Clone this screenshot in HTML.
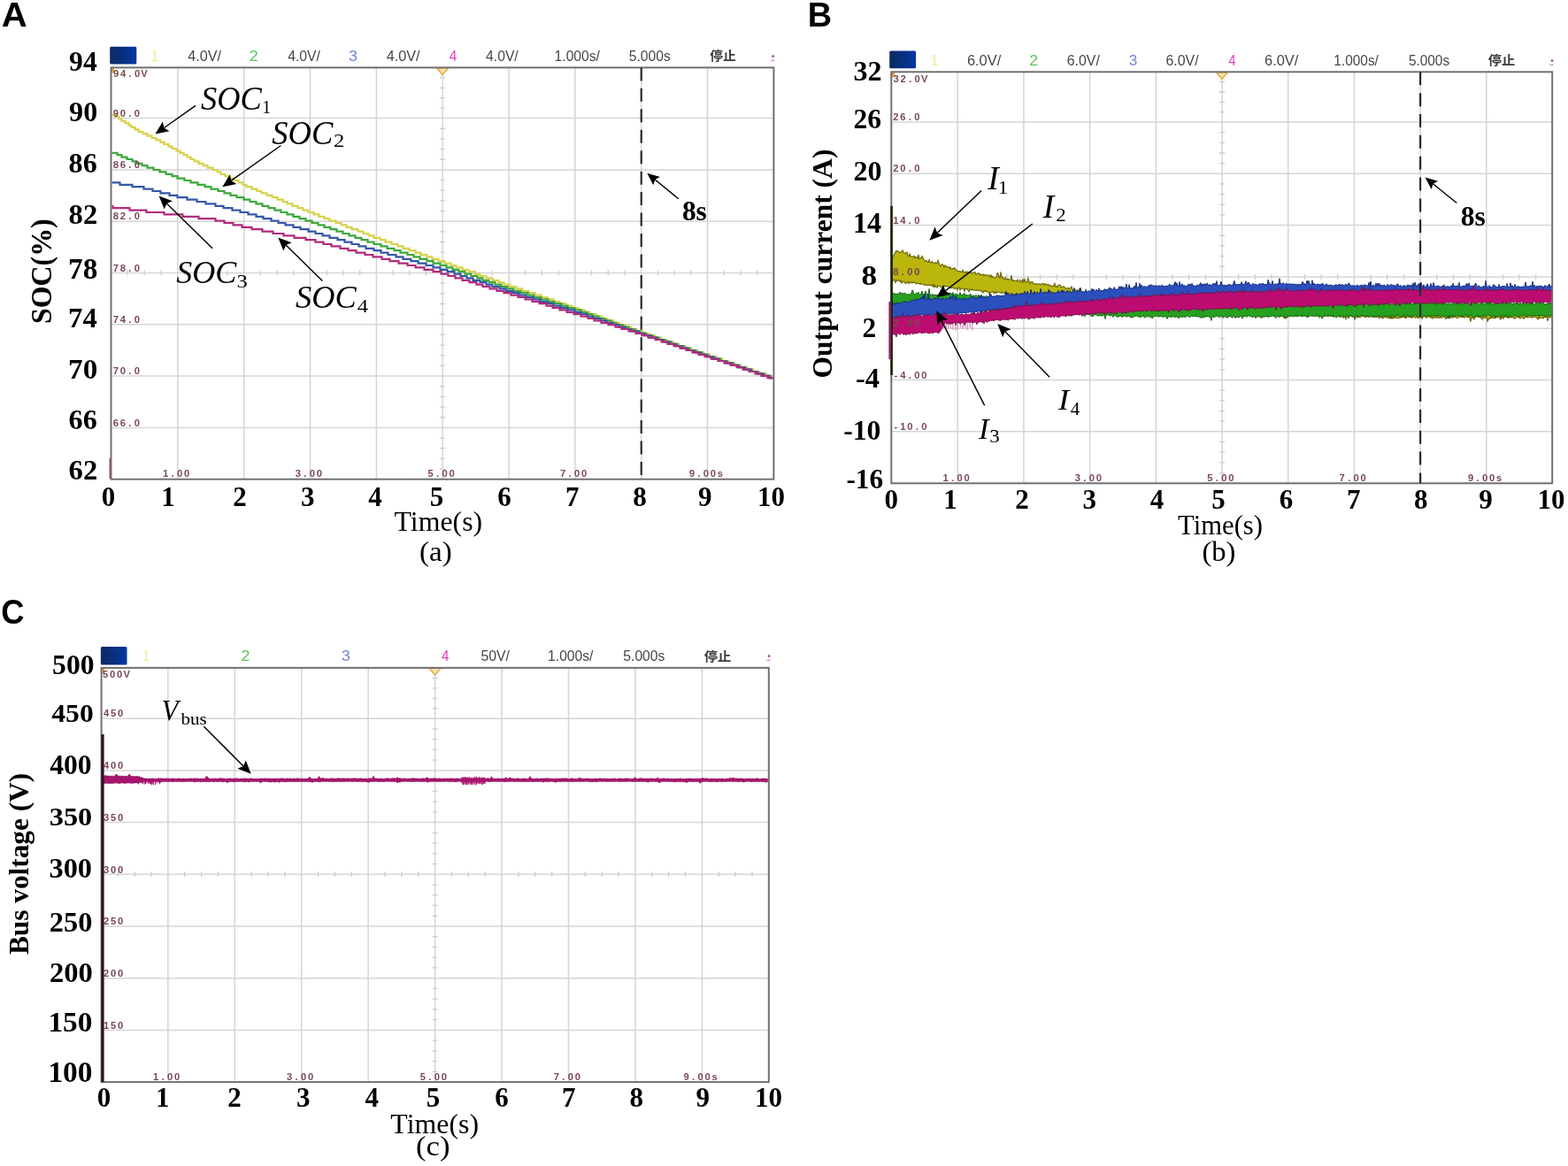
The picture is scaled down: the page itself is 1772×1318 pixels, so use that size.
<!DOCTYPE html>
<html><head><meta charset="utf-8"><title>SOC, output current and bus voltage waveforms</title>
<style>html,body{margin:0;padding:0;background:#fff;}body{width:1772px;height:1318px;overflow:hidden;}svg{display:block;}</style>
</head><body>
<svg width="1772" height="1318" viewBox="0 0 1772 1318">
<defs><linearGradient id="bx" x1="0" y1="0" x2="1" y2="0"><stop offset="0" stop-color="#0b2a66"/><stop offset="0.5" stop-color="#09307f"/><stop offset="1" stop-color="#0537a6"/></linearGradient></defs>
<rect width="1772" height="1318" fill="#fff"/>
<path d="M200.84 76.4V541.7M275.68 76.4V541.7M350.52 76.4V541.7M425.36 76.4V541.7M500.2 76.4V541.7M575.04 76.4V541.7M649.88 76.4V541.7M724.72 76.4V541.7M799.56 76.4V541.7M125.5 133.6H874.4M125.5 191.9H874.4M125.5 250.2H874.4M125.5 308.5H874.4M125.5 366.8H874.4M125.5 425.1H874.4M125.5 483.4H874.4" stroke="#d5d5d5" stroke-width="1.5" fill="none"/>
<path d="M144.34 305.5V311.5M163.17 305.5V311.5M182 305.5V311.5M219.55 305.5V311.5M238.26 305.5V311.5M256.97 305.5V311.5M294.39 305.5V311.5M313.1 305.5V311.5M331.81 305.5V311.5M369.23 305.5V311.5M387.94 305.5V311.5M406.65 305.5V311.5M444.07 305.5V311.5M462.78 305.5V311.5M481.49 305.5V311.5M518.91 305.5V311.5M537.62 305.5V311.5M556.33 305.5V311.5M593.75 305.5V311.5M612.46 305.5V311.5M631.17 305.5V311.5M668.59 305.5V311.5M687.3 305.5V311.5M706.01 305.5V311.5M743.43 305.5V311.5M762.14 305.5V311.5M780.85 305.5V311.5M818.27 305.5V311.5M836.98 305.5V311.5M855.69 305.5V311.5M497.2 87.84H503.2M497.2 99.28H503.2M497.2 110.72H503.2M497.2 122.16H503.2M497.2 145.26H503.2M497.2 156.92H503.2M497.2 168.58H503.2M497.2 180.24H503.2M497.2 203.56H503.2M497.2 215.22H503.2M497.2 226.88H503.2M497.2 238.54H503.2M497.2 261.86H503.2M497.2 273.52H503.2M497.2 285.18H503.2M497.2 296.84H503.2M497.2 320.16H503.2M497.2 331.82H503.2M497.2 343.48H503.2M497.2 355.14H503.2M497.2 378.46H503.2M497.2 390.12H503.2M497.2 401.78H503.2M497.2 413.44H503.2M497.2 436.76H503.2M497.2 448.42H503.2M497.2 460.08H503.2M497.2 471.74H503.2M497.2 495.06H503.2M497.2 506.72H503.2M497.2 518.38H503.2M497.2 530.04H503.2" stroke="#cdcdcd" stroke-width="1.3" fill="none"/>
<rect x="124.2" y="52.7" width="30.1" height="19.8" rx="1.5" fill="url(#bx)"/>
<rect x="872.3" y="62.3" width="2.6" height="2.6" fill="#b050a8"/><rect x="870.9" y="67.5" width="4.2" height="1.7" fill="#dca0d6"/>
<path d="M493.7 76.9L506.7 76.9L500.2 84.4Z" fill="#fbe3a8" stroke="#e2a640" stroke-width="1.4"/>
<path d="M124.5 518V541" stroke="#b03080" stroke-width="2"/>
<path d="M1082.2 81.3V546.3M1156.9 81.3V546.3M1231.6 81.3V546.3M1306.3 81.3V546.3M1381 81.3V546.3M1455.7 81.3V546.3M1530.4 81.3V546.3M1605.1 81.3V546.3M1679.8 81.3V546.3M1007.3 138H1754.2M1007.3 196.3H1754.2M1007.3 254.6H1754.2M1007.3 312.9H1754.2M1007.3 371.2H1754.2M1007.3 429.5H1754.2M1007.3 487.8H1754.2" stroke="#d5d5d5" stroke-width="1.5" fill="none"/>
<path d="M1026.03 309.9V315.9M1044.75 309.9V315.9M1063.47 309.9V315.9M1100.88 309.9V315.9M1119.55 309.9V315.9M1138.23 309.9V315.9M1175.58 309.9V315.9M1194.25 309.9V315.9M1212.92 309.9V315.9M1250.27 309.9V315.9M1268.95 309.9V315.9M1287.62 309.9V315.9M1324.97 309.9V315.9M1343.65 309.9V315.9M1362.33 309.9V315.9M1399.67 309.9V315.9M1418.35 309.9V315.9M1437.03 309.9V315.9M1474.38 309.9V315.9M1493.05 309.9V315.9M1511.73 309.9V315.9M1549.08 309.9V315.9M1567.75 309.9V315.9M1586.42 309.9V315.9M1623.78 309.9V315.9M1642.45 309.9V315.9M1661.12 309.9V315.9M1698.4 309.9V315.9M1717 309.9V315.9M1735.6 309.9V315.9M1378 92.64H1384M1378 103.98H1384M1378 115.32H1384M1378 126.66H1384M1378 149.66H1384M1378 161.32H1384M1378 172.98H1384M1378 184.64H1384M1378 207.96H1384M1378 219.62H1384M1378 231.28H1384M1378 242.94H1384M1378 266.26H1384M1378 277.92H1384M1378 289.58H1384M1378 301.24H1384M1378 324.56H1384M1378 336.22H1384M1378 347.88H1384M1378 359.54H1384M1378 382.86H1384M1378 394.52H1384M1378 406.18H1384M1378 417.84H1384M1378 441.16H1384M1378 452.82H1384M1378 464.48H1384M1378 476.14H1384M1378 499.5H1384M1378 511.2H1384M1378 522.9H1384M1378 534.6H1384" stroke="#cdcdcd" stroke-width="1.3" fill="none"/>
<rect x="1005.2" y="57.6" width="29.9" height="19.7" rx="1.5" fill="url(#bx)"/>
<rect x="1752.8" y="67.3" width="2.6" height="2.6" fill="#b050a8"/><rect x="1751.4" y="72.5" width="4.2" height="1.7" fill="#dca0d6"/>
<path d="M1374.5 81.8L1387.5 81.8L1381 89.3Z" fill="#fbe3a8" stroke="#e2a640" stroke-width="1.4"/>
<path d="M189.84 754.9V1223.1M265.28 754.9V1223.1M340.72 754.9V1223.1M416.16 754.9V1223.1M491.6 754.9V1223.1M567.04 754.9V1223.1M642.48 754.9V1223.1M717.92 754.9V1223.1M793.36 754.9V1223.1M114.6 812.2H868.8M114.6 870.9H868.8M114.6 929.6H868.8M114.6 988.3H868.8M114.6 1047H868.8M114.6 1105.7H868.8M114.6 1164.4H868.8" stroke="#d5d5d5" stroke-width="1.5" fill="none"/>
<path d="M133.41 985.3V991.3M152.22 985.3V991.3M171.03 985.3V991.3M208.7 985.3V991.3M227.56 985.3V991.3M246.42 985.3V991.3M284.14 985.3V991.3M303 985.3V991.3M321.86 985.3V991.3M359.58 985.3V991.3M378.44 985.3V991.3M397.3 985.3V991.3M435.02 985.3V991.3M453.88 985.3V991.3M472.74 985.3V991.3M510.46 985.3V991.3M529.32 985.3V991.3M548.18 985.3V991.3M585.9 985.3V991.3M604.76 985.3V991.3M623.62 985.3V991.3M661.34 985.3V991.3M680.2 985.3V991.3M699.06 985.3V991.3M736.78 985.3V991.3M755.64 985.3V991.3M774.5 985.3V991.3M812.22 985.3V991.3M831.08 985.3V991.3M849.94 985.3V991.3M488.6 766.36H494.6M488.6 777.82H494.6M488.6 789.28H494.6M488.6 800.74H494.6M488.6 823.94H494.6M488.6 835.68H494.6M488.6 847.42H494.6M488.6 859.16H494.6M488.6 882.64H494.6M488.6 894.38H494.6M488.6 906.12H494.6M488.6 917.86H494.6M488.6 941.34H494.6M488.6 953.08H494.6M488.6 964.82H494.6M488.6 976.56H494.6M488.6 1000.04H494.6M488.6 1011.78H494.6M488.6 1023.52H494.6M488.6 1035.26H494.6M488.6 1058.74H494.6M488.6 1070.48H494.6M488.6 1082.22H494.6M488.6 1093.96H494.6M488.6 1117.44H494.6M488.6 1129.18H494.6M488.6 1140.92H494.6M488.6 1152.66H494.6M488.6 1176.14H494.6M488.6 1187.88H494.6M488.6 1199.62H494.6M488.6 1211.36H494.6" stroke="#cdcdcd" stroke-width="1.3" fill="none"/>
<rect x="113.9" y="731" width="29.6" height="20.5" rx="1.5" fill="url(#bx)"/>
<rect x="867.8" y="740.3" width="2.6" height="2.6" fill="#b050a8"/><rect x="866.4" y="745.5" width="4.2" height="1.7" fill="#dca0d6"/>
<path d="M485.1 755.4L498.1 755.4L491.6 762.9Z" fill="#fbe3a8" stroke="#e2a640" stroke-width="1.4"/>
<path d="M126.5 129.6H130.5V132H134.5V134.4H137.5V136.8H141.5V139.2H145.5V141.6H148.5V144H152.5V146.4H156.5V148.8H161.5V151.2H166.5V153.6H171.5V156H176.5V158.4H181.5V160.8H185.5V163.2H190.5V165.6H194.5V168H199.5V170.4H203.5V172.8H207.5V175.2H211.5V177.6H215.5V180H219.5V182.4H224.5V184.8H229.5V187.2H234.5V189.6H240.5V192H245.5V194.4H249.5V196.8H254.5V199.2H259.5V201.6H264.5V204H269.5V206.4H274.5V208.8H278.5V211.2H284.5V213.6H290.5V216H295.5V218.4H301.5V220.8H307.5V223.2H313.5V225.6H319.5V228H324.5V230.4H330.5V232.8H336.5V235.2H342.5V237.6H348.5V240H354.5V242.4H360.5V244.8H366.5V247.2H372.5V249.6H379.5V252H385.5V254.4H391.5V256.8H397.5V259.2H404.5V261.6H410.5V264H416.5V266.4H422.5V268.8H429.5V271.2H435.5V273.6H442.5V276H449.5V278.4H455.5V280.8H462.5V283.2H469.5V285.6H475.5V288H482.5V290.4H488.5V292.8H495.5V295.2H502.5V297.6H509.5V300H515.5V302.4H522.5V304.8H529.5V307.2H536.5V309.6H542.5V312H549.5V314.4H556.5V316.8H563.5V319.2H569.5V321.6H576.5V324H583.5V326.4H590.5V328.8H597.5V331.2H604.5V333.6H611.5V336H618.5V338.4H625.5V340.8H632.5V343.2H639.5V345.6H646.5V348H653.5V350.4H660.5V352.8H666.5V355.2H673.5V357.6H680.5V360H686.5V362.4H693.5V364.8H699.5V367.2H706.5V369.6H713.5V372H719.5V374.4H726.5V376.8H733.5V379.2H740.5V381.6H747.5V384H754.5V386.4H760.5V388.8H767.5V391.2H774.5V393.6H781.5V396H788.5V398.4H795.5V400.8H802.5V403.2H809.5V405.6H816.5V408H823.5V410.4H830.5V412.8H837.5V415.2H844.5V417.6H851.5V420H858.5V422.4H865.5V424.8H872.5V427.2H873.6" stroke="#d6d24a" stroke-width="2.2" fill="none"/>
<path d="M126.5 172.8H132.5V175.2H137.5V177.6H143.5V180H149.5V182.4H154.5V184.8H160.5V187.2H166.5V189.6H173.5V192H180.5V194.4H187.5V196.8H194.5V199.2H200.5V201.6H208.5V204H215.5V206.4H223.5V208.8H231.5V211.2H238.5V213.6H246.5V216H253.5V218.4H260.5V220.8H267.5V223.2H275.5V225.6H282.5V228H289.5V230.4H296.5V232.8H303.5V235.2H310.5V237.6H317.5V240H324.5V242.4H331.5V244.8H338.5V247.2H345.5V249.6H352.5V252H359.5V254.4H366.5V256.8H373.5V259.2H380.5V261.6H387.5V264H394.5V266.4H401.5V268.8H408.5V271.2H415.5V273.6H422.5V276H430.5V278.4H437.5V280.8H445.5V283.2H452.5V285.6H460.5V288H467.5V290.4H474.5V292.8H482.5V295.2H489.5V297.6H497.5V300H504.5V302.4H511.5V304.8H518.5V307.2H525.5V309.6H532.5V312H539.5V314.4H545.5V316.8H552.5V319.2H559.5V321.6H566.5V324H573.5V326.4H580.5V328.8H588.5V331.2H596.5V333.6H603.5V336H611.5V338.4H619.5V340.8H626.5V343.2H634.5V345.6H641.5V348H649.5V350.4H656.5V352.8H663.5V355.2H669.5V357.6H676.5V360H683.5V362.4H690.5V364.8H696.5V367.2H703.5V369.6H710.5V372H717.5V374.4H723.5V376.8H730.5V379.2H737.5V381.6H744.5V384H751.5V386.4H758.5V388.8H765.5V391.2H772.5V393.6H779.5V396H786.5V398.4H793.5V400.8H800.5V403.2H807.5V405.6H814.5V408H821.5V410.4H828.5V412.8H835.5V415.2H842.5V417.6H849.5V420H856.5V422.4H863.5V424.8H870.5V427.2H873.6" stroke="#3aa83a" stroke-width="2.2" fill="none"/>
<path d="M126.5 206.4H135.5V208.8H149.5V211.2H162.5V213.6H172.5V216H181.5V218.4H191.5V220.8H200.5V223.2H211.5V225.6H222.5V228H232.5V230.4H243.5V232.8H252.5V235.2H262.5V237.6H271.5V240H280.5V242.4H289.5V244.8H297.5V247.2H306.5V249.6H314.5V252H322.5V254.4H331.5V256.8H339.5V259.2H348.5V261.6H356.5V264H364.5V266.4H372.5V268.8H381.5V271.2H389.5V273.6H397.5V276H405.5V278.4H413.5V280.8H422.5V283.2H430.5V285.6H438.5V288H447.5V290.4H455.5V292.8H464.5V295.2H472.5V297.6H481.5V300H489.5V302.4H497.5V304.8H505.5V307.2H513.5V309.6H520.5V312H527.5V314.4H534.5V316.8H542.5V319.2H549.5V321.6H556.5V324H564.5V326.4H571.5V328.8H579.5V331.2H586.5V333.6H594.5V336H602.5V338.4H610.5V340.8H618.5V343.2H625.5V345.6H633.5V348H641.5V350.4H649.5V352.8H656.5V355.2H663.5V357.6H670.5V360H678.5V362.4H685.5V364.8H692.5V367.2H699.5V369.6H706.5V372H713.5V374.4H721.5V376.8H728.5V379.2H735.5V381.6H742.5V384H749.5V386.4H756.5V388.8H763.5V391.2H770.5V393.6H777.5V396H784.5V398.4H791.5V400.8H798.5V403.2H805.5V405.6H812.5V408H820.5V410.4H827.5V412.8H834.5V415.2H841.5V417.6H848.5V420H855.5V422.4H862.5V424.8H869.5V427.2H873.6" stroke="#3556a8" stroke-width="2.2" fill="none"/>
<path d="M126.5 232.8H127.5V235.2H146.5V237.6H165.5V240H185.5V242.4H206.5V244.8H224.5V247.2H243.5V249.6H253.5V252H263.5V254.4H273.5V256.8H284.5V259.2H296.5V261.6H308.5V264H320.5V266.4H332.5V268.8H345.5V271.2H356.5V273.6H365.5V276H374.5V278.4H384.5V280.8H393.5V283.2H402.5V285.6H412.5V288H421.5V290.4H431.5V292.8H440.5V295.2H450.5V297.6H460.5V300H469.5V302.4H479.5V304.8H489.5V307.2H498.5V309.6H506.5V312H514.5V314.4H522.5V316.8H530.5V319.2H538.5V321.6H545.5V324H553.5V326.4H561.5V328.8H569.5V331.2H577.5V333.6H585.5V336H593.5V338.4H601.5V340.8H609.5V343.2H617.5V345.6H624.5V348H632.5V350.4H640.5V352.8H648.5V355.2H656.5V357.6H664.5V360H671.5V362.4H679.5V364.8H687.5V367.2H695.5V369.6H702.5V372H710.5V374.4H718.5V376.8H725.5V379.2H732.5V381.6H740.5V384H747.5V386.4H754.5V388.8H761.5V391.2H768.5V393.6H775.5V396H782.5V398.4H789.5V400.8H796.5V403.2H803.5V405.6H811.5V408H818.5V410.4H825.5V412.8H832.5V415.2H839.5V417.6H846.5V420H853.5V422.4H860.5V424.8H867.5V427.2H873.6" stroke="#b02a7c" stroke-width="2.2" fill="none"/>
<path d="M1008.0 291.6L1009.0 290.2L1010.0 288.6L1011.0 287.0L1012.0 285.0L1013.0 283.2L1014.0 284.4L1015.0 284.1L1016.0 284.8L1017.0 285.5L1018.0 284.9L1019.0 283.9L1020.0 282.9L1021.0 284.7L1022.0 286.3L1023.0 286.6L1024.0 285.6L1025.0 284.9L1026.0 288.9L1027.0 289.6L1028.0 286.8L1029.0 290.0L1030.0 289.8L1031.0 290.8L1032.0 289.7L1033.0 289.3L1034.0 291.8L1035.0 290.3L1036.0 290.5L1037.0 292.2L1038.0 287.7L1039.0 292.9L1040.0 291.8L1041.0 291.9L1042.0 289.4L1043.0 291.1L1044.0 293.6L1045.0 294.1L1046.0 295.3L1047.0 294.4L1048.0 296.1L1049.0 296.5L1050.0 293.5L1051.0 296.6L1052.0 297.0L1053.0 295.6L1054.0 296.4L1055.0 297.5L1056.0 297.5L1057.0 296.7L1058.0 297.4L1059.0 297.7L1060.0 294.4L1061.0 296.7L1062.0 300.1L1063.0 300.8L1064.0 298.9L1065.0 298.6L1066.0 299.9L1067.0 302.1L1068.0 299.9L1069.0 300.7L1070.0 301.9L1071.0 301.3L1072.0 301.6L1073.0 303.4L1074.0 302.0L1075.0 304.5L1076.0 304.4L1077.0 303.1L1078.0 304.1L1079.0 302.7L1080.0 304.6L1081.0 305.5L1082.0 306.2L1083.0 306.7L1084.0 306.6L1085.0 306.6L1086.0 307.4L1087.0 307.2L1088.0 305.3L1089.0 307.5L1090.0 308.0L1091.0 307.0L1092.0 308.5L1093.0 307.0L1094.0 308.0L1095.0 307.2L1096.0 308.3L1097.0 307.1L1098.0 308.8L1099.0 308.4L1100.0 308.9L1101.0 307.8L1102.0 307.7L1103.0 310.3L1104.0 309.7L1105.0 308.9L1106.0 308.6L1107.0 310.1L1108.0 309.9L1109.0 311.3L1110.0 310.4L1111.0 309.8L1112.0 311.8L1113.0 310.5L1114.0 310.6L1115.0 311.6L1116.0 311.7L1117.0 310.6L1118.0 311.5L1119.0 313.3L1120.0 311.1L1121.0 313.5L1122.0 312.3L1123.0 313.8L1124.0 314.1L1125.0 313.7L1126.0 313.6L1127.0 308.4L1128.0 308.8L1129.0 313.2L1130.0 314.1L1131.0 307.3L1132.0 313.6L1133.0 312.8L1134.0 315.5L1135.0 315.9L1136.0 313.4L1137.0 315.9L1138.0 315.1L1139.0 315.9L1140.0 315.6L1141.0 316.3L1142.0 316.2L1143.0 311.1L1144.0 317.4L1145.0 316.3L1146.0 317.4L1147.0 317.2L1148.0 317.5L1149.0 317.6L1150.0 316.0L1151.0 318.4L1152.0 318.7L1153.0 316.4L1154.0 317.7L1155.0 318.9L1156.0 315.6L1157.0 319.1L1158.0 315.6L1159.0 318.3L1160.0 319.2L1161.0 317.7L1162.0 314.3L1163.0 318.3L1164.0 320.5L1165.0 318.9L1166.0 318.9L1167.0 318.7L1168.0 320.9L1169.0 321.1L1170.0 320.2L1171.0 321.4L1172.0 321.2L1173.0 320.6L1174.0 321.4L1175.0 320.9L1176.0 321.9L1177.0 321.3L1178.0 320.1L1179.0 320.6L1180.0 322.2L1181.0 320.5L1182.0 321.1L1183.0 322.3L1184.0 321.4L1185.0 321.7L1186.0 323.0L1187.0 322.5L1188.0 323.7L1189.0 323.4L1190.0 323.8L1191.0 322.3L1192.0 320.4L1193.0 324.5L1194.0 323.5L1195.0 324.5L1196.0 322.1L1197.0 322.3L1198.0 321.9L1199.0 324.7L1200.0 324.4L1201.0 324.5L1202.0 323.7L1203.0 324.3L1204.0 326.3L1205.0 325.7L1206.0 326.3L1207.0 325.4L1208.0 326.7L1209.0 325.7L1210.0 325.2L1211.0 324.0L1212.0 327.5L1213.0 328.0L1214.0 326.8L1215.0 328.0L1216.0 327.9L1217.0 328.4L1218.0 327.9L1219.0 328.6L1220.0 326.2L1221.0 325.4L1222.0 329.8L1223.0 330.7L1224.0 330.6L1225.0 330.6L1226.0 331.2L1227.0 326.5L1228.0 332.1L1229.0 331.2L1230.0 333.1L1231.0 333.2L1232.0 331.3L1233.0 334.1L1234.0 328.9L1235.0 334.2L1236.0 333.4L1237.0 333.7L1238.0 336.0L1239.0 333.7L1240.0 332.0L1241.0 334.3L1242.0 336.4L1243.0 337.1L1244.0 333.5L1245.0 335.0L1246.0 336.0L1247.0 336.8L1248.0 337.9L1249.0 336.2L1250.0 334.3L1251.0 336.4L1252.0 338.0L1253.0 336.5L1254.0 337.5L1255.0 333.7L1256.0 336.2L1257.0 338.5L1258.0 337.7L1259.0 339.2L1260.0 338.5L1261.0 338.9L1262.0 337.4L1263.0 338.2L1264.0 336.0L1265.0 339.0L1266.0 340.3L1267.0 335.7L1268.0 339.9L1269.0 338.6L1270.0 336.1L1271.0 341.1L1272.0 338.7L1273.0 338.8L1274.0 340.5L1275.0 340.1L1276.0 341.6L1277.0 341.7L1278.0 341.9L1279.0 341.2L1280.0 340.7L1281.0 339.5L1282.0 340.2L1283.0 337.7L1284.0 342.1L1285.0 339.3L1286.0 339.3L1287.0 342.0L1288.0 339.1L1289.0 340.5L1290.0 342.6L1291.0 341.6L1292.0 343.6L1293.0 343.7L1294.0 341.1L1295.0 341.8L1296.0 343.4L1297.0 343.2L1298.0 344.6L1299.0 344.6L1300.0 344.4L1301.0 344.5L1302.0 344.7L1303.0 344.6L1304.0 338.1L1305.0 345.0L1306.0 344.4L1307.0 345.3L1308.0 345.0L1309.0 345.4L1310.0 344.8L1311.0 345.5L1312.0 345.1L1313.0 344.8L1314.0 344.1L1315.0 345.0L1316.0 345.1L1317.0 345.4L1318.0 344.3L1319.0 343.7L1320.0 344.7L1321.0 344.2L1322.0 345.8L1323.0 345.2L1324.0 344.9L1325.0 343.8L1326.0 346.3L1327.0 344.3L1328.0 344.8L1329.0 346.0L1330.0 345.7L1331.0 344.8L1332.0 344.7L1333.0 345.6L1334.0 346.6L1335.0 345.5L1336.0 344.6L1337.0 346.4L1338.0 346.3L1339.0 345.0L1340.0 345.0L1341.0 345.6L1342.0 345.7L1343.0 346.2L1344.0 346.1L1345.0 344.4L1346.0 346.4L1347.0 346.2L1348.0 344.2L1349.0 345.1L1350.0 344.8L1351.0 346.3L1352.0 345.0L1353.0 345.3L1354.0 344.8L1355.0 346.3L1356.0 345.5L1357.0 343.5L1358.0 345.1L1359.0 343.9L1360.0 345.4L1361.0 346.4L1362.0 344.8L1363.0 344.8L1364.0 346.7L1365.0 345.3L1366.0 344.3L1367.0 345.2L1368.0 346.2L1369.0 342.7L1370.0 346.3L1371.0 341.5L1372.0 346.5L1373.0 345.1L1374.0 345.1L1375.0 346.3L1376.0 346.1L1377.0 346.8L1378.0 346.1L1379.0 345.9L1380.0 346.3L1381.0 344.5L1382.0 343.8L1383.0 343.8L1384.0 346.4L1385.0 343.4L1386.0 346.3L1387.0 344.5L1388.0 346.8L1389.0 342.3L1390.0 343.4L1391.0 343.7L1392.0 345.8L1393.0 344.0L1394.0 344.8L1395.0 345.5L1396.0 344.9L1397.0 340.9L1398.0 346.3L1399.0 345.9L1400.0 345.8L1401.0 344.7L1402.0 345.1L1403.0 344.1L1404.0 345.8L1405.0 345.6L1406.0 344.3L1407.0 345.9L1408.0 345.9L1409.0 342.5L1410.0 346.8L1411.0 345.2L1412.0 346.6L1413.0 345.5L1414.0 341.7L1415.0 345.1L1416.0 345.7L1417.0 345.8L1418.0 346.7L1419.0 345.3L1420.0 343.9L1421.0 343.3L1422.0 346.4L1423.0 344.9L1424.0 345.6L1425.0 344.6L1426.0 344.2L1427.0 346.4L1428.0 346.9L1429.0 343.1L1430.0 345.7L1431.0 341.9L1432.0 343.4L1433.0 342.5L1434.0 344.2L1435.0 345.4L1436.0 342.7L1437.0 345.0L1438.0 346.3L1439.0 346.1L1440.0 339.2L1441.0 346.6L1442.0 346.5L1443.0 346.4L1444.0 344.6L1445.0 344.1L1446.0 344.0L1447.0 343.8L1448.0 346.3L1449.0 343.7L1450.0 346.8L1451.0 346.2L1452.0 340.8L1453.0 345.3L1454.0 343.8L1455.0 346.2L1456.0 346.9L1457.0 346.2L1458.0 346.1L1459.0 347.0L1460.0 345.1L1461.0 342.8L1462.0 346.0L1463.0 343.7L1464.0 340.2L1465.0 346.2L1466.0 346.8L1467.0 344.3L1468.0 347.0L1469.0 345.7L1470.0 344.0L1471.0 346.9L1472.0 345.8L1473.0 345.2L1474.0 347.0L1475.0 346.4L1476.0 346.1L1477.0 344.9L1478.0 346.7L1479.0 346.4L1480.0 346.1L1481.0 345.7L1482.0 345.4L1483.0 346.8L1484.0 346.4L1485.0 344.0L1486.0 345.4L1487.0 346.6L1488.0 345.6L1489.0 345.4L1490.0 346.2L1491.0 346.0L1492.0 346.7L1493.0 345.5L1494.0 346.1L1495.0 346.2L1496.0 344.7L1497.0 346.8L1498.0 346.5L1499.0 346.9L1500.0 342.9L1501.0 346.3L1502.0 345.3L1503.0 345.4L1504.0 346.3L1505.0 346.5L1506.0 346.4L1507.0 345.3L1508.0 343.6L1509.0 343.4L1510.0 345.1L1511.0 345.8L1512.0 344.7L1513.0 345.9L1514.0 344.0L1515.0 343.2L1516.0 346.6L1517.0 341.6L1518.0 344.9L1519.0 346.3L1520.0 346.6L1521.0 343.9L1522.0 346.7L1523.0 345.8L1524.0 345.0L1525.0 341.6L1526.0 346.3L1527.0 346.2L1528.0 344.7L1529.0 345.9L1530.0 346.9L1531.0 346.0L1532.0 343.5L1533.0 347.0L1534.0 345.6L1535.0 343.8L1536.0 346.9L1537.0 345.8L1538.0 347.0L1539.0 345.7L1540.0 345.5L1541.0 346.3L1542.0 343.4L1543.0 344.3L1544.0 345.8L1545.0 346.2L1546.0 345.9L1547.0 343.2L1548.0 345.3L1549.0 346.1L1550.0 345.0L1551.0 345.2L1552.0 346.5L1553.0 343.2L1554.0 344.1L1555.0 345.2L1556.0 344.7L1557.0 342.7L1558.0 346.0L1559.0 347.0L1560.0 346.7L1561.0 346.1L1562.0 344.9L1563.0 345.7L1564.0 347.0L1565.0 344.0L1566.0 344.0L1567.0 344.9L1568.0 347.0L1569.0 347.0L1570.0 345.5L1571.0 346.8L1572.0 344.7L1573.0 346.3L1574.0 346.6L1575.0 345.8L1576.0 346.2L1577.0 346.5L1578.0 345.4L1579.0 346.1L1580.0 345.6L1581.0 346.0L1582.0 345.4L1583.0 347.0L1584.0 345.0L1585.0 346.4L1586.0 347.1L1587.0 346.4L1588.0 341.8L1589.0 344.5L1590.0 343.3L1591.0 346.9L1592.0 346.3L1593.0 347.1L1594.0 346.5L1595.0 343.8L1596.0 346.1L1597.0 345.3L1598.0 346.6L1599.0 343.0L1600.0 342.1L1601.0 346.8L1602.0 345.6L1603.0 345.7L1604.0 346.7L1605.0 347.0L1606.0 343.8L1607.0 345.1L1608.0 346.2L1609.0 345.0L1610.0 347.0L1611.0 346.6L1612.0 345.8L1613.0 346.6L1614.0 346.5L1615.0 345.7L1616.0 346.2L1617.0 343.1L1618.0 346.0L1619.0 343.6L1620.0 346.5L1621.0 340.9L1622.0 347.1L1623.0 346.6L1624.0 345.0L1625.0 346.7L1626.0 347.1L1627.0 345.5L1628.0 342.5L1629.0 344.6L1630.0 346.8L1631.0 343.1L1632.0 346.1L1633.0 345.4L1634.0 344.3L1635.0 344.1L1636.0 346.4L1637.0 345.7L1638.0 346.9L1639.0 344.9L1640.0 345.4L1641.0 345.3L1642.0 346.9L1643.0 347.2L1644.0 345.7L1645.0 345.4L1646.0 347.1L1647.0 346.9L1648.0 346.9L1649.0 345.2L1650.0 347.0L1651.0 345.6L1652.0 347.3L1653.0 345.8L1654.0 347.2L1655.0 347.2L1656.0 344.7L1657.0 346.0L1658.0 347.1L1659.0 346.5L1660.0 347.2L1661.0 345.0L1662.0 347.1L1663.0 345.6L1664.0 345.9L1665.0 346.3L1666.0 344.8L1667.0 346.6L1668.0 347.3L1669.0 347.0L1670.0 347.2L1671.0 347.5L1672.0 345.5L1673.0 346.4L1674.0 346.9L1675.0 347.0L1676.0 343.8L1677.0 346.1L1678.0 347.1L1679.0 345.9L1680.0 346.2L1681.0 347.3L1682.0 347.4L1683.0 346.0L1684.0 347.0L1685.0 342.2L1686.0 344.3L1687.0 347.6L1688.0 346.9L1689.0 346.5L1690.0 345.6L1691.0 347.1L1692.0 346.9L1693.0 345.7L1694.0 346.6L1695.0 346.4L1696.0 346.9L1697.0 345.3L1698.0 346.5L1699.0 343.3L1700.0 347.6L1701.0 342.1L1702.0 347.1L1703.0 346.8L1704.0 345.8L1705.0 346.5L1706.0 345.8L1707.0 345.2L1708.0 342.9L1709.0 345.8L1710.0 346.0L1711.0 344.0L1712.0 347.0L1713.0 346.7L1714.0 343.5L1715.0 347.4L1716.0 346.6L1717.0 345.2L1718.0 343.5L1719.0 347.8L1720.0 345.7L1721.0 346.4L1722.0 347.5L1723.0 346.0L1724.0 346.1L1725.0 347.4L1726.0 345.6L1727.0 347.5L1728.0 347.5L1729.0 346.7L1730.0 347.2L1731.0 347.3L1732.0 347.8L1733.0 346.7L1734.0 347.7L1735.0 347.0L1736.0 347.4L1737.0 345.8L1738.0 347.3L1739.0 346.2L1740.0 346.2L1741.0 344.7L1742.0 347.6L1743.0 345.5L1744.0 344.5L1745.0 346.2L1746.0 344.6L1747.0 345.0L1748.0 347.6L1749.0 346.5L1750.0 347.4L1751.0 345.7L1752.0 345.7L1753.0 345.0L1754.0 342.1L1754.0 359.3L1753.0 358.0L1752.0 358.6L1751.0 358.6L1750.0 358.3L1749.0 362.9L1748.0 358.2L1747.0 358.1L1746.0 358.4L1745.0 358.3L1744.0 360.1L1743.0 358.8L1742.0 359.1L1741.0 359.3L1740.0 359.7L1739.0 359.4L1738.0 361.1L1737.0 359.7L1736.0 358.8L1735.0 358.2L1734.0 358.1L1733.0 358.1L1732.0 358.6L1731.0 359.2L1730.0 358.1L1729.0 358.6L1728.0 358.5L1727.0 358.2L1726.0 358.4L1725.0 358.7L1724.0 358.6L1723.0 358.1L1722.0 360.5L1721.0 359.0L1720.0 358.2L1719.0 359.1L1718.0 360.0L1717.0 357.9L1716.0 359.1L1715.0 358.1L1714.0 358.7L1713.0 358.3L1712.0 360.4L1711.0 359.5L1710.0 359.2L1709.0 358.3L1708.0 358.3L1707.0 358.3L1706.0 359.2L1705.0 358.4L1704.0 359.3L1703.0 358.2L1702.0 358.3L1701.0 358.1L1700.0 358.2L1699.0 360.1L1698.0 358.4L1697.0 359.4L1696.0 361.1L1695.0 360.0L1694.0 358.6L1693.0 358.3L1692.0 358.3L1691.0 358.7L1690.0 359.7L1689.0 357.9L1688.0 359.8L1687.0 358.8L1686.0 359.2L1685.0 359.2L1684.0 360.4L1683.0 359.6L1682.0 361.2L1681.0 363.2L1680.0 358.2L1679.0 358.3L1678.0 359.8L1677.0 359.5L1676.0 358.2L1675.0 361.1L1674.0 359.8L1673.0 358.4L1672.0 358.2L1671.0 358.3L1670.0 358.3L1669.0 357.8L1668.0 357.8L1667.0 359.0L1666.0 360.9L1665.0 359.5L1664.0 359.0L1663.0 358.5L1662.0 363.7L1661.0 359.2L1660.0 358.6L1659.0 358.7L1658.0 358.1L1657.0 357.8L1656.0 358.5L1655.0 359.2L1654.0 358.1L1653.0 358.1L1652.0 358.8L1651.0 357.8L1650.0 358.0L1649.0 357.8L1648.0 358.7L1647.0 359.8L1646.0 359.4L1645.0 358.0L1644.0 358.3L1643.0 358.7L1642.0 357.7L1641.0 359.4L1640.0 358.0L1639.0 358.7L1638.0 358.0L1637.0 359.6L1636.0 359.3L1635.0 358.4L1634.0 360.4L1633.0 359.6L1632.0 358.0L1631.0 357.8L1630.0 358.9L1629.0 359.5L1628.0 358.1L1627.0 359.1L1626.0 359.5L1625.0 358.2L1624.0 359.3L1623.0 359.5L1622.0 357.8L1621.0 359.3L1620.0 358.7L1619.0 360.1L1618.0 358.8L1617.0 359.3L1616.0 357.9L1615.0 358.5L1614.0 357.8L1613.0 358.0L1612.0 358.2L1611.0 357.8L1610.0 357.8L1609.0 357.8L1608.0 358.3L1607.0 360.4L1606.0 358.1L1605.0 358.1L1604.0 358.9L1603.0 359.6L1602.0 357.7L1601.0 358.8L1600.0 359.4L1599.0 358.7L1598.0 357.8L1597.0 357.6L1596.0 359.3L1595.0 358.4L1594.0 358.6L1593.0 358.7L1592.0 357.9L1591.0 358.3L1590.0 358.2L1589.0 359.6L1588.0 359.0L1587.0 357.8L1586.0 358.1L1585.0 358.1L1584.0 358.8L1583.0 358.0L1582.0 359.8L1581.0 359.1L1580.0 359.5L1579.0 359.9L1578.0 357.7L1577.0 359.3L1576.0 358.0L1575.0 359.9L1574.0 358.4L1573.0 360.3L1572.0 358.2L1571.0 359.8L1570.0 357.9L1569.0 359.8L1568.0 358.0L1567.0 358.9L1566.0 359.0L1565.0 357.5L1564.0 358.8L1563.0 359.6L1562.0 358.6L1561.0 357.8L1560.0 358.0L1559.0 359.8L1558.0 358.4L1557.0 358.1L1556.0 358.5L1555.0 358.7L1554.0 357.3L1553.0 358.9L1552.0 357.6L1551.0 358.4L1550.0 357.3L1549.0 357.7L1548.0 358.0L1547.0 358.4L1546.0 357.2L1545.0 357.9L1544.0 357.9L1543.0 358.5L1542.0 357.8L1541.0 357.9L1540.0 357.5L1539.0 357.0L1538.0 357.5L1537.0 359.0L1536.0 357.9L1535.0 358.5L1534.0 359.0L1533.0 357.0L1532.0 358.1L1531.0 360.7L1530.0 357.0L1529.0 358.2L1528.0 357.9L1527.0 356.8L1526.0 356.9L1525.0 357.1L1524.0 356.3L1523.0 357.6L1522.0 358.3L1521.0 360.7L1520.0 356.9L1519.0 357.0L1518.0 359.4L1517.0 357.3L1516.0 356.7L1515.0 358.8L1514.0 358.1L1513.0 356.8L1512.0 356.5L1511.0 356.6L1510.0 355.8L1509.0 355.8L1508.0 356.9L1507.0 357.6L1506.0 356.0L1505.0 356.6L1504.0 357.9L1503.0 356.6L1502.0 356.0L1501.0 357.9L1500.0 355.5L1499.0 355.6L1498.0 357.3L1497.0 357.5L1496.0 357.0L1495.0 356.4L1494.0 356.0L1493.0 355.9L1492.0 355.8L1491.0 358.9L1490.0 356.1L1489.0 356.8L1488.0 355.7L1487.0 356.8L1486.0 356.4L1485.0 356.3L1484.0 355.9L1483.0 356.8L1482.0 356.5L1481.0 355.7L1480.0 356.1L1479.0 356.3L1478.0 355.6L1477.0 356.1L1476.0 355.5L1475.0 355.5L1474.0 356.7L1473.0 355.9L1472.0 357.9L1471.0 356.5L1470.0 357.1L1469.0 356.2L1468.0 356.1L1467.0 356.7L1466.0 356.0L1465.0 355.6L1464.0 355.7L1463.0 356.1L1462.0 356.3L1461.0 355.8L1460.0 355.4L1459.0 355.8L1458.0 356.2L1457.0 355.4L1456.0 355.4L1455.0 356.4L1454.0 355.7L1453.0 360.5L1452.0 356.4L1451.0 359.4L1450.0 356.1L1449.0 355.8L1448.0 355.9L1447.0 356.4L1446.0 355.4L1445.0 355.5L1444.0 356.0L1443.0 355.6L1442.0 356.4L1441.0 356.6L1440.0 357.5L1439.0 356.5L1438.0 356.1L1437.0 357.2L1436.0 356.0L1435.0 357.2L1434.0 356.3L1433.0 357.2L1432.0 355.9L1431.0 356.7L1430.0 356.2L1429.0 356.4L1428.0 358.1L1427.0 357.5L1426.0 359.5L1425.0 355.3L1424.0 356.1L1423.0 355.9L1422.0 355.6L1421.0 358.1L1420.0 355.7L1419.0 358.8L1418.0 356.5L1417.0 356.3L1416.0 356.4L1415.0 356.8L1414.0 356.4L1413.0 355.7L1412.0 355.9L1411.0 355.4L1410.0 356.8L1409.0 356.5L1408.0 355.4L1407.0 355.6L1406.0 355.9L1405.0 357.6L1404.0 355.6L1403.0 355.8L1402.0 355.9L1401.0 357.4L1400.0 355.9L1399.0 356.6L1398.0 356.1L1397.0 355.6L1396.0 356.6L1395.0 356.5L1394.0 355.8L1393.0 356.2L1392.0 355.7L1391.0 355.3L1390.0 355.8L1389.0 356.7L1388.0 355.5L1387.0 355.4L1386.0 355.3L1385.0 355.3L1384.0 355.4L1383.0 356.7L1382.0 357.7L1381.0 355.7L1380.0 356.3L1379.0 355.5L1378.0 356.1L1377.0 355.4L1376.0 356.3L1375.0 356.6L1374.0 356.0L1373.0 355.9L1372.0 355.9L1371.0 356.7L1370.0 356.0L1369.0 355.2L1368.0 356.2L1367.0 355.8L1366.0 355.4L1365.0 357.1L1364.0 355.3L1363.0 358.0L1362.0 355.4L1361.0 355.2L1360.0 357.0L1359.0 355.2L1358.0 355.1L1357.0 356.1L1356.0 356.1L1355.0 356.4L1354.0 356.4L1353.0 356.1L1352.0 357.2L1351.0 355.7L1350.0 355.6L1349.0 356.8L1348.0 355.8L1347.0 356.0L1346.0 356.3L1345.0 355.0L1344.0 355.7L1343.0 356.0L1342.0 355.2L1341.0 356.4L1340.0 355.3L1339.0 356.5L1338.0 357.1L1337.0 356.9L1336.0 355.8L1335.0 356.7L1334.0 355.5L1333.0 355.1L1332.0 356.5L1331.0 355.5L1330.0 357.5L1329.0 354.8L1328.0 356.4L1327.0 355.6L1326.0 355.9L1325.0 355.6L1324.0 354.9L1323.0 356.8L1322.0 356.5L1321.0 355.2L1320.0 355.2L1319.0 354.5L1318.0 354.7L1317.0 354.9L1316.0 356.3L1315.0 354.5L1314.0 357.4L1313.0 355.6L1312.0 354.9L1311.0 355.1L1310.0 354.5L1309.0 355.0L1308.0 354.8L1307.0 356.2L1306.0 354.7L1305.0 356.7L1304.0 356.4L1303.0 355.7L1302.0 354.4L1301.0 355.8L1300.0 354.8L1299.0 354.6L1298.0 353.8L1297.0 354.3L1296.0 353.7L1295.0 354.2L1294.0 354.8L1293.0 354.3L1292.0 353.2L1291.0 354.1L1290.0 354.3L1289.0 353.2L1288.0 354.1L1287.0 357.5L1286.0 354.2L1285.0 352.5L1284.0 352.2L1283.0 353.6L1282.0 352.6L1281.0 352.2L1280.0 353.0L1279.0 352.3L1278.0 354.3L1277.0 351.5L1276.0 352.9L1275.0 351.5L1274.0 353.1L1273.0 351.4L1272.0 351.2L1271.0 350.7L1270.0 351.4L1269.0 350.5L1268.0 350.5L1267.0 352.6L1266.0 352.8L1265.0 351.3L1264.0 350.3L1263.0 350.7L1262.0 351.7L1261.0 349.9L1260.0 350.0L1259.0 350.9L1258.0 349.7L1257.0 349.0L1256.0 351.5L1255.0 350.5L1254.0 349.2L1253.0 349.8L1252.0 348.8L1251.0 350.2L1250.0 350.0L1249.0 350.4L1248.0 350.0L1247.0 348.9L1246.0 349.8L1245.0 350.3L1244.0 347.6L1243.0 349.5L1242.0 347.4L1241.0 348.5L1240.0 350.1L1239.0 346.9L1238.0 348.6L1237.0 346.6L1236.0 346.9L1235.0 346.6L1234.0 346.2L1233.0 345.6L1232.0 345.3L1231.0 345.6L1230.0 345.6L1229.0 345.4L1228.0 344.3L1227.0 344.2L1226.0 344.1L1225.0 343.6L1224.0 343.6L1223.0 343.3L1222.0 344.0L1221.0 343.5L1220.0 345.5L1219.0 343.7L1218.0 342.5L1217.0 342.2L1216.0 341.8L1215.0 342.1L1214.0 341.2L1213.0 342.5L1212.0 341.8L1211.0 343.3L1210.0 342.0L1209.0 343.0L1208.0 340.0L1207.0 340.4L1206.0 341.5L1205.0 340.2L1204.0 339.6L1203.0 340.1L1202.0 340.0L1201.0 340.0L1200.0 338.3L1199.0 338.2L1198.0 338.1L1197.0 338.1L1196.0 339.1L1195.0 339.0L1194.0 339.3L1193.0 338.5L1192.0 337.5L1191.0 338.6L1190.0 340.5L1189.0 339.7L1188.0 338.6L1187.0 341.6L1186.0 338.9L1185.0 336.7L1184.0 337.9L1183.0 336.2L1182.0 336.5L1181.0 336.1L1180.0 336.3L1179.0 336.9L1178.0 335.7L1177.0 336.3L1176.0 336.4L1175.0 337.9L1174.0 335.8L1173.0 334.9L1172.0 335.5L1171.0 334.9L1170.0 335.0L1169.0 334.6L1168.0 335.2L1167.0 334.6L1166.0 335.7L1165.0 334.6L1164.0 335.5L1163.0 334.5L1162.0 334.0L1161.0 334.2L1160.0 333.8L1159.0 335.3L1158.0 333.4L1157.0 333.0L1156.0 333.9L1155.0 333.7L1154.0 333.7L1153.0 333.3L1152.0 333.7L1151.0 333.3L1150.0 332.8L1149.0 334.7L1148.0 332.7L1147.0 333.4L1146.0 335.1L1145.0 332.7L1144.0 336.6L1143.0 332.1L1142.0 332.9L1141.0 332.3L1140.0 331.5L1139.0 331.2L1138.0 331.5L1137.0 332.0L1136.0 332.6L1135.0 330.7L1134.0 331.1L1133.0 330.4L1132.0 331.5L1131.0 330.6L1130.0 330.4L1129.0 330.2L1128.0 330.3L1127.0 330.1L1126.0 331.3L1125.0 329.6L1124.0 331.4L1123.0 331.5L1122.0 329.3L1121.0 329.9L1120.0 330.7L1119.0 330.3L1118.0 332.9L1117.0 330.1L1116.0 329.4L1115.0 329.9L1114.0 328.6L1113.0 329.6L1112.0 328.4L1111.0 331.1L1110.0 329.5L1109.0 329.4L1108.0 328.4L1107.0 328.5L1106.0 328.5L1105.0 327.6L1104.0 328.4L1103.0 328.0L1102.0 328.2L1101.0 327.8L1100.0 328.2L1099.0 326.9L1098.0 327.7L1097.0 327.9L1096.0 326.7L1095.0 329.9L1094.0 328.1L1093.0 326.5L1092.0 326.6L1091.0 326.2L1090.0 329.3L1089.0 325.9L1088.0 326.3L1087.0 326.3L1086.0 326.0L1085.0 328.0L1084.0 325.1L1083.0 325.1L1082.0 327.8L1081.0 325.9L1080.0 325.5L1079.0 326.6L1078.0 326.0L1077.0 325.1L1076.0 325.5L1075.0 325.6L1074.0 324.6L1073.0 325.1L1072.0 324.3L1071.0 323.7L1070.0 323.8L1069.0 323.5L1068.0 323.6L1067.0 323.2L1066.0 324.6L1065.0 324.2L1064.0 324.7L1063.0 324.3L1062.0 323.3L1061.0 322.9L1060.0 322.5L1059.0 325.2L1058.0 324.2L1057.0 322.6L1056.0 324.9L1055.0 321.8L1054.0 323.9L1053.0 321.7L1052.0 323.0L1051.0 321.9L1050.0 322.1L1049.0 322.0L1048.0 322.5L1047.0 322.6L1046.0 321.4L1045.0 322.4L1044.0 321.9L1043.0 321.5L1042.0 320.9L1041.0 320.2L1040.0 321.6L1039.0 320.6L1038.0 320.4L1037.0 320.5L1036.0 320.4L1035.0 320.8L1034.0 319.5L1033.0 319.5L1032.0 318.8L1031.0 320.0L1030.0 318.7L1029.0 319.6L1028.0 319.0L1027.0 320.8L1026.0 318.2L1025.0 319.0L1024.0 320.7L1023.0 320.4L1022.0 318.2L1021.0 318.3L1020.0 318.2L1019.0 320.2L1018.0 317.4L1017.0 318.6L1016.0 316.9L1015.0 316.4L1014.0 317.6L1013.0 316.6L1012.0 319.6L1011.0 316.6L1010.0 316.2L1009.0 317.8L1008.0 318.5Z" fill="#bab60e" stroke="#6a6608" stroke-width="1.1"/>
<path d="M1008.0 332.9L1009.0 331.4L1010.0 331.3L1011.0 332.9L1012.0 331.5L1013.0 332.8L1014.0 331.9L1015.0 332.0L1016.0 332.6L1017.0 330.0L1018.0 331.8L1019.0 331.5L1020.0 330.9L1021.0 332.7L1022.0 331.3L1023.0 331.2L1024.0 332.7L1025.0 333.0L1026.0 333.0L1027.0 332.5L1028.0 332.9L1029.0 333.0L1030.0 331.0L1031.0 327.7L1032.0 329.2L1033.0 333.1L1034.0 332.8L1035.0 331.4L1036.0 331.3L1037.0 331.6L1038.0 330.0L1039.0 333.4L1040.0 333.3L1041.0 331.2L1042.0 329.0L1043.0 332.4L1044.0 333.1L1045.0 332.0L1046.0 328.9L1047.0 332.4L1048.0 332.3L1049.0 333.4L1050.0 326.4L1051.0 333.2L1052.0 333.6L1053.0 332.5L1054.0 332.8L1055.0 333.5L1056.0 333.3L1057.0 333.2L1058.0 333.5L1059.0 333.2L1060.0 333.4L1061.0 333.4L1062.0 331.3L1063.0 333.2L1064.0 333.1L1065.0 331.9L1066.0 331.7L1067.0 332.2L1068.0 332.6L1069.0 332.7L1070.0 332.2L1071.0 331.4L1072.0 333.8L1073.0 330.8L1074.0 332.0L1075.0 331.4L1076.0 332.4L1077.0 330.4L1078.0 333.4L1079.0 333.4L1080.0 331.9L1081.0 332.0L1082.0 333.8L1083.0 333.5L1084.0 332.5L1085.0 330.5L1086.0 333.1L1087.0 333.3L1088.0 333.9L1089.0 331.7L1090.0 331.7L1091.0 333.4L1092.0 333.5L1093.0 333.3L1094.0 334.3L1095.0 333.4L1096.0 333.1L1097.0 332.2L1098.0 334.7L1099.0 334.5L1100.0 333.8L1101.0 334.6L1102.0 334.9L1103.0 333.2L1104.0 334.5L1105.0 335.6L1106.0 333.0L1107.0 334.6L1108.0 335.3L1109.0 333.3L1110.0 334.8L1111.0 335.9L1112.0 334.5L1113.0 336.1L1114.0 335.9L1115.0 334.0L1116.0 335.6L1117.0 336.6L1118.0 335.8L1119.0 335.4L1120.0 334.8L1121.0 336.6L1122.0 335.4L1123.0 334.5L1124.0 336.0L1125.0 336.3L1126.0 337.0L1127.0 334.5L1128.0 336.7L1129.0 337.0L1130.0 336.0L1131.0 334.6L1132.0 337.5L1133.0 334.5L1134.0 338.0L1135.0 338.0L1136.0 337.9L1137.0 337.4L1138.0 337.1L1139.0 336.9L1140.0 338.3L1141.0 337.8L1142.0 337.6L1143.0 337.4L1144.0 338.0L1145.0 338.5L1146.0 338.9L1147.0 338.9L1148.0 338.1L1149.0 337.4L1150.0 336.6L1151.0 339.4L1152.0 337.6L1153.0 337.6L1154.0 339.1L1155.0 336.8L1156.0 337.1L1157.0 335.6L1158.0 336.4L1159.0 338.2L1160.0 339.2L1161.0 337.6L1162.0 337.4L1163.0 338.3L1164.0 340.1L1165.0 338.9L1166.0 338.7L1167.0 340.0L1168.0 338.9L1169.0 339.4L1170.0 338.0L1171.0 340.6L1172.0 338.8L1173.0 339.6L1174.0 340.5L1175.0 340.0L1176.0 338.0L1177.0 340.8L1178.0 340.4L1179.0 338.7L1180.0 338.9L1181.0 337.6L1182.0 340.7L1183.0 336.6L1184.0 341.1L1185.0 341.1L1186.0 341.5L1187.0 341.1L1188.0 340.3L1189.0 340.2L1190.0 340.9L1191.0 339.7L1192.0 341.2L1193.0 341.6L1194.0 341.7L1195.0 340.2L1196.0 339.7L1197.0 341.9L1198.0 341.1L1199.0 340.3L1200.0 341.7L1201.0 338.8L1202.0 341.4L1203.0 340.6L1204.0 342.2L1205.0 341.7L1206.0 341.8L1207.0 339.5L1208.0 342.5L1209.0 341.7L1210.0 340.7L1211.0 341.6L1212.0 342.6L1213.0 342.5L1214.0 343.0L1215.0 342.9L1216.0 341.6L1217.0 342.3L1218.0 342.2L1219.0 342.9L1220.0 342.3L1221.0 343.0L1222.0 343.3L1223.0 341.3L1224.0 343.3L1225.0 343.3L1226.0 342.7L1227.0 341.2L1228.0 341.1L1229.0 343.4L1230.0 342.7L1231.0 343.4L1232.0 341.4L1233.0 341.5L1234.0 342.8L1235.0 343.9L1236.0 343.0L1237.0 339.3L1238.0 344.4L1239.0 343.0L1240.0 344.5L1241.0 343.2L1242.0 344.0L1243.0 344.6L1244.0 344.9L1245.0 344.2L1246.0 339.2L1247.0 343.6L1248.0 343.4L1249.0 343.8L1250.0 344.3L1251.0 345.4L1252.0 345.7L1253.0 344.0L1254.0 345.8L1255.0 344.8L1256.0 345.0L1257.0 344.7L1258.0 343.9L1259.0 345.9L1260.0 345.2L1261.0 345.4L1262.0 345.8L1263.0 346.5L1264.0 343.8L1265.0 345.3L1266.0 346.8L1267.0 346.7L1268.0 344.9L1269.0 346.1L1270.0 344.8L1271.0 346.3L1272.0 346.5L1273.0 346.2L1274.0 346.6L1275.0 347.1L1276.0 346.5L1277.0 344.0L1278.0 345.4L1279.0 346.7L1280.0 347.2L1281.0 347.2L1282.0 344.9L1283.0 347.3L1284.0 347.1L1285.0 343.7L1286.0 347.5L1287.0 346.9L1288.0 348.0L1289.0 348.1L1290.0 347.5L1291.0 347.7L1292.0 348.3L1293.0 347.0L1294.0 347.7L1295.0 347.6L1296.0 348.0L1297.0 348.6L1298.0 346.5L1299.0 347.4L1300.0 348.4L1301.0 348.3L1302.0 348.1L1303.0 345.2L1304.0 347.3L1305.0 347.8L1306.0 347.3L1307.0 346.3L1308.0 347.9L1309.0 348.3L1310.0 347.9L1311.0 348.4L1312.0 348.9L1313.0 347.8L1314.0 346.8L1315.0 343.3L1316.0 348.5L1317.0 346.3L1318.0 348.7L1319.0 347.5L1320.0 346.5L1321.0 347.9L1322.0 348.7L1323.0 346.8L1324.0 348.7L1325.0 348.0L1326.0 348.2L1327.0 344.1L1328.0 345.9L1329.0 348.2L1330.0 346.8L1331.0 347.0L1332.0 348.5L1333.0 348.3L1334.0 347.9L1335.0 347.4L1336.0 347.1L1337.0 346.4L1338.0 345.9L1339.0 347.3L1340.0 348.3L1341.0 348.4L1342.0 348.0L1343.0 347.1L1344.0 347.8L1345.0 346.6L1346.0 347.9L1347.0 346.9L1348.0 348.0L1349.0 346.3L1350.0 346.6L1351.0 347.8L1352.0 348.1L1353.0 348.1L1354.0 347.1L1355.0 348.0L1356.0 347.7L1357.0 346.1L1358.0 348.1L1359.0 348.1L1360.0 348.2L1361.0 345.4L1362.0 347.5L1363.0 346.6L1364.0 346.8L1365.0 346.9L1366.0 348.1L1367.0 345.8L1368.0 347.7L1369.0 347.8L1370.0 344.0L1371.0 347.2L1372.0 346.9L1373.0 347.3L1374.0 346.7L1375.0 347.2L1376.0 346.5L1377.0 347.5L1378.0 346.1L1379.0 347.1L1380.0 347.4L1381.0 345.3L1382.0 345.8L1383.0 347.4L1384.0 347.2L1385.0 347.4L1386.0 346.2L1387.0 345.6L1388.0 346.2L1389.0 346.8L1390.0 346.6L1391.0 347.5L1392.0 345.7L1393.0 346.5L1394.0 343.2L1395.0 347.6L1396.0 347.1L1397.0 347.1L1398.0 346.8L1399.0 345.2L1400.0 346.6L1401.0 347.1L1402.0 345.9L1403.0 346.0L1404.0 347.1L1405.0 347.1L1406.0 347.4L1407.0 346.0L1408.0 344.7L1409.0 344.7L1410.0 346.6L1411.0 347.3L1412.0 347.2L1413.0 346.4L1414.0 343.9L1415.0 346.7L1416.0 346.6L1417.0 346.8L1418.0 346.6L1419.0 342.5L1420.0 345.7L1421.0 345.9L1422.0 347.0L1423.0 346.0L1424.0 344.6L1425.0 346.6L1426.0 344.1L1427.0 344.7L1428.0 346.1L1429.0 345.2L1430.0 343.0L1431.0 345.6L1432.0 346.7L1433.0 343.0L1434.0 346.4L1435.0 346.5L1436.0 346.2L1437.0 345.3L1438.0 345.9L1439.0 344.4L1440.0 341.7L1441.0 345.7L1442.0 345.1L1443.0 345.9L1444.0 345.6L1445.0 345.4L1446.0 345.1L1447.0 345.8L1448.0 345.2L1449.0 345.7L1450.0 344.5L1451.0 345.3L1452.0 345.2L1453.0 346.3L1454.0 342.2L1455.0 345.1L1456.0 344.5L1457.0 343.8L1458.0 343.2L1459.0 346.0L1460.0 345.1L1461.0 340.8L1462.0 344.5L1463.0 344.9L1464.0 344.3L1465.0 346.0L1466.0 346.2L1467.0 344.1L1468.0 344.6L1469.0 345.7L1470.0 346.1L1471.0 344.8L1472.0 346.0L1473.0 344.5L1474.0 344.4L1475.0 345.2L1476.0 345.1L1477.0 344.7L1478.0 345.8L1479.0 345.5L1480.0 345.7L1481.0 345.1L1482.0 345.6L1483.0 342.1L1484.0 345.4L1485.0 344.2L1486.0 344.3L1487.0 344.5L1488.0 345.1L1489.0 343.5L1490.0 345.1L1491.0 339.2L1492.0 342.2L1493.0 344.5L1494.0 345.1L1495.0 345.3L1496.0 342.5L1497.0 345.3L1498.0 344.5L1499.0 344.4L1500.0 344.0L1501.0 344.4L1502.0 344.8L1503.0 344.2L1504.0 344.5L1505.0 345.3L1506.0 344.2L1507.0 344.9L1508.0 345.2L1509.0 344.0L1510.0 345.3L1511.0 344.1L1512.0 342.0L1513.0 343.0L1514.0 343.5L1515.0 344.7L1516.0 343.2L1517.0 344.3L1518.0 344.7L1519.0 344.0L1520.0 344.5L1521.0 344.1L1522.0 345.3L1523.0 343.9L1524.0 344.4L1525.0 344.4L1526.0 344.4L1527.0 345.1L1528.0 343.9L1529.0 344.6L1530.0 342.1L1531.0 345.1L1532.0 344.7L1533.0 344.7L1534.0 343.4L1535.0 342.0L1536.0 338.9L1537.0 342.8L1538.0 343.9L1539.0 344.2L1540.0 343.1L1541.0 344.2L1542.0 344.8L1543.0 343.4L1544.0 343.7L1545.0 343.6L1546.0 343.8L1547.0 344.6L1548.0 342.3L1549.0 344.0L1550.0 344.6L1551.0 344.7L1552.0 344.0L1553.0 343.7L1554.0 344.0L1555.0 344.4L1556.0 343.9L1557.0 341.2L1558.0 339.0L1559.0 344.5L1560.0 339.9L1561.0 343.6L1562.0 343.8L1563.0 344.1L1564.0 344.0L1565.0 342.2L1566.0 344.2L1567.0 340.3L1568.0 342.4L1569.0 342.1L1570.0 343.4L1571.0 344.5L1572.0 343.8L1573.0 344.1L1574.0 343.5L1575.0 344.2L1576.0 342.6L1577.0 344.2L1578.0 344.1L1579.0 343.0L1580.0 344.3L1581.0 343.5L1582.0 342.6L1583.0 343.8L1584.0 342.7L1585.0 342.8L1586.0 343.3L1587.0 343.4L1588.0 342.7L1589.0 344.1L1590.0 343.2L1591.0 344.0L1592.0 340.1L1593.0 343.1L1594.0 341.5L1595.0 344.1L1596.0 343.6L1597.0 343.9L1598.0 342.3L1599.0 343.9L1600.0 342.7L1601.0 342.4L1602.0 343.7L1603.0 341.5L1604.0 342.6L1605.0 339.7L1606.0 343.8L1607.0 343.1L1608.0 343.5L1609.0 340.9L1610.0 343.0L1611.0 343.4L1612.0 343.8L1613.0 341.8L1614.0 342.7L1615.0 342.8L1616.0 343.1L1617.0 342.4L1618.0 341.9L1619.0 343.6L1620.0 343.0L1621.0 343.2L1622.0 342.5L1623.0 338.0L1624.0 341.6L1625.0 343.8L1626.0 343.5L1627.0 342.3L1628.0 340.5L1629.0 342.7L1630.0 343.6L1631.0 343.8L1632.0 342.9L1633.0 340.1L1634.0 343.9L1635.0 343.7L1636.0 343.4L1637.0 343.0L1638.0 342.6L1639.0 343.5L1640.0 343.9L1641.0 343.9L1642.0 342.0L1643.0 342.6L1644.0 343.2L1645.0 342.5L1646.0 341.6L1647.0 343.4L1648.0 341.5L1649.0 343.6L1650.0 343.2L1651.0 343.6L1652.0 343.7L1653.0 343.6L1654.0 343.6L1655.0 343.8L1656.0 340.4L1657.0 343.4L1658.0 342.9L1659.0 341.1L1660.0 343.8L1661.0 343.4L1662.0 342.9L1663.0 343.5L1664.0 341.4L1665.0 342.5L1666.0 342.9L1667.0 342.3L1668.0 341.7L1669.0 342.1L1670.0 343.4L1671.0 342.3L1672.0 343.5L1673.0 343.7L1674.0 341.0L1675.0 343.7L1676.0 342.6L1677.0 343.2L1678.0 343.6L1679.0 342.9L1680.0 340.7L1681.0 343.6L1682.0 339.3L1683.0 343.4L1684.0 337.7L1685.0 343.5L1686.0 344.0L1687.0 343.9L1688.0 342.4L1689.0 343.7L1690.0 343.5L1691.0 342.9L1692.0 342.8L1693.0 342.0L1694.0 343.3L1695.0 343.0L1696.0 343.4L1697.0 343.0L1698.0 341.7L1699.0 340.7L1700.0 342.6L1701.0 343.6L1702.0 343.4L1703.0 342.4L1704.0 341.6L1705.0 343.7L1706.0 342.2L1707.0 342.4L1708.0 342.9L1709.0 344.0L1710.0 343.2L1711.0 342.2L1712.0 343.1L1713.0 342.1L1714.0 343.7L1715.0 343.7L1716.0 343.0L1717.0 343.9L1718.0 341.9L1719.0 343.7L1720.0 343.5L1721.0 342.6L1722.0 342.3L1723.0 344.0L1724.0 343.2L1725.0 342.0L1726.0 342.6L1727.0 343.4L1728.0 342.5L1729.0 342.6L1730.0 342.2L1731.0 343.7L1732.0 342.1L1733.0 342.6L1734.0 343.9L1735.0 343.0L1736.0 342.1L1737.0 342.5L1738.0 342.6L1739.0 342.4L1740.0 343.1L1741.0 340.3L1742.0 343.2L1743.0 343.2L1744.0 342.0L1745.0 343.5L1746.0 343.8L1747.0 343.9L1748.0 343.2L1749.0 343.7L1750.0 343.7L1751.0 343.2L1752.0 341.9L1753.0 343.0L1754.0 342.5L1754.0 356.1L1753.0 356.7L1752.0 356.3L1751.0 357.1L1750.0 357.2L1749.0 356.8L1748.0 356.7L1747.0 358.7L1746.0 356.5L1745.0 357.2L1744.0 356.4L1743.0 356.6L1742.0 356.3L1741.0 357.2L1740.0 356.4L1739.0 358.7L1738.0 356.1L1737.0 356.7L1736.0 356.6L1735.0 357.0L1734.0 356.6L1733.0 356.3L1732.0 357.7L1731.0 356.0L1730.0 356.9L1729.0 356.7L1728.0 356.5L1727.0 356.9L1726.0 357.3L1725.0 357.7L1724.0 357.2L1723.0 356.6L1722.0 356.5L1721.0 356.2L1720.0 356.9L1719.0 357.0L1718.0 356.4L1717.0 358.3L1716.0 358.0L1715.0 356.5L1714.0 356.4L1713.0 356.7L1712.0 356.6L1711.0 357.6L1710.0 356.6L1709.0 357.6L1708.0 358.3L1707.0 358.5L1706.0 357.8L1705.0 356.5L1704.0 359.6L1703.0 357.9L1702.0 356.3L1701.0 356.6L1700.0 358.0L1699.0 356.1L1698.0 357.7L1697.0 356.8L1696.0 359.1L1695.0 356.7L1694.0 356.6L1693.0 356.4L1692.0 358.6L1691.0 357.2L1690.0 359.4L1689.0 356.0L1688.0 356.7L1687.0 357.8L1686.0 357.7L1685.0 358.9L1684.0 356.2L1683.0 356.4L1682.0 356.1L1681.0 356.3L1680.0 356.9L1679.0 357.7L1678.0 356.2L1677.0 357.6L1676.0 356.1L1675.0 357.7L1674.0 357.7L1673.0 358.0L1672.0 357.8L1671.0 358.7L1670.0 356.4L1669.0 357.6L1668.0 356.5L1667.0 358.6L1666.0 357.8L1665.0 358.6L1664.0 357.7L1663.0 357.6L1662.0 356.3L1661.0 357.5L1660.0 356.2L1659.0 358.8L1658.0 356.0L1657.0 356.1L1656.0 356.0L1655.0 356.1L1654.0 358.3L1653.0 358.5L1652.0 356.5L1651.0 356.7L1650.0 358.4L1649.0 357.4L1648.0 356.9L1647.0 356.8L1646.0 356.5L1645.0 356.7L1644.0 358.0L1643.0 356.3L1642.0 356.9L1641.0 356.6L1640.0 357.8L1639.0 356.2L1638.0 360.3L1637.0 356.3L1636.0 359.6L1635.0 357.2L1634.0 356.6L1633.0 357.8L1632.0 356.4L1631.0 357.0L1630.0 356.3L1629.0 356.5L1628.0 358.5L1627.0 357.8L1626.0 356.3L1625.0 356.0L1624.0 358.0L1623.0 357.1L1622.0 356.3L1621.0 356.6L1620.0 357.3L1619.0 357.3L1618.0 356.6L1617.0 358.0L1616.0 356.4L1615.0 356.2L1614.0 356.9L1613.0 356.3L1612.0 359.6L1611.0 358.2L1610.0 356.7L1609.0 357.6L1608.0 358.0L1607.0 357.2L1606.0 356.0L1605.0 356.9L1604.0 356.5L1603.0 357.5L1602.0 358.4L1601.0 356.5L1600.0 356.5L1599.0 356.3L1598.0 357.3L1597.0 357.7L1596.0 357.4L1595.0 356.6L1594.0 358.2L1593.0 357.4L1592.0 357.1L1591.0 357.0L1590.0 356.2L1589.0 356.4L1588.0 359.5L1587.0 356.4L1586.0 357.0L1585.0 356.9L1584.0 358.9L1583.0 358.0L1582.0 357.7L1581.0 357.5L1580.0 356.1L1579.0 356.2L1578.0 356.6L1577.0 356.9L1576.0 358.5L1575.0 358.0L1574.0 356.9L1573.0 356.1L1572.0 359.3L1571.0 358.1L1570.0 356.4L1569.0 356.6L1568.0 357.8L1567.0 357.0L1566.0 357.1L1565.0 357.6L1564.0 357.0L1563.0 356.3L1562.0 359.8L1561.0 357.9L1560.0 357.5L1559.0 357.2L1558.0 357.2L1557.0 357.2L1556.0 357.6L1555.0 357.8L1554.0 358.0L1553.0 357.3L1552.0 357.5L1551.0 358.0L1550.0 356.9L1549.0 357.9L1548.0 357.7L1547.0 358.5L1546.0 357.8L1545.0 356.5L1544.0 358.4L1543.0 357.4L1542.0 356.7L1541.0 357.1L1540.0 358.1L1539.0 356.3L1538.0 356.3L1537.0 356.2L1536.0 357.7L1535.0 357.7L1534.0 357.8L1533.0 356.3L1532.0 357.2L1531.0 360.5L1530.0 358.8L1529.0 357.5L1528.0 357.2L1527.0 356.6L1526.0 356.8L1525.0 356.9L1524.0 360.0L1523.0 356.3L1522.0 356.5L1521.0 357.1L1520.0 358.4L1519.0 358.5L1518.0 357.2L1517.0 356.8L1516.0 357.8L1515.0 357.0L1514.0 357.7L1513.0 356.8L1512.0 357.0L1511.0 358.9L1510.0 358.6L1509.0 358.0L1508.0 357.7L1507.0 358.6L1506.0 356.4L1505.0 357.9L1504.0 356.5L1503.0 356.4L1502.0 356.8L1501.0 356.5L1500.0 356.9L1499.0 357.6L1498.0 356.4L1497.0 356.4L1496.0 357.8L1495.0 358.9L1494.0 360.2L1493.0 358.0L1492.0 357.1L1491.0 358.0L1490.0 356.4L1489.0 357.3L1488.0 357.7L1487.0 357.3L1486.0 357.1L1485.0 357.5L1484.0 357.3L1483.0 356.9L1482.0 357.6L1481.0 356.4L1480.0 356.9L1479.0 358.6L1478.0 356.7L1477.0 359.0L1476.0 356.8L1475.0 357.5L1474.0 356.9L1473.0 356.9L1472.0 357.3L1471.0 357.2L1470.0 357.4L1469.0 356.5L1468.0 357.2L1467.0 357.7L1466.0 357.2L1465.0 358.1L1464.0 356.5L1463.0 357.9L1462.0 357.8L1461.0 357.6L1460.0 357.5L1459.0 357.0L1458.0 357.8L1457.0 358.0L1456.0 356.6L1455.0 359.2L1454.0 358.0L1453.0 360.0L1452.0 357.9L1451.0 357.7L1450.0 357.1L1449.0 357.3L1448.0 358.2L1447.0 356.6L1446.0 358.8L1445.0 357.8L1444.0 357.7L1443.0 358.1L1442.0 359.5L1441.0 358.5L1440.0 357.7L1439.0 357.0L1438.0 357.1L1437.0 357.2L1436.0 358.0L1435.0 357.3L1434.0 358.7L1433.0 358.8L1432.0 356.9L1431.0 358.0L1430.0 357.9L1429.0 358.1L1428.0 357.7L1427.0 357.7L1426.0 358.2L1425.0 358.5L1424.0 358.6L1423.0 357.7L1422.0 357.3L1421.0 357.4L1420.0 358.5L1419.0 359.6L1418.0 357.2L1417.0 357.8L1416.0 359.0L1415.0 357.9L1414.0 357.6L1413.0 358.2L1412.0 356.8L1411.0 356.9L1410.0 357.1L1409.0 358.7L1408.0 357.6L1407.0 357.1L1406.0 357.3L1405.0 357.6L1404.0 360.3L1403.0 357.0L1402.0 358.1L1401.0 357.3L1400.0 359.1L1399.0 358.3L1398.0 358.9L1397.0 357.1L1396.0 359.7L1395.0 357.3L1394.0 357.0L1393.0 359.0L1392.0 359.1L1391.0 357.9L1390.0 357.1L1389.0 358.2L1388.0 357.1L1387.0 359.8L1386.0 357.5L1385.0 358.6L1384.0 357.2L1383.0 358.6L1382.0 359.1L1381.0 357.1L1380.0 357.5L1379.0 358.1L1378.0 357.9L1377.0 358.6L1376.0 357.3L1375.0 357.0L1374.0 357.8L1373.0 358.1L1372.0 358.9L1371.0 358.1L1370.0 357.2L1369.0 362.4L1368.0 359.1L1367.0 358.7L1366.0 358.0L1365.0 357.0L1364.0 357.7L1363.0 357.8L1362.0 357.3L1361.0 358.9L1360.0 357.3L1359.0 359.6L1358.0 357.8L1357.0 359.6L1356.0 358.5L1355.0 358.1L1354.0 357.5L1353.0 357.9L1352.0 358.2L1351.0 357.2L1350.0 357.4L1349.0 357.5L1348.0 357.8L1347.0 357.2L1346.0 357.3L1345.0 358.2L1344.0 358.7L1343.0 357.3L1342.0 357.2L1341.0 357.3L1340.0 358.2L1339.0 358.9L1338.0 357.8L1337.0 357.8L1336.0 359.1L1335.0 357.3L1334.0 358.1L1333.0 359.2L1332.0 359.9L1331.0 358.0L1330.0 358.0L1329.0 357.9L1328.0 358.9L1327.0 358.3L1326.0 357.7L1325.0 357.9L1324.0 358.5L1323.0 358.5L1322.0 357.7L1321.0 357.7L1320.0 358.8L1319.0 360.5L1318.0 358.4L1317.0 357.5L1316.0 357.7L1315.0 358.6L1314.0 357.9L1313.0 358.1L1312.0 357.4L1311.0 357.4L1310.0 358.0L1309.0 358.3L1308.0 357.1L1307.0 357.4L1306.0 357.1L1305.0 358.0L1304.0 357.5L1303.0 358.9L1302.0 360.2L1301.0 357.8L1300.0 358.1L1299.0 358.5L1298.0 357.4L1297.0 358.4L1296.0 357.3L1295.0 358.4L1294.0 359.2L1293.0 358.0L1292.0 357.9L1291.0 357.2L1290.0 357.0L1289.0 359.3L1288.0 357.5L1287.0 358.0L1286.0 357.9L1285.0 357.0L1284.0 357.0L1283.0 357.5L1282.0 357.5L1281.0 358.6L1280.0 359.1L1279.0 358.4L1278.0 359.3L1277.0 358.2L1276.0 357.4L1275.0 357.0L1274.0 357.7L1273.0 358.6L1272.0 357.2L1271.0 356.9L1270.0 357.2L1269.0 358.4L1268.0 358.3L1267.0 356.9L1266.0 357.4L1265.0 357.4L1264.0 358.3L1263.0 358.2L1262.0 358.0L1261.0 357.2L1260.0 356.3L1259.0 356.4L1258.0 358.6L1257.0 356.4L1256.0 356.3L1255.0 357.2L1254.0 356.6L1253.0 356.3L1252.0 355.9L1251.0 356.0L1250.0 356.0L1249.0 360.6L1248.0 355.8L1247.0 355.8L1246.0 356.7L1245.0 357.6L1244.0 355.8L1243.0 357.2L1242.0 356.4L1241.0 357.2L1240.0 356.9L1239.0 355.5L1238.0 355.4L1237.0 356.3L1236.0 355.8L1235.0 358.1L1234.0 357.4L1233.0 357.0L1232.0 356.0L1231.0 355.1L1230.0 355.4L1229.0 355.7L1228.0 355.4L1227.0 355.6L1226.0 358.0L1225.0 355.6L1224.0 355.9L1223.0 355.8L1222.0 355.3L1221.0 355.1L1220.0 355.9L1219.0 354.9L1218.0 355.9L1217.0 354.5L1216.0 356.2L1215.0 354.6L1214.0 354.9L1213.0 355.5L1212.0 356.4L1211.0 355.1L1210.0 354.3L1209.0 355.5L1208.0 357.4L1207.0 355.0L1206.0 355.8L1205.0 357.8L1204.0 355.7L1203.0 354.9L1202.0 355.1L1201.0 354.5L1200.0 354.7L1199.0 355.2L1198.0 354.2L1197.0 353.7L1196.0 353.6L1195.0 356.0L1194.0 354.0L1193.0 354.4L1192.0 354.0L1191.0 353.7L1190.0 356.1L1189.0 354.5L1188.0 354.2L1187.0 353.4L1186.0 353.9L1185.0 353.6L1184.0 353.5L1183.0 354.4L1182.0 354.3L1181.0 356.8L1180.0 354.2L1179.0 353.7L1178.0 358.2L1177.0 353.5L1176.0 354.9L1175.0 355.6L1174.0 354.6L1173.0 353.0L1172.0 354.2L1171.0 353.8L1170.0 353.5L1169.0 354.1L1168.0 353.6L1167.0 354.1L1166.0 352.8L1165.0 353.4L1164.0 353.2L1163.0 354.1L1162.0 354.0L1161.0 352.3L1160.0 352.2L1159.0 353.7L1158.0 353.3L1157.0 353.0L1156.0 352.5L1155.0 352.0L1154.0 352.2L1153.0 353.1L1152.0 351.6L1151.0 352.7L1150.0 351.6L1149.0 353.0L1148.0 354.6L1147.0 352.0L1146.0 352.6L1145.0 352.2L1144.0 352.8L1143.0 351.5L1142.0 353.9L1141.0 351.2L1140.0 352.3L1139.0 352.8L1138.0 354.9L1137.0 350.7L1136.0 352.1L1135.0 350.5L1134.0 350.5L1133.0 351.0L1132.0 351.1L1131.0 350.7L1130.0 350.5L1129.0 351.6L1128.0 351.3L1127.0 349.5L1126.0 350.0L1125.0 349.8L1124.0 350.8L1123.0 350.0L1122.0 349.4L1121.0 350.1L1120.0 349.7L1119.0 350.3L1118.0 349.5L1117.0 350.6L1116.0 350.7L1115.0 349.1L1114.0 350.2L1113.0 349.6L1112.0 348.6L1111.0 349.3L1110.0 348.9L1109.0 350.2L1108.0 348.2L1107.0 350.7L1106.0 350.0L1105.0 349.4L1104.0 348.8L1103.0 348.6L1102.0 349.3L1101.0 349.2L1100.0 347.6L1099.0 348.0L1098.0 347.3L1097.0 347.8L1096.0 349.1L1095.0 347.3L1094.0 346.8L1093.0 349.2L1092.0 348.1L1091.0 347.5L1090.0 347.6L1089.0 347.2L1088.0 347.2L1087.0 346.2L1086.0 348.4L1085.0 346.0L1084.0 347.1L1083.0 349.2L1082.0 346.3L1081.0 346.6L1080.0 346.6L1079.0 346.6L1078.0 347.1L1077.0 348.1L1076.0 347.8L1075.0 346.6L1074.0 347.2L1073.0 345.9L1072.0 346.6L1071.0 346.1L1070.0 346.1L1069.0 347.7L1068.0 347.7L1067.0 348.3L1066.0 346.0L1065.0 346.7L1064.0 347.3L1063.0 348.3L1062.0 345.5L1061.0 346.3L1060.0 346.1L1059.0 345.7L1058.0 345.5L1057.0 346.5L1056.0 345.4L1055.0 345.8L1054.0 345.8L1053.0 345.4L1052.0 347.3L1051.0 346.9L1050.0 345.3L1049.0 345.8L1048.0 345.2L1047.0 346.1L1046.0 346.6L1045.0 347.3L1044.0 345.8L1043.0 345.6L1042.0 345.4L1041.0 345.8L1040.0 345.5L1039.0 347.2L1038.0 345.7L1037.0 345.4L1036.0 346.7L1035.0 346.1L1034.0 345.4L1033.0 346.4L1032.0 347.3L1031.0 346.1L1030.0 346.9L1029.0 345.6L1028.0 346.0L1027.0 345.7L1026.0 346.3L1025.0 348.5L1024.0 346.3L1023.0 346.8L1022.0 347.9L1021.0 346.6L1020.0 346.5L1019.0 346.4L1018.0 348.9L1017.0 346.6L1016.0 347.7L1015.0 346.2L1014.0 346.2L1013.0 346.7L1012.0 346.2L1011.0 346.3L1010.0 347.7L1009.0 347.5L1008.0 347.1Z" fill="#25a01f" stroke="#1a5a12" stroke-width="0.9"/>
<path d="M1008.0 344.8L1009.0 344.2L1010.0 342.5L1011.0 344.3L1012.0 342.5L1013.0 343.7L1014.0 341.7L1015.0 342.7L1016.0 342.6L1017.0 342.9L1018.0 342.8L1019.0 341.7L1020.0 342.7L1021.0 341.7L1022.0 340.1L1023.0 341.6L1024.0 341.8L1025.0 341.4L1026.0 341.5L1027.0 341.3L1028.0 340.8L1029.0 340.5L1030.0 339.3L1031.0 339.5L1032.0 340.0L1033.0 338.3L1034.0 339.5L1035.0 339.3L1036.0 337.5L1037.0 338.6L1038.0 337.9L1039.0 338.7L1040.0 338.3L1041.0 336.3L1042.0 338.4L1043.0 333.7L1044.0 338.6L1045.0 332.0L1046.0 338.5L1047.0 338.7L1048.0 337.8L1049.0 332.1L1050.0 338.8L1051.0 337.0L1052.0 339.0L1053.0 338.9L1054.0 338.1L1055.0 338.9L1056.0 336.4L1057.0 337.1L1058.0 338.0L1059.0 338.0L1060.0 337.2L1061.0 337.4L1062.0 337.8L1063.0 338.7L1064.0 337.5L1065.0 338.3L1066.0 337.1L1067.0 337.9L1068.0 338.8L1069.0 337.6L1070.0 337.3L1071.0 336.8L1072.0 337.8L1073.0 338.2L1074.0 334.5L1075.0 337.3L1076.0 336.4L1077.0 333.0L1078.0 338.9L1079.0 337.7L1080.0 334.1L1081.0 338.7L1082.0 336.9L1083.0 336.7L1084.0 337.8L1085.0 338.9L1086.0 337.9L1087.0 338.0L1088.0 337.6L1089.0 337.1L1090.0 337.9L1091.0 337.9L1092.0 338.4L1093.0 337.8L1094.0 337.8L1095.0 337.5L1096.0 336.8L1097.0 335.4L1098.0 336.0L1099.0 336.0L1100.0 336.2L1101.0 336.7L1102.0 337.1L1103.0 336.8L1104.0 337.1L1105.0 336.9L1106.0 337.0L1107.0 334.8L1108.0 336.9L1109.0 333.5L1110.0 335.5L1111.0 336.7L1112.0 334.9L1113.0 336.6L1114.0 336.1L1115.0 336.5L1116.0 335.6L1117.0 335.9L1118.0 334.3L1119.0 332.1L1120.0 332.6L1121.0 335.8L1122.0 335.3L1123.0 335.3L1124.0 334.5L1125.0 335.5L1126.0 333.7L1127.0 333.7L1128.0 334.6L1129.0 333.7L1130.0 334.4L1131.0 334.7L1132.0 334.4L1133.0 334.3L1134.0 333.7L1135.0 334.7L1136.0 333.0L1137.0 329.1L1138.0 333.1L1139.0 331.3L1140.0 332.9L1141.0 334.2L1142.0 333.3L1143.0 331.4L1144.0 333.0L1145.0 333.5L1146.0 333.5L1147.0 332.2L1148.0 333.6L1149.0 331.1L1150.0 333.0L1151.0 332.8L1152.0 333.0L1153.0 331.2L1154.0 332.6L1155.0 331.2L1156.0 332.7L1157.0 331.3L1158.0 329.0L1159.0 332.2L1160.0 332.7L1161.0 329.2L1162.0 331.8L1163.0 332.2L1164.0 332.4L1165.0 327.0L1166.0 331.7L1167.0 330.9L1168.0 332.2L1169.0 329.2L1170.0 332.5L1171.0 331.3L1172.0 329.9L1173.0 331.0L1174.0 331.2L1175.0 331.9L1176.0 326.3L1177.0 330.0L1178.0 331.1L1179.0 331.9L1180.0 329.7L1181.0 330.4L1182.0 330.8L1183.0 330.3L1184.0 331.2L1185.0 327.1L1186.0 331.7L1187.0 328.7L1188.0 331.0L1189.0 331.2L1190.0 330.0L1191.0 331.4L1192.0 331.1L1193.0 331.1L1194.0 330.1L1195.0 330.7L1196.0 328.1L1197.0 331.1L1198.0 329.6L1199.0 329.6L1200.0 327.5L1201.0 331.2L1202.0 328.3L1203.0 330.6L1204.0 329.9L1205.0 329.5L1206.0 328.3L1207.0 330.8L1208.0 329.6L1209.0 328.4L1210.0 330.7L1211.0 330.1L1212.0 330.5L1213.0 327.5L1214.0 325.4L1215.0 330.0L1216.0 329.3L1217.0 330.2L1218.0 328.6L1219.0 328.3L1220.0 328.6L1221.0 325.9L1222.0 328.9L1223.0 330.2L1224.0 329.5L1225.0 330.1L1226.0 329.7L1227.0 328.2L1228.0 329.6L1229.0 329.9L1230.0 328.5L1231.0 329.6L1232.0 328.6L1233.0 328.8L1234.0 326.2L1235.0 329.1L1236.0 326.7L1237.0 329.6L1238.0 328.9L1239.0 327.0L1240.0 328.4L1241.0 328.6L1242.0 325.8L1243.0 328.3L1244.0 328.8L1245.0 328.5L1246.0 328.4L1247.0 328.2L1248.0 327.0L1249.0 326.7L1250.0 328.2L1251.0 327.1L1252.0 327.9L1253.0 325.7L1254.0 324.8L1255.0 326.2L1256.0 326.9L1257.0 326.5L1258.0 327.7L1259.0 324.5L1260.0 326.5L1261.0 327.3L1262.0 327.0L1263.0 327.2L1264.0 326.1L1265.0 323.6L1266.0 326.1L1267.0 323.6L1268.0 326.8L1269.0 324.0L1270.0 326.0L1271.0 325.3L1272.0 324.7L1273.0 320.9L1274.0 325.9L1275.0 326.1L1276.0 321.6L1277.0 325.2L1278.0 326.1L1279.0 325.6L1280.0 326.1L1281.0 324.8L1282.0 323.0L1283.0 325.6L1284.0 319.3L1285.0 325.7L1286.0 324.2L1287.0 324.5L1288.0 320.0L1289.0 325.3L1290.0 321.9L1291.0 324.1L1292.0 324.7L1293.0 323.3L1294.0 324.5L1295.0 323.7L1296.0 324.7L1297.0 323.3L1298.0 323.1L1299.0 322.3L1300.0 322.9L1301.0 321.5L1302.0 322.9L1303.0 323.2L1304.0 322.4L1305.0 324.0L1306.0 322.6L1307.0 323.4L1308.0 322.8L1309.0 323.8L1310.0 322.4L1311.0 323.2L1312.0 323.9L1313.0 321.9L1314.0 323.7L1315.0 323.5L1316.0 323.8L1317.0 323.8L1318.0 323.3L1319.0 323.2L1320.0 323.3L1321.0 322.0L1322.0 321.0L1323.0 323.5L1324.0 322.5L1325.0 322.3L1326.0 323.5L1327.0 320.4L1328.0 318.4L1329.0 322.7L1330.0 319.7L1331.0 323.3L1332.0 323.2L1333.0 318.5L1334.0 323.3L1335.0 321.9L1336.0 320.7L1337.0 323.4L1338.0 322.3L1339.0 323.2L1340.0 323.3L1341.0 323.3L1342.0 323.3L1343.0 320.9L1344.0 322.4L1345.0 321.0L1346.0 322.1L1347.0 320.3L1348.0 321.9L1349.0 322.9L1350.0 323.4L1351.0 323.3L1352.0 323.1L1353.0 321.7L1354.0 322.7L1355.0 323.0L1356.0 320.5L1357.0 319.6L1358.0 323.2L1359.0 320.9L1360.0 322.5L1361.0 320.7L1362.0 321.0L1363.0 322.8L1364.0 319.8L1365.0 321.7L1366.0 323.0L1367.0 321.2L1368.0 322.5L1369.0 322.6L1370.0 321.8L1371.0 320.3L1372.0 322.1L1373.0 319.9L1374.0 322.4L1375.0 317.5L1376.0 322.8L1377.0 323.0L1378.0 321.9L1379.0 322.2L1380.0 318.1L1381.0 322.0L1382.0 322.0L1383.0 322.7L1384.0 322.6L1385.0 322.4L1386.0 322.3L1387.0 322.9L1388.0 322.0L1389.0 321.3L1390.0 321.8L1391.0 322.5L1392.0 322.0L1393.0 322.7L1394.0 319.6L1395.0 317.3L1396.0 321.4L1397.0 321.8L1398.0 321.6L1399.0 321.8L1400.0 321.7L1401.0 321.1L1402.0 322.3L1403.0 318.6L1404.0 321.5L1405.0 321.4L1406.0 321.6L1407.0 320.3L1408.0 317.7L1409.0 321.5L1410.0 319.5L1411.0 319.3L1412.0 320.2L1413.0 322.1L1414.0 322.3L1415.0 321.7L1416.0 320.3L1417.0 321.7L1418.0 321.3L1419.0 321.2L1420.0 321.9L1421.0 322.2L1422.0 322.1L1423.0 320.9L1424.0 321.0L1425.0 321.0L1426.0 320.8L1427.0 320.7L1428.0 320.4L1429.0 321.8L1430.0 321.5L1431.0 321.4L1432.0 322.0L1433.0 316.2L1434.0 319.1L1435.0 320.8L1436.0 321.4L1437.0 321.3L1438.0 317.3L1439.0 322.1L1440.0 321.8L1441.0 320.9L1442.0 321.0L1443.0 321.8L1444.0 320.2L1445.0 321.5L1446.0 314.7L1447.0 319.9L1448.0 321.4L1449.0 320.8L1450.0 319.6L1451.0 320.7L1452.0 321.6L1453.0 321.1L1454.0 319.9L1455.0 321.9L1456.0 321.5L1457.0 320.3L1458.0 321.4L1459.0 320.8L1460.0 322.1L1461.0 320.5L1462.0 322.1L1463.0 321.0L1464.0 321.6L1465.0 321.5L1466.0 321.9L1467.0 321.7L1468.0 321.0L1469.0 322.2L1470.0 321.5L1471.0 321.3L1472.0 318.2L1473.0 320.6L1474.0 320.2L1475.0 322.3L1476.0 320.9L1477.0 317.0L1478.0 320.6L1479.0 317.3L1480.0 320.8L1481.0 321.6L1482.0 322.3L1483.0 316.7L1484.0 322.0L1485.0 320.0L1486.0 322.2L1487.0 321.2L1488.0 322.4L1489.0 320.9L1490.0 321.4L1491.0 321.6L1492.0 322.0L1493.0 320.9L1494.0 321.0L1495.0 320.4L1496.0 321.9L1497.0 322.5L1498.0 322.5L1499.0 320.7L1500.0 321.9L1501.0 322.4L1502.0 322.5L1503.0 322.8L1504.0 321.6L1505.0 322.7L1506.0 323.0L1507.0 323.0L1508.0 322.9L1509.0 321.8L1510.0 322.0L1511.0 322.4L1512.0 322.1L1513.0 321.8L1514.0 320.9L1515.0 322.8L1516.0 322.2L1517.0 321.0L1518.0 323.2L1519.0 322.6L1520.0 322.5L1521.0 320.9L1522.0 323.1L1523.0 321.5L1524.0 320.1L1525.0 320.3L1526.0 323.4L1527.0 322.7L1528.0 323.2L1529.0 322.7L1530.0 323.1L1531.0 322.9L1532.0 323.5L1533.0 322.4L1534.0 322.2L1535.0 323.2L1536.0 323.5L1537.0 322.6L1538.0 322.7L1539.0 322.1L1540.0 323.0L1541.0 322.6L1542.0 321.6L1543.0 322.1L1544.0 323.4L1545.0 322.3L1546.0 323.8L1547.0 319.2L1548.0 323.3L1549.0 317.8L1550.0 323.4L1551.0 323.5L1552.0 321.9L1553.0 323.7L1554.0 323.1L1555.0 320.0L1556.0 323.7L1557.0 320.0L1558.0 322.8L1559.0 320.2L1560.0 323.9L1561.0 322.1L1562.0 322.6L1563.0 323.0L1564.0 322.0L1565.0 322.6L1566.0 323.3L1567.0 324.2L1568.0 321.2L1569.0 322.9L1570.0 322.9L1571.0 322.5L1572.0 321.2L1573.0 322.4L1574.0 322.1L1575.0 323.3L1576.0 322.1L1577.0 324.3L1578.0 322.6L1579.0 320.8L1580.0 321.3L1581.0 323.7L1582.0 322.9L1583.0 322.5L1584.0 324.0L1585.0 324.4L1586.0 322.5L1587.0 324.4L1588.0 322.4L1589.0 323.7L1590.0 324.3L1591.0 321.5L1592.0 324.0L1593.0 322.3L1594.0 324.0L1595.0 321.9L1596.0 324.4L1597.0 319.8L1598.0 324.1L1599.0 319.0L1600.0 321.5L1601.0 324.8L1602.0 322.6L1603.0 320.6L1604.0 324.8L1605.0 323.2L1606.0 319.4L1607.0 323.1L1608.0 324.8L1609.0 321.7L1610.0 324.6L1611.0 324.2L1612.0 323.4L1613.0 320.8L1614.0 322.8L1615.0 324.7L1616.0 323.9L1617.0 320.3L1618.0 324.4L1619.0 323.2L1620.0 319.4L1621.0 323.1L1622.0 323.8L1623.0 324.3L1624.0 322.8L1625.0 323.6L1626.0 323.0L1627.0 324.7L1628.0 323.8L1629.0 324.7L1630.0 322.8L1631.0 324.6L1632.0 321.8L1633.0 323.9L1634.0 324.2L1635.0 324.3L1636.0 323.2L1637.0 323.7L1638.0 324.8L1639.0 323.4L1640.0 322.7L1641.0 324.6L1642.0 320.1L1643.0 323.9L1644.0 322.9L1645.0 323.7L1646.0 323.5L1647.0 322.8L1648.0 323.5L1649.0 319.2L1650.0 324.8L1651.0 324.0L1652.0 323.7L1653.0 323.6L1654.0 323.4L1655.0 322.8L1656.0 324.2L1657.0 320.7L1658.0 320.8L1659.0 323.7L1660.0 319.6L1661.0 323.2L1662.0 323.4L1663.0 323.7L1664.0 322.9L1665.0 324.0L1666.0 323.3L1667.0 320.8L1668.0 320.2L1669.0 324.7L1670.0 323.9L1671.0 322.4L1672.0 324.7L1673.0 324.8L1674.0 324.6L1675.0 324.9L1676.0 323.4L1677.0 323.6L1678.0 324.0L1679.0 317.3L1680.0 323.2L1681.0 324.0L1682.0 324.9L1683.0 322.4L1684.0 324.3L1685.0 324.8L1686.0 324.7L1687.0 323.2L1688.0 321.5L1689.0 322.6L1690.0 323.5L1691.0 324.3L1692.0 324.7L1693.0 324.6L1694.0 321.4L1695.0 324.7L1696.0 324.6L1697.0 323.3L1698.0 323.8L1699.0 323.6L1700.0 323.3L1701.0 323.7L1702.0 324.7L1703.0 320.3L1704.0 323.8L1705.0 324.6L1706.0 324.6L1707.0 319.7L1708.0 324.3L1709.0 322.6L1710.0 324.9L1711.0 324.7L1712.0 321.1L1713.0 324.6L1714.0 324.2L1715.0 324.1L1716.0 323.3L1717.0 324.2L1718.0 324.8L1719.0 323.9L1720.0 324.9L1721.0 323.6L1722.0 324.1L1723.0 324.2L1724.0 318.8L1725.0 323.7L1726.0 323.7L1727.0 324.2L1728.0 323.1L1729.0 324.0L1730.0 322.5L1731.0 323.7L1732.0 318.0L1733.0 324.5L1734.0 322.1L1735.0 324.2L1736.0 324.5L1737.0 323.0L1738.0 324.8L1739.0 323.0L1740.0 323.1L1741.0 324.2L1742.0 322.8L1743.0 324.1L1744.0 324.7L1745.0 324.1L1746.0 322.4L1747.0 324.1L1748.0 324.2L1749.0 323.8L1750.0 322.0L1751.0 321.0L1752.0 325.0L1753.0 323.1L1754.0 322.6L1754.0 331.3L1753.0 331.0L1752.0 332.4L1751.0 331.2L1750.0 331.2L1749.0 332.3L1748.0 331.7L1747.0 331.2L1746.0 331.6L1745.0 332.8L1744.0 332.0L1743.0 332.1L1742.0 332.5L1741.0 332.6L1740.0 331.2L1739.0 332.1L1738.0 331.9L1737.0 332.1L1736.0 331.6L1735.0 335.0L1734.0 331.8L1733.0 332.7L1732.0 331.6L1731.0 331.3L1730.0 331.9L1729.0 331.3L1728.0 331.5L1727.0 331.8L1726.0 332.1L1725.0 332.2L1724.0 331.6L1723.0 331.9L1722.0 331.4L1721.0 333.3L1720.0 331.2L1719.0 331.3L1718.0 332.5L1717.0 331.2L1716.0 334.2L1715.0 332.3L1714.0 332.0L1713.0 331.9L1712.0 331.4L1711.0 334.2L1710.0 335.3L1709.0 331.1L1708.0 334.3L1707.0 331.5L1706.0 331.9L1705.0 331.8L1704.0 332.1L1703.0 331.7L1702.0 331.6L1701.0 331.4L1700.0 331.8L1699.0 331.0L1698.0 331.9L1697.0 332.5L1696.0 331.8L1695.0 334.8L1694.0 331.4L1693.0 331.8L1692.0 332.1L1691.0 332.1L1690.0 331.6L1689.0 334.5L1688.0 331.1L1687.0 331.7L1686.0 331.2L1685.0 331.8L1684.0 332.0L1683.0 331.4L1682.0 332.8L1681.0 331.6L1680.0 331.5L1679.0 331.9L1678.0 331.7L1677.0 331.1L1676.0 332.3L1675.0 331.1L1674.0 332.0L1673.0 331.8L1672.0 331.9L1671.0 332.8L1670.0 331.8L1669.0 331.6L1668.0 331.9L1667.0 332.4L1666.0 334.7L1665.0 331.6L1664.0 332.3L1663.0 332.3L1662.0 331.2L1661.0 331.2L1660.0 331.9L1659.0 331.1L1658.0 331.0L1657.0 331.2L1656.0 332.6L1655.0 331.8L1654.0 331.1L1653.0 331.4L1652.0 331.2L1651.0 331.6L1650.0 331.1L1649.0 331.5L1648.0 332.7L1647.0 332.2L1646.0 331.1L1645.0 331.4L1644.0 331.1L1643.0 331.3L1642.0 331.8L1641.0 331.7L1640.0 332.2L1639.0 331.3L1638.0 331.1L1637.0 331.3L1636.0 331.7L1635.0 332.0L1634.0 331.9L1633.0 331.1L1632.0 332.4L1631.0 331.1L1630.0 333.1L1629.0 331.7L1628.0 331.8L1627.0 331.9L1626.0 331.6L1625.0 333.8L1624.0 331.8L1623.0 331.2L1622.0 332.1L1621.0 331.6L1620.0 331.0L1619.0 331.1L1618.0 332.3L1617.0 331.1L1616.0 331.3L1615.0 332.7L1614.0 333.6L1613.0 331.6L1612.0 332.2L1611.0 331.9L1610.0 332.8L1609.0 332.0L1608.0 332.2L1607.0 331.5L1606.0 335.3L1605.0 331.3L1604.0 332.0L1603.0 332.9L1602.0 331.2L1601.0 331.6L1600.0 331.4L1599.0 331.5L1598.0 331.5L1597.0 331.3L1596.0 331.3L1595.0 332.8L1594.0 331.0L1593.0 332.6L1592.0 331.0L1591.0 331.6L1590.0 333.3L1589.0 332.5L1588.0 333.5L1587.0 331.1L1586.0 331.1L1585.0 331.6L1584.0 333.7L1583.0 331.7L1582.0 331.6L1581.0 332.5L1580.0 331.6L1579.0 331.7L1578.0 331.3L1577.0 332.2L1576.0 332.1L1575.0 331.5L1574.0 331.1L1573.0 331.3L1572.0 332.0L1571.0 331.2L1570.0 332.2L1569.0 334.4L1568.0 331.7L1567.0 331.2L1566.0 331.1L1565.0 332.0L1564.0 331.1L1563.0 331.5L1562.0 331.4L1561.0 331.2L1560.0 331.4L1559.0 331.2L1558.0 331.6L1557.0 331.0L1556.0 331.4L1555.0 332.1L1554.0 333.0L1553.0 331.5L1552.0 332.3L1551.0 331.3L1550.0 331.1L1549.0 334.9L1548.0 331.6L1547.0 331.3L1546.0 331.5L1545.0 331.8L1544.0 331.4L1543.0 333.0L1542.0 331.1L1541.0 331.7L1540.0 331.4L1539.0 331.2L1538.0 331.9L1537.0 331.8L1536.0 331.1L1535.0 334.8L1534.0 331.2L1533.0 332.1L1532.0 331.6L1531.0 331.1L1530.0 332.1L1529.0 331.7L1528.0 331.7L1527.0 331.3L1526.0 333.7L1525.0 332.1L1524.0 332.2L1523.0 332.4L1522.0 331.7L1521.0 331.3L1520.0 331.4L1519.0 331.9L1518.0 331.1L1517.0 332.2L1516.0 331.4L1515.0 331.7L1514.0 332.6L1513.0 332.0L1512.0 331.0L1511.0 331.5L1510.0 331.7L1509.0 331.5L1508.0 331.6L1507.0 331.1L1506.0 332.1L1505.0 332.1L1504.0 335.4L1503.0 332.0L1502.0 331.4L1501.0 333.3L1500.0 332.6L1499.0 331.4L1498.0 331.3L1497.0 331.4L1496.0 331.1L1495.0 331.0L1494.0 332.5L1493.0 332.1L1492.0 331.5L1491.0 331.6L1490.0 331.4L1489.0 331.9L1488.0 332.1L1487.0 331.9L1486.0 331.9L1485.0 332.6L1484.0 332.0L1483.0 332.4L1482.0 332.0L1481.0 332.3L1480.0 331.7L1479.0 332.0L1478.0 331.4L1477.0 331.0L1476.0 331.3L1475.0 333.1L1474.0 331.3L1473.0 332.0L1472.0 331.6L1471.0 332.1L1470.0 331.0L1469.0 332.3L1468.0 333.7L1467.0 332.3L1466.0 331.2L1465.0 331.5L1464.0 336.1L1463.0 331.7L1462.0 331.0L1461.0 332.4L1460.0 331.6L1459.0 331.5L1458.0 331.9L1457.0 331.1L1456.0 331.2L1455.0 332.4L1454.0 331.9L1453.0 332.4L1452.0 331.6L1451.0 331.7L1450.0 331.4L1449.0 331.2L1448.0 331.1L1447.0 331.4L1446.0 332.8L1445.0 331.8L1444.0 331.4L1443.0 332.4L1442.0 332.1L1441.0 331.6L1440.0 331.8L1439.0 332.6L1438.0 331.5L1437.0 331.6L1436.0 331.4L1435.0 333.9L1434.0 332.9L1433.0 332.4L1432.0 332.5L1431.0 333.3L1430.0 332.5L1429.0 332.6L1428.0 332.9L1427.0 331.9L1426.0 332.6L1425.0 332.0L1424.0 332.4L1423.0 332.9L1422.0 332.1L1421.0 331.9L1420.0 333.1L1419.0 333.3L1418.0 332.2L1417.0 332.4L1416.0 333.1L1415.0 334.2L1414.0 332.6L1413.0 332.3L1412.0 332.5L1411.0 332.3L1410.0 334.0L1409.0 332.3L1408.0 332.4L1407.0 332.9L1406.0 332.7L1405.0 336.0L1404.0 333.0L1403.0 332.5L1402.0 333.1L1401.0 332.5L1400.0 333.4L1399.0 332.8L1398.0 333.4L1397.0 333.4L1396.0 333.4L1395.0 332.8L1394.0 333.2L1393.0 333.1L1392.0 333.3L1391.0 333.0L1390.0 333.2L1389.0 333.3L1388.0 333.1L1387.0 333.4L1386.0 333.6L1385.0 333.2L1384.0 334.2L1383.0 333.7L1382.0 333.1L1381.0 333.3L1380.0 334.2L1379.0 333.3L1378.0 333.6L1377.0 334.2L1376.0 333.4L1375.0 334.2L1374.0 333.4L1373.0 334.0L1372.0 334.4L1371.0 334.6L1370.0 336.4L1369.0 334.3L1368.0 334.9L1367.0 334.2L1366.0 336.2L1365.0 334.3L1364.0 334.3L1363.0 334.1L1362.0 334.1L1361.0 334.4L1360.0 334.8L1359.0 338.4L1358.0 335.1L1357.0 334.8L1356.0 335.7L1355.0 335.7L1354.0 335.5L1353.0 335.9L1352.0 334.8L1351.0 336.3L1350.0 335.4L1349.0 336.3L1348.0 335.5L1347.0 339.4L1346.0 335.3L1345.0 336.2L1344.0 335.7L1343.0 337.9L1342.0 336.6L1341.0 335.4L1340.0 335.8L1339.0 336.2L1338.0 335.9L1337.0 335.9L1336.0 336.0L1335.0 340.4L1334.0 338.5L1333.0 336.8L1332.0 335.6L1331.0 336.1L1330.0 337.0L1329.0 337.0L1328.0 336.0L1327.0 336.7L1326.0 336.1L1325.0 336.0L1324.0 336.1L1323.0 337.1L1322.0 336.8L1321.0 336.5L1320.0 336.5L1319.0 337.0L1318.0 337.1L1317.0 340.1L1316.0 338.2L1315.0 338.0L1314.0 337.2L1313.0 337.6L1312.0 336.9L1311.0 337.8L1310.0 337.3L1309.0 338.0L1308.0 337.1L1307.0 337.2L1306.0 338.1L1305.0 337.1L1304.0 338.2L1303.0 337.3L1302.0 338.1L1301.0 337.4L1300.0 338.5L1299.0 339.3L1298.0 339.8L1297.0 338.3L1296.0 337.9L1295.0 338.2L1294.0 340.0L1293.0 338.7L1292.0 341.0L1291.0 338.6L1290.0 338.2L1289.0 339.6L1288.0 339.4L1287.0 338.5L1286.0 338.6L1285.0 338.9L1284.0 338.8L1283.0 339.6L1282.0 338.7L1281.0 339.5L1280.0 339.9L1279.0 339.8L1278.0 339.3L1277.0 339.4L1276.0 339.2L1275.0 341.0L1274.0 339.7L1273.0 339.5L1272.0 343.9L1271.0 339.8L1270.0 340.1L1269.0 339.6L1268.0 340.4L1267.0 339.9L1266.0 340.0L1265.0 340.6L1264.0 342.0L1263.0 340.6L1262.0 341.4L1261.0 341.4L1260.0 340.5L1259.0 340.8L1258.0 341.4L1257.0 340.8L1256.0 340.5L1255.0 341.2L1254.0 340.6L1253.0 341.4L1252.0 342.6L1251.0 341.9L1250.0 342.1L1249.0 341.8L1248.0 341.5L1247.0 341.8L1246.0 341.5L1245.0 341.3L1244.0 341.3L1243.0 342.4L1242.0 341.3L1241.0 343.0L1240.0 341.5L1239.0 341.7L1238.0 342.4L1237.0 341.7L1236.0 341.9L1235.0 342.2L1234.0 341.9L1233.0 342.8L1232.0 342.3L1231.0 343.8L1230.0 343.6L1229.0 343.3L1228.0 343.6L1227.0 342.7L1226.0 342.5L1225.0 343.5L1224.0 344.2L1223.0 343.3L1222.0 342.6L1221.0 344.8L1220.0 343.4L1219.0 342.8L1218.0 343.5L1217.0 346.9L1216.0 344.3L1215.0 344.5L1214.0 343.0L1213.0 344.0L1212.0 343.1L1211.0 343.7L1210.0 343.4L1209.0 344.2L1208.0 343.4L1207.0 343.7L1206.0 344.1L1205.0 345.0L1204.0 343.7L1203.0 344.0L1202.0 345.6L1201.0 344.9L1200.0 345.8L1199.0 344.3L1198.0 347.0L1197.0 345.1L1196.0 345.7L1195.0 344.2L1194.0 344.2L1193.0 344.4L1192.0 344.3L1191.0 344.6L1190.0 345.0L1189.0 345.0L1188.0 344.7L1187.0 348.4L1186.0 344.6L1185.0 344.9L1184.0 345.1L1183.0 345.1L1182.0 345.1L1181.0 344.9L1180.0 345.4L1179.0 346.2L1178.0 345.0L1177.0 345.3L1176.0 345.4L1175.0 348.1L1174.0 346.0L1173.0 345.3L1172.0 345.8L1171.0 345.6L1170.0 345.5L1169.0 347.7L1168.0 348.0L1167.0 347.8L1166.0 346.0L1165.0 346.6L1164.0 348.2L1163.0 346.6L1162.0 347.4L1161.0 346.0L1160.0 347.2L1159.0 346.9L1158.0 346.1L1157.0 348.0L1156.0 346.5L1155.0 347.1L1154.0 347.5L1153.0 347.3L1152.0 347.2L1151.0 346.8L1150.0 348.4L1149.0 346.9L1148.0 347.0L1147.0 347.4L1146.0 348.0L1145.0 347.9L1144.0 347.5L1143.0 347.8L1142.0 348.5L1141.0 347.7L1140.0 349.0L1139.0 349.0L1138.0 348.4L1137.0 350.3L1136.0 349.3L1135.0 349.4L1134.0 349.5L1133.0 349.5L1132.0 349.5L1131.0 349.5L1130.0 349.3L1129.0 349.8L1128.0 349.6L1127.0 350.3L1126.0 350.8L1125.0 349.7L1124.0 350.2L1123.0 349.9L1122.0 349.9L1121.0 350.2L1120.0 350.8L1119.0 350.4L1118.0 350.5L1117.0 350.8L1116.0 350.3L1115.0 350.9L1114.0 350.9L1113.0 353.3L1112.0 350.9L1111.0 351.2L1110.0 351.8L1109.0 351.7L1108.0 353.6L1107.0 351.5L1106.0 351.5L1105.0 352.8L1104.0 352.2L1103.0 352.6L1102.0 351.9L1101.0 355.7L1100.0 352.2L1099.0 353.4L1098.0 352.4L1097.0 353.2L1096.0 352.5L1095.0 353.2L1094.0 353.1L1093.0 353.2L1092.0 354.0L1091.0 354.0L1090.0 353.1L1089.0 353.8L1088.0 353.4L1087.0 354.6L1086.0 353.7L1085.0 354.0L1084.0 354.0L1083.0 354.9L1082.0 354.3L1081.0 357.5L1080.0 355.1L1079.0 353.9L1078.0 354.5L1077.0 354.0L1076.0 354.1L1075.0 354.3L1074.0 354.1L1073.0 354.7L1072.0 354.5L1071.0 354.2L1070.0 354.8L1069.0 355.5L1068.0 354.7L1067.0 355.8L1066.0 355.2L1065.0 355.8L1064.0 355.4L1063.0 354.6L1062.0 354.6L1061.0 354.6L1060.0 354.9L1059.0 355.3L1058.0 355.6L1057.0 355.1L1056.0 356.1L1055.0 358.7L1054.0 355.9L1053.0 355.5L1052.0 355.2L1051.0 359.5L1050.0 355.2L1049.0 355.8L1048.0 356.2L1047.0 355.2L1046.0 356.2L1045.0 356.1L1044.0 356.7L1043.0 356.6L1042.0 355.6L1041.0 355.9L1040.0 356.3L1039.0 357.1L1038.0 356.4L1037.0 356.6L1036.0 357.1L1035.0 357.1L1034.0 356.7L1033.0 356.3L1032.0 356.4L1031.0 356.3L1030.0 358.0L1029.0 357.4L1028.0 357.1L1027.0 357.0L1026.0 356.7L1025.0 360.8L1024.0 356.8L1023.0 357.9L1022.0 358.3L1021.0 357.4L1020.0 357.5L1019.0 358.3L1018.0 358.0L1017.0 358.4L1016.0 358.1L1015.0 357.5L1014.0 357.9L1013.0 358.7L1012.0 358.7L1011.0 359.9L1010.0 358.6L1009.0 359.3L1008.0 358.7Z" fill="#2b4fbc" stroke="#10267a" stroke-width="0.9"/>
<path d="M1066.1 362.0V371.2M1069.3 362.0V371.1M1071.5 362.0V371.6M1074.2 362.0V371.6M1076.9 362.0V372.8M1079.7 362.0V373.7M1082.3 362.0V372.3M1085.4 362.0V370.4M1088.1 362.0V372.0M1090.8 362.0V370.3M1093.4 362.0V373.3M1096.2 362.0V370.6M1098.7 362.0V373.5" stroke="#dc98c0" stroke-width="1.4"/>
<path d="M1008.0 358.7L1009.0 359.4L1010.0 359.2L1011.0 359.7L1012.0 359.1L1013.0 357.1L1014.0 359.2L1015.0 358.2L1016.0 358.6L1017.0 358.9L1018.0 358.6L1019.0 358.9L1020.0 354.4L1021.0 358.9L1022.0 358.7L1023.0 358.0L1024.0 358.5L1025.0 355.9L1026.0 357.7L1027.0 356.3L1028.0 358.0L1029.0 357.5L1030.0 358.1L1031.0 357.8L1032.0 357.0L1033.0 356.9L1034.0 357.8L1035.0 355.8L1036.0 356.8L1037.0 356.0L1038.0 354.8L1039.0 355.2L1040.0 357.3L1041.0 357.5L1042.0 357.2L1043.0 357.3L1044.0 356.4L1045.0 356.2L1046.0 357.1L1047.0 355.9L1048.0 355.7L1049.0 355.7L1050.0 356.7L1051.0 356.2L1052.0 357.1L1053.0 356.9L1054.0 356.9L1055.0 355.2L1056.0 354.9L1057.0 354.7L1058.0 357.0L1059.0 354.8L1060.0 356.9L1061.0 356.2L1062.0 356.4L1063.0 356.1L1064.0 355.5L1065.0 354.6L1066.0 356.0L1067.0 353.1L1068.0 356.1L1069.0 355.9L1070.0 355.4L1071.0 356.2L1072.0 355.6L1073.0 356.4L1074.0 355.7L1075.0 355.9L1076.0 355.2L1077.0 355.9L1078.0 354.5L1079.0 356.1L1080.0 355.8L1081.0 355.6L1082.0 355.1L1083.0 355.3L1084.0 356.1L1085.0 355.9L1086.0 355.1L1087.0 355.8L1088.0 355.2L1089.0 355.9L1090.0 355.9L1091.0 354.9L1092.0 355.2L1093.0 355.1L1094.0 355.7L1095.0 354.8L1096.0 355.6L1097.0 354.5L1098.0 353.6L1099.0 355.3L1100.0 353.1L1101.0 355.2L1102.0 354.7L1103.0 355.0L1104.0 354.7L1105.0 353.1L1106.0 353.8L1107.0 354.3L1108.0 353.3L1109.0 353.6L1110.0 351.1L1111.0 352.4L1112.0 353.6L1113.0 353.0L1114.0 352.2L1115.0 350.6L1116.0 352.9L1117.0 352.4L1118.0 351.1L1119.0 350.0L1120.0 351.6L1121.0 349.9L1122.0 351.0L1123.0 351.0L1124.0 349.9L1125.0 351.0L1126.0 349.3L1127.0 351.1L1128.0 348.7L1129.0 350.1L1130.0 350.6L1131.0 350.6L1132.0 349.4L1133.0 348.9L1134.0 349.3L1135.0 349.8L1136.0 347.6L1137.0 349.1L1138.0 348.7L1139.0 349.2L1140.0 348.2L1141.0 348.7L1142.0 347.3L1143.0 347.8L1144.0 348.2L1145.0 345.9L1146.0 347.9L1147.0 345.5L1148.0 347.7L1149.0 345.4L1150.0 346.5L1151.0 345.4L1152.0 346.0L1153.0 346.0L1154.0 346.0L1155.0 346.0L1156.0 345.9L1157.0 345.4L1158.0 345.4L1159.0 345.9L1160.0 340.6L1161.0 345.6L1162.0 345.9L1163.0 344.7L1164.0 345.5L1165.0 345.1L1166.0 344.9L1167.0 344.7L1168.0 345.3L1169.0 345.2L1170.0 345.3L1171.0 343.8L1172.0 344.5L1173.0 344.1L1174.0 343.3L1175.0 344.0L1176.0 344.6L1177.0 342.2L1178.0 341.9L1179.0 344.0L1180.0 344.7L1181.0 343.2L1182.0 344.6L1183.0 343.6L1184.0 344.0L1185.0 344.4L1186.0 344.0L1187.0 343.5L1188.0 342.3L1189.0 343.6L1190.0 343.7L1191.0 343.5L1192.0 343.1L1193.0 343.6L1194.0 342.7L1195.0 343.3L1196.0 343.1L1197.0 342.1L1198.0 342.3L1199.0 342.7L1200.0 343.0L1201.0 342.9L1202.0 343.0L1203.0 341.8L1204.0 342.6L1205.0 340.1L1206.0 341.1L1207.0 341.4L1208.0 341.6L1209.0 341.1L1210.0 340.3L1211.0 341.6L1212.0 341.9L1213.0 342.3L1214.0 342.1L1215.0 340.8L1216.0 340.1L1217.0 341.6L1218.0 342.0L1219.0 340.4L1220.0 339.9L1221.0 340.9L1222.0 341.7L1223.0 340.0L1224.0 340.7L1225.0 339.7L1226.0 341.0L1227.0 340.1L1228.0 341.0L1229.0 340.2L1230.0 341.0L1231.0 340.1L1232.0 339.5L1233.0 340.1L1234.0 337.6L1235.0 340.5L1236.0 339.8L1237.0 339.1L1238.0 340.4L1239.0 339.0L1240.0 337.5L1241.0 340.1L1242.0 339.7L1243.0 339.8L1244.0 339.1L1245.0 338.9L1246.0 337.0L1247.0 338.1L1248.0 338.0L1249.0 338.3L1250.0 338.1L1251.0 338.8L1252.0 337.3L1253.0 338.0L1254.0 335.2L1255.0 337.4L1256.0 338.5L1257.0 338.2L1258.0 335.1L1259.0 338.4L1260.0 337.8L1261.0 337.8L1262.0 337.6L1263.0 335.8L1264.0 335.4L1265.0 337.3L1266.0 337.5L1267.0 335.8L1268.0 332.7L1269.0 334.8L1270.0 337.3L1271.0 336.7L1272.0 336.4L1273.0 334.6L1274.0 335.8L1275.0 336.3L1276.0 335.7L1277.0 334.9L1278.0 334.7L1279.0 335.3L1280.0 336.4L1281.0 336.4L1282.0 335.3L1283.0 335.4L1284.0 335.3L1285.0 335.3L1286.0 335.2L1287.0 335.7L1288.0 332.6L1289.0 334.1L1290.0 335.8L1291.0 334.8L1292.0 334.8L1293.0 335.4L1294.0 335.5L1295.0 334.6L1296.0 334.3L1297.0 335.0L1298.0 334.7L1299.0 333.6L1300.0 335.3L1301.0 334.4L1302.0 334.6L1303.0 334.6L1304.0 332.5L1305.0 333.4L1306.0 333.8L1307.0 333.6L1308.0 334.6L1309.0 334.5L1310.0 333.9L1311.0 334.1L1312.0 332.6L1313.0 334.5L1314.0 331.8L1315.0 333.5L1316.0 333.3L1317.0 333.1L1318.0 333.0L1319.0 334.2L1320.0 333.9L1321.0 333.1L1322.0 333.8L1323.0 332.7L1324.0 333.4L1325.0 331.4L1326.0 333.6L1327.0 333.6L1328.0 332.9L1329.0 333.5L1330.0 333.1L1331.0 333.0L1332.0 332.7L1333.0 332.9L1334.0 333.3L1335.0 333.2L1336.0 329.3L1337.0 332.7L1338.0 332.1L1339.0 333.2L1340.0 332.4L1341.0 333.0L1342.0 332.0L1343.0 329.3L1344.0 332.5L1345.0 332.6L1346.0 332.7L1347.0 332.9L1348.0 332.4L1349.0 332.2L1350.0 332.8L1351.0 332.7L1352.0 331.7L1353.0 330.5L1354.0 331.0L1355.0 332.1L1356.0 331.2L1357.0 332.5L1358.0 330.4L1359.0 331.5L1360.0 331.7L1361.0 331.3L1362.0 331.7L1363.0 331.9L1364.0 330.1L1365.0 331.1L1366.0 331.3L1367.0 329.9L1368.0 331.8L1369.0 331.6L1370.0 330.9L1371.0 331.0L1372.0 330.3L1373.0 331.3L1374.0 331.6L1375.0 330.2L1376.0 328.9L1377.0 331.1L1378.0 330.3L1379.0 331.3L1380.0 330.1L1381.0 329.1L1382.0 330.2L1383.0 328.3L1384.0 330.8L1385.0 331.4L1386.0 331.3L1387.0 330.9L1388.0 330.1L1389.0 328.9L1390.0 329.3L1391.0 329.3L1392.0 330.1L1393.0 330.6L1394.0 330.2L1395.0 330.2L1396.0 329.7L1397.0 330.3L1398.0 330.7L1399.0 330.6L1400.0 329.2L1401.0 327.9L1402.0 329.9L1403.0 329.1L1404.0 330.8L1405.0 327.6L1406.0 330.1L1407.0 329.8L1408.0 329.7L1409.0 329.4L1410.0 330.5L1411.0 330.3L1412.0 330.5L1413.0 330.5L1414.0 327.2L1415.0 329.3L1416.0 330.4L1417.0 329.9L1418.0 329.9L1419.0 329.0L1420.0 329.5L1421.0 330.1L1422.0 329.8L1423.0 329.4L1424.0 330.1L1425.0 330.1L1426.0 329.9L1427.0 329.6L1428.0 329.1L1429.0 329.3L1430.0 330.0L1431.0 329.6L1432.0 328.2L1433.0 329.9L1434.0 329.7L1435.0 326.2L1436.0 328.9L1437.0 329.5L1438.0 329.0L1439.0 328.4L1440.0 327.9L1441.0 329.2L1442.0 328.9L1443.0 327.5L1444.0 327.2L1445.0 325.3L1446.0 329.2L1447.0 328.6L1448.0 326.7L1449.0 328.9L1450.0 329.2L1451.0 328.8L1452.0 329.2L1453.0 327.2L1454.0 325.6L1455.0 328.0L1456.0 328.6L1457.0 329.2L1458.0 329.1L1459.0 329.4L1460.0 328.5L1461.0 329.4L1462.0 328.4L1463.0 329.2L1464.0 328.6L1465.0 328.5L1466.0 327.6L1467.0 329.3L1468.0 328.7L1469.0 328.6L1470.0 329.3L1471.0 327.5L1472.0 328.3L1473.0 328.1L1474.0 328.6L1475.0 329.0L1476.0 328.3L1477.0 327.9L1478.0 326.8L1479.0 329.1L1480.0 328.7L1481.0 325.4L1482.0 328.4L1483.0 328.1L1484.0 327.8L1485.0 326.1L1486.0 328.3L1487.0 328.8L1488.0 328.5L1489.0 329.1L1490.0 329.1L1491.0 329.1L1492.0 329.2L1493.0 326.1L1494.0 328.0L1495.0 327.7L1496.0 329.0L1497.0 328.8L1498.0 329.2L1499.0 327.5L1500.0 328.6L1501.0 327.9L1502.0 328.6L1503.0 328.0L1504.0 327.6L1505.0 327.9L1506.0 329.0L1507.0 328.7L1508.0 327.0L1509.0 328.7L1510.0 327.4L1511.0 327.9L1512.0 327.5L1513.0 327.0L1514.0 328.0L1515.0 329.1L1516.0 329.2L1517.0 327.4L1518.0 327.8L1519.0 328.7L1520.0 328.8L1521.0 328.0L1522.0 329.1L1523.0 328.6L1524.0 328.7L1525.0 328.4L1526.0 328.0L1527.0 329.1L1528.0 325.7L1529.0 327.6L1530.0 328.0L1531.0 328.2L1532.0 328.5L1533.0 329.0L1534.0 328.8L1535.0 329.1L1536.0 328.7L1537.0 328.3L1538.0 326.5L1539.0 324.6L1540.0 328.8L1541.0 329.0L1542.0 324.9L1543.0 328.4L1544.0 326.5L1545.0 329.0L1546.0 328.4L1547.0 328.0L1548.0 324.4L1549.0 328.5L1550.0 328.6L1551.0 328.8L1552.0 328.2L1553.0 327.3L1554.0 328.6L1555.0 328.5L1556.0 328.6L1557.0 327.4L1558.0 328.0L1559.0 328.6L1560.0 328.3L1561.0 327.9L1562.0 328.6L1563.0 328.2L1564.0 328.3L1565.0 328.8L1566.0 326.7L1567.0 327.7L1568.0 328.9L1569.0 327.5L1570.0 328.6L1571.0 328.6L1572.0 326.9L1573.0 328.6L1574.0 328.4L1575.0 328.3L1576.0 327.3L1577.0 327.1L1578.0 326.6L1579.0 327.4L1580.0 327.0L1581.0 328.2L1582.0 327.7L1583.0 328.3L1584.0 327.6L1585.0 327.5L1586.0 327.4L1587.0 327.5L1588.0 327.3L1589.0 327.0L1590.0 328.0L1591.0 328.8L1592.0 325.7L1593.0 328.6L1594.0 327.4L1595.0 328.1L1596.0 326.7L1597.0 328.7L1598.0 326.5L1599.0 328.4L1600.0 328.2L1601.0 328.3L1602.0 328.2L1603.0 328.6L1604.0 327.8L1605.0 328.4L1606.0 327.6L1607.0 328.6L1608.0 324.8L1609.0 325.9L1610.0 328.6L1611.0 327.6L1612.0 328.3L1613.0 326.7L1614.0 326.9L1615.0 326.7L1616.0 326.4L1617.0 328.6L1618.0 328.0L1619.0 328.2L1620.0 328.4L1621.0 327.3L1622.0 326.7L1623.0 328.7L1624.0 326.6L1625.0 328.6L1626.0 326.9L1627.0 326.5L1628.0 327.0L1629.0 328.0L1630.0 328.1L1631.0 324.5L1632.0 328.2L1633.0 326.8L1634.0 327.3L1635.0 327.3L1636.0 328.3L1637.0 327.2L1638.0 328.0L1639.0 326.9L1640.0 328.4L1641.0 328.3L1642.0 328.6L1643.0 327.1L1644.0 327.4L1645.0 327.5L1646.0 328.6L1647.0 328.5L1648.0 326.4L1649.0 325.0L1650.0 328.2L1651.0 327.7L1652.0 328.5L1653.0 327.4L1654.0 328.1L1655.0 328.4L1656.0 327.9L1657.0 328.7L1658.0 326.9L1659.0 327.5L1660.0 327.5L1661.0 325.8L1662.0 328.2L1663.0 328.2L1664.0 326.9L1665.0 322.8L1666.0 327.5L1667.0 328.6L1668.0 327.7L1669.0 327.8L1670.0 328.0L1671.0 327.4L1672.0 328.5L1673.0 327.4L1674.0 328.1L1675.0 326.9L1676.0 328.5L1677.0 327.6L1678.0 328.5L1679.0 328.7L1680.0 325.8L1681.0 328.5L1682.0 326.6L1683.0 328.4L1684.0 328.6L1685.0 327.0L1686.0 328.5L1687.0 326.6L1688.0 328.1L1689.0 327.7L1690.0 328.6L1691.0 328.6L1692.0 327.0L1693.0 327.6L1694.0 328.5L1695.0 326.7L1696.0 327.6L1697.0 327.7L1698.0 326.0L1699.0 327.7L1700.0 326.7L1701.0 328.4L1702.0 328.4L1703.0 328.3L1704.0 327.6L1705.0 327.1L1706.0 327.6L1707.0 328.6L1708.0 328.7L1709.0 328.4L1710.0 326.5L1711.0 328.1L1712.0 327.0L1713.0 327.9L1714.0 327.8L1715.0 327.3L1716.0 327.1L1717.0 328.0L1718.0 328.5L1719.0 328.0L1720.0 326.3L1721.0 327.7L1722.0 328.3L1723.0 328.6L1724.0 328.3L1725.0 328.6L1726.0 327.9L1727.0 327.5L1728.0 328.1L1729.0 326.7L1730.0 327.8L1731.0 328.0L1732.0 327.6L1733.0 328.5L1734.0 328.8L1735.0 327.2L1736.0 327.8L1737.0 328.4L1738.0 325.1L1739.0 327.3L1740.0 328.1L1741.0 327.8L1742.0 328.2L1743.0 328.2L1744.0 325.1L1745.0 327.9L1746.0 328.0L1747.0 328.1L1748.0 327.9L1749.0 328.6L1750.0 327.2L1751.0 328.1L1752.0 328.2L1753.0 328.2L1754.0 328.7L1754.0 341.0L1753.0 340.6L1752.0 341.3L1751.0 342.1L1750.0 342.3L1749.0 342.2L1748.0 342.1L1747.0 340.6L1746.0 341.8L1745.0 341.3L1744.0 341.7L1743.0 341.9L1742.0 340.7L1741.0 343.3L1740.0 340.9L1739.0 340.9L1738.0 342.0L1737.0 340.8L1736.0 342.1L1735.0 340.8L1734.0 341.7L1733.0 340.6L1732.0 342.0L1731.0 343.9L1730.0 340.8L1729.0 342.7L1728.0 341.2L1727.0 342.7L1726.0 341.2L1725.0 343.1L1724.0 341.5L1723.0 342.7L1722.0 341.0L1721.0 342.8L1720.0 340.9L1719.0 340.9L1718.0 341.7L1717.0 341.2L1716.0 341.4L1715.0 343.2L1714.0 341.8L1713.0 340.9L1712.0 341.0L1711.0 341.1L1710.0 341.8L1709.0 341.5L1708.0 341.0L1707.0 341.4L1706.0 341.7L1705.0 341.6L1704.0 341.1L1703.0 342.7L1702.0 343.6L1701.0 340.8L1700.0 341.7L1699.0 341.0L1698.0 343.1L1697.0 342.1L1696.0 342.7L1695.0 341.6L1694.0 343.0L1693.0 343.2L1692.0 343.4L1691.0 342.4L1690.0 343.5L1689.0 341.6L1688.0 341.9L1687.0 342.4L1686.0 341.4L1685.0 341.4L1684.0 341.7L1683.0 341.3L1682.0 341.2L1681.0 341.8L1680.0 341.7L1679.0 341.5L1678.0 342.1L1677.0 341.2L1676.0 341.7L1675.0 342.4L1674.0 341.9L1673.0 341.8L1672.0 341.9L1671.0 341.1L1670.0 341.7L1669.0 341.6L1668.0 343.1L1667.0 343.7L1666.0 342.8L1665.0 341.5L1664.0 341.4L1663.0 341.8L1662.0 345.7L1661.0 341.1L1660.0 341.2L1659.0 343.0L1658.0 343.3L1657.0 341.2L1656.0 342.4L1655.0 342.9L1654.0 342.3L1653.0 342.1L1652.0 342.4L1651.0 342.2L1650.0 342.7L1649.0 341.9L1648.0 342.0L1647.0 343.9L1646.0 341.2L1645.0 342.5L1644.0 342.1L1643.0 341.4L1642.0 342.2L1641.0 342.0L1640.0 342.0L1639.0 342.0L1638.0 341.3L1637.0 341.9L1636.0 341.7L1635.0 342.2L1634.0 341.4L1633.0 342.2L1632.0 341.5L1631.0 343.2L1630.0 344.2L1629.0 342.6L1628.0 342.8L1627.0 342.1L1626.0 343.1L1625.0 341.5L1624.0 341.9L1623.0 344.3L1622.0 342.2L1621.0 341.4L1620.0 341.8L1619.0 343.0L1618.0 341.6L1617.0 342.0L1616.0 342.2L1615.0 343.1L1614.0 342.3L1613.0 343.4L1612.0 342.1L1611.0 342.6L1610.0 343.5L1609.0 341.7L1608.0 342.5L1607.0 342.7L1606.0 342.5L1605.0 343.3L1604.0 342.5L1603.0 341.8L1602.0 342.9L1601.0 342.7L1600.0 342.8L1599.0 343.1L1598.0 342.2L1597.0 342.0L1596.0 341.8L1595.0 342.0L1594.0 343.0L1593.0 343.1L1592.0 342.6L1591.0 343.0L1590.0 342.7L1589.0 342.1L1588.0 343.3L1587.0 342.8L1586.0 342.6L1585.0 343.0L1584.0 342.1L1583.0 342.2L1582.0 346.0L1581.0 343.9L1580.0 344.0L1579.0 342.6L1578.0 342.6L1577.0 345.2L1576.0 343.3L1575.0 343.1L1574.0 342.6L1573.0 342.3L1572.0 343.0L1571.0 342.6L1570.0 344.8L1569.0 343.7L1568.0 342.7L1567.0 343.6L1566.0 342.7L1565.0 342.6L1564.0 344.1L1563.0 343.3L1562.0 343.9L1561.0 343.4L1560.0 343.1L1559.0 345.0L1558.0 344.2L1557.0 345.4L1556.0 343.3L1555.0 343.3L1554.0 343.6L1553.0 343.6L1552.0 344.4L1551.0 343.0L1550.0 344.4L1549.0 344.8L1548.0 346.2L1547.0 344.6L1546.0 343.4L1545.0 343.2L1544.0 343.5L1543.0 343.6L1542.0 344.0L1541.0 347.3L1540.0 343.7L1539.0 343.9L1538.0 344.2L1537.0 344.5L1536.0 343.4L1535.0 344.7L1534.0 344.6L1533.0 344.1L1532.0 346.7L1531.0 346.0L1530.0 346.2L1529.0 344.5L1528.0 344.0L1527.0 343.9L1526.0 345.0L1525.0 343.8L1524.0 344.3L1523.0 346.6L1522.0 344.4L1521.0 346.1L1520.0 345.5L1519.0 344.7L1518.0 344.9L1517.0 345.2L1516.0 344.2L1515.0 345.5L1514.0 345.5L1513.0 344.4L1512.0 344.8L1511.0 345.0L1510.0 345.9L1509.0 344.9L1508.0 344.5L1507.0 348.5L1506.0 347.8L1505.0 345.1L1504.0 345.3L1503.0 344.7L1502.0 345.1L1501.0 346.5L1500.0 344.9L1499.0 345.1L1498.0 346.8L1497.0 346.1L1496.0 345.7L1495.0 345.2L1494.0 345.8L1493.0 346.2L1492.0 345.8L1491.0 346.1L1490.0 345.7L1489.0 345.6L1488.0 345.3L1487.0 345.8L1486.0 346.1L1485.0 345.9L1484.0 346.0L1483.0 345.8L1482.0 345.6L1481.0 347.8L1480.0 345.2L1479.0 345.7L1478.0 345.2L1477.0 346.3L1476.0 346.8L1475.0 346.5L1474.0 345.6L1473.0 347.7L1472.0 345.6L1471.0 345.7L1470.0 348.2L1469.0 346.5L1468.0 346.5L1467.0 346.4L1466.0 346.8L1465.0 345.8L1464.0 345.7L1463.0 347.4L1462.0 346.0L1461.0 346.4L1460.0 345.9L1459.0 346.6L1458.0 345.8L1457.0 346.3L1456.0 346.3L1455.0 347.0L1454.0 347.2L1453.0 345.9L1452.0 347.9L1451.0 346.8L1450.0 346.9L1449.0 347.2L1448.0 349.4L1447.0 346.9L1446.0 347.5L1445.0 347.0L1444.0 346.4L1443.0 347.0L1442.0 350.6L1441.0 347.8L1440.0 347.4L1439.0 346.4L1438.0 346.6L1437.0 346.9L1436.0 348.1L1435.0 346.8L1434.0 346.5L1433.0 346.9L1432.0 348.0L1431.0 348.2L1430.0 347.1L1429.0 348.1L1428.0 349.0L1427.0 346.9L1426.0 347.5L1425.0 349.0L1424.0 346.8L1423.0 348.6L1422.0 347.4L1421.0 348.2L1420.0 348.4L1419.0 348.6L1418.0 349.7L1417.0 347.3L1416.0 347.2L1415.0 348.7L1414.0 347.8L1413.0 348.0L1412.0 347.4L1411.0 347.2L1410.0 350.6L1409.0 347.9L1408.0 348.6L1407.0 347.3L1406.0 347.5L1405.0 349.0L1404.0 348.6L1403.0 349.5L1402.0 350.3L1401.0 349.6L1400.0 350.4L1399.0 348.2L1398.0 347.6L1397.0 347.8L1396.0 348.9L1395.0 348.1L1394.0 347.8L1393.0 348.5L1392.0 350.2L1391.0 347.9L1390.0 349.1L1389.0 347.9L1388.0 348.6L1387.0 349.1L1386.0 348.8L1385.0 348.6L1384.0 348.5L1383.0 348.2L1382.0 349.2L1381.0 349.0L1380.0 349.1L1379.0 348.6L1378.0 349.8L1377.0 348.9L1376.0 349.2L1375.0 348.7L1374.0 348.6L1373.0 349.6L1372.0 349.2L1371.0 348.8L1370.0 349.8L1369.0 349.3L1368.0 350.2L1367.0 348.4L1366.0 349.2L1365.0 349.4L1364.0 349.5L1363.0 349.1L1362.0 350.6L1361.0 350.5L1360.0 349.0L1359.0 352.3L1358.0 349.2L1357.0 350.4L1356.0 348.9L1355.0 350.1L1354.0 350.8L1353.0 350.0L1352.0 349.0L1351.0 349.5L1350.0 348.8L1349.0 349.4L1348.0 349.6L1347.0 349.9L1346.0 350.2L1345.0 351.2L1344.0 349.1L1343.0 351.3L1342.0 350.6L1341.0 351.9L1340.0 349.8L1339.0 349.5L1338.0 350.6L1337.0 349.6L1336.0 350.0L1335.0 351.3L1334.0 349.6L1333.0 352.5L1332.0 352.6L1331.0 350.7L1330.0 349.9L1329.0 349.5L1328.0 349.8L1327.0 351.9L1326.0 350.8L1325.0 349.5L1324.0 351.0L1323.0 350.5L1322.0 350.0L1321.0 353.3L1320.0 351.0L1319.0 350.7L1318.0 351.3L1317.0 351.4L1316.0 350.5L1315.0 352.1L1314.0 350.7L1313.0 350.1L1312.0 350.9L1311.0 351.7L1310.0 352.3L1309.0 350.8L1308.0 352.0L1307.0 350.1L1306.0 351.8L1305.0 351.5L1304.0 350.2L1303.0 350.3L1302.0 352.7L1301.0 351.1L1300.0 350.4L1299.0 350.3L1298.0 351.7L1297.0 350.6L1296.0 351.9L1295.0 351.6L1294.0 351.1L1293.0 350.9L1292.0 352.1L1291.0 351.5L1290.0 351.4L1289.0 351.0L1288.0 351.8L1287.0 351.8L1286.0 351.6L1285.0 351.0L1284.0 351.8L1283.0 352.5L1282.0 351.0L1281.0 352.9L1280.0 353.2L1279.0 351.6L1278.0 351.8L1277.0 351.9L1276.0 351.3L1275.0 353.6L1274.0 352.3L1273.0 354.0L1272.0 353.6L1271.0 353.3L1270.0 352.8L1269.0 353.8L1268.0 354.9L1267.0 352.7L1266.0 352.3L1265.0 353.2L1264.0 352.2L1263.0 352.2L1262.0 355.1L1261.0 353.0L1260.0 352.9L1259.0 354.3L1258.0 354.8L1257.0 353.3L1256.0 353.5L1255.0 355.0L1254.0 353.4L1253.0 352.7L1252.0 354.1L1251.0 353.3L1250.0 354.3L1249.0 353.6L1248.0 355.9L1247.0 353.4L1246.0 353.6L1245.0 353.7L1244.0 353.4L1243.0 354.6L1242.0 353.7L1241.0 354.1L1240.0 353.6L1239.0 354.6L1238.0 354.0L1237.0 354.8L1236.0 354.2L1235.0 354.6L1234.0 354.0L1233.0 355.4L1232.0 355.0L1231.0 355.1L1230.0 356.1L1229.0 354.2L1228.0 354.5L1227.0 355.0L1226.0 354.7L1225.0 354.9L1224.0 356.5L1223.0 357.5L1222.0 354.9L1221.0 355.0L1220.0 355.7L1219.0 356.2L1218.0 355.2L1217.0 355.6L1216.0 355.7L1215.0 355.3L1214.0 356.2L1213.0 355.7L1212.0 356.3L1211.0 356.9L1210.0 357.3L1209.0 355.6L1208.0 355.5L1207.0 356.0L1206.0 356.7L1205.0 357.1L1204.0 358.1L1203.0 356.0L1202.0 357.4L1201.0 356.7L1200.0 356.8L1199.0 357.8L1198.0 356.6L1197.0 359.0L1196.0 358.1L1195.0 358.8L1194.0 357.0L1193.0 357.6L1192.0 357.0L1191.0 359.3L1190.0 356.8L1189.0 357.5L1188.0 359.0L1187.0 358.2L1186.0 357.9L1185.0 357.9L1184.0 358.5L1183.0 357.7L1182.0 357.4L1181.0 358.2L1180.0 358.5L1179.0 358.5L1178.0 358.2L1177.0 357.7L1176.0 359.6L1175.0 357.8L1174.0 359.6L1173.0 358.7L1172.0 358.9L1171.0 358.7L1170.0 359.1L1169.0 360.6L1168.0 359.5L1167.0 359.1L1166.0 360.0L1165.0 358.3L1164.0 360.5L1163.0 360.7L1162.0 360.8L1161.0 359.4L1160.0 359.1L1159.0 358.9L1158.0 360.3L1157.0 359.7L1156.0 358.8L1155.0 360.8L1154.0 359.6L1153.0 359.2L1152.0 359.4L1151.0 360.4L1150.0 359.6L1149.0 359.5L1148.0 360.3L1147.0 361.5L1146.0 360.4L1145.0 360.7L1144.0 360.5L1143.0 360.6L1142.0 360.7L1141.0 360.5L1140.0 361.4L1139.0 362.2L1138.0 360.6L1137.0 361.8L1136.0 360.8L1135.0 361.5L1134.0 360.9L1133.0 361.3L1132.0 361.4L1131.0 362.3L1130.0 362.3L1129.0 362.0L1128.0 361.7L1127.0 361.6L1126.0 361.4L1125.0 361.8L1124.0 362.1L1123.0 363.1L1122.0 361.7L1121.0 362.6L1120.0 362.1L1119.0 362.5L1118.0 363.3L1117.0 362.9L1116.0 363.7L1115.0 364.5L1114.0 363.1L1113.0 363.2L1112.0 365.9L1111.0 362.6L1110.0 364.9L1109.0 363.2L1108.0 363.9L1107.0 363.3L1106.0 364.7L1105.0 364.1L1104.0 366.8L1103.0 364.6L1102.0 363.8L1101.0 364.1L1100.0 365.2L1099.0 364.8L1098.0 363.9L1097.0 364.5L1096.0 363.8L1095.0 364.7L1094.0 363.7L1093.0 363.8L1092.0 365.1L1091.0 365.1L1090.0 367.7L1089.0 364.0L1088.0 364.3L1087.0 365.5L1086.0 364.1L1085.0 366.4L1084.0 363.9L1083.0 365.2L1082.0 364.0L1081.0 365.3L1080.0 367.5L1079.0 365.0L1078.0 364.0L1077.0 365.9L1076.0 365.8L1075.0 366.2L1074.0 364.4L1073.0 366.8L1072.0 365.4L1071.0 365.2L1070.0 366.4L1069.0 364.2L1068.0 364.9L1067.0 367.0L1066.0 368.2L1065.0 370.4L1064.0 372.2L1063.0 374.3L1062.0 375.1L1061.0 376.7L1060.0 376.3L1059.0 375.9L1058.0 375.1L1057.0 375.8L1056.0 375.2L1055.0 376.1L1054.0 377.2L1053.0 376.2L1052.0 375.8L1051.0 376.9L1050.0 376.8L1049.0 376.6L1048.0 376.1L1047.0 375.9L1046.0 375.7L1045.0 376.5L1044.0 375.8L1043.0 376.8L1042.0 376.5L1041.0 376.5L1040.0 375.6L1039.0 376.1L1038.0 376.0L1037.0 376.4L1036.0 376.4L1035.0 377.3L1034.0 376.9L1033.0 376.1L1032.0 378.2L1031.0 376.5L1030.0 376.9L1029.0 376.9L1028.0 378.3L1027.0 377.5L1026.0 377.2L1025.0 377.9L1024.0 379.0L1023.0 376.6L1022.0 378.4L1021.0 378.4L1020.0 376.9L1019.0 376.5L1018.0 376.9L1017.0 378.5L1016.0 377.4L1015.0 376.7L1014.0 377.5L1013.0 380.9L1012.0 378.2L1011.0 377.7L1010.0 378.3L1009.0 377.0L1008.0 377.5Z" fill="#bc0c72" stroke="#76104a" stroke-width="0.9"/>
<path d="M116.0 877.0L117.5 877.3L119.0 876.5L120.5 876.9L122.0 877.1L123.5 877.3L125.0 877.3L126.5 877.2L128.0 877.4L129.5 877.3L131.0 875.2L132.5 876.1L134.0 877.3L135.5 877.2L137.0 877.3L138.5 877.1L140.0 877.4L141.5 877.2L143.0 877.6L144.5 877.6L146.0 874.8L147.5 876.9L149.0 877.6L150.5 877.7L152.0 877.5L153.5 877.7L155.0 877.4L156.5 877.7L158.0 877.9L159.5 878.8L161.0 879.1L162.5 879.8L164.0 879.9L165.5 880.1L167.0 880.3L168.5 880.1L170.0 880.2L171.5 880.0L173.0 879.9L174.5 880.2L176.0 880.2L177.5 880.2L179.0 879.8L180.5 880.0L182.0 879.8L183.5 880.0L185.0 880.0L186.5 880.2L188.0 879.9L189.5 880.1L191.0 880.0L192.5 880.2L194.0 879.9L195.5 880.0L197.0 880.0L198.5 880.3L200.0 880.2L201.5 879.9L203.0 879.9L204.5 880.3L206.0 880.1L207.5 880.1L209.0 880.2L210.5 880.2L212.0 880.1L213.5 880.2L215.0 879.7L216.5 880.1L218.0 880.3L219.5 879.7L221.0 880.2L222.5 879.8L224.0 880.2L225.5 880.3L227.0 880.1L228.5 880.2L230.0 880.3L231.5 880.2L233.0 877.5L234.5 878.0L236.0 880.1L237.5 880.2L239.0 880.2L240.5 880.0L242.0 880.3L243.5 879.8L245.0 880.3L246.5 880.3L248.0 879.7L249.5 879.6L251.0 880.1L252.5 879.9L254.0 880.3L255.5 880.3L257.0 880.3L258.5 880.2L260.0 879.6L261.5 880.3L263.0 880.3L264.5 879.9L266.0 880.1L267.5 879.8L269.0 880.2L270.5 880.3L272.0 880.0L273.5 880.2L275.0 880.0L276.5 880.1L278.0 879.8L279.5 880.3L281.0 880.2L282.5 880.0L284.0 879.8L285.5 880.2L287.0 880.2L288.5 880.3L290.0 880.3L291.5 880.2L293.0 880.2L294.5 880.1L296.0 880.1L297.5 880.1L299.0 880.0L300.5 880.0L302.0 880.2L303.5 879.8L305.0 880.2L306.5 880.1L308.0 880.3L309.5 880.1L311.0 880.1L312.5 880.2L314.0 879.9L315.5 880.2L317.0 880.0L318.5 879.8L320.0 880.0L321.5 880.2L323.0 880.2L324.5 879.8L326.0 880.2L327.5 879.8L329.0 880.2L330.5 880.3L332.0 879.8L333.5 880.3L335.0 880.1L336.5 879.8L338.0 880.0L339.5 880.2L341.0 880.1L342.5 880.3L344.0 880.2L345.5 880.2L347.0 880.1L348.5 880.1L350.0 878.0L351.5 880.1L353.0 880.3L354.5 880.3L356.0 880.2L357.5 880.2L359.0 880.0L360.5 877.4L362.0 879.8L363.5 880.0L365.0 878.9L366.5 880.2L368.0 880.1L369.5 880.1L371.0 880.3L372.5 880.2L374.0 879.8L375.5 880.0L377.0 880.1L378.5 880.1L380.0 880.2L381.5 879.7L383.0 879.7L384.5 880.2L386.0 880.0L387.5 879.8L389.0 879.9L390.5 880.1L392.0 880.0L393.5 879.7L395.0 880.2L396.5 880.1L398.0 880.0L399.5 879.8L401.0 879.9L402.5 879.7L404.0 880.3L405.5 879.9L407.0 880.1L408.5 879.7L410.0 880.3L411.5 880.2L413.0 880.1L414.5 880.3L416.0 880.2L417.5 879.8L419.0 879.9L420.5 880.0L422.0 877.2L423.5 880.1L425.0 880.0L426.5 880.0L428.0 880.2L429.5 880.1L431.0 880.0L432.5 880.3L434.0 880.3L435.5 879.9L437.0 880.0L438.5 879.5L440.0 880.2L441.5 880.3L443.0 879.8L444.5 879.7L446.0 879.8L447.5 880.1L449.0 878.6L450.5 879.9L452.0 879.4L453.5 880.3L455.0 880.1L456.5 879.9L458.0 880.0L459.5 880.3L461.0 880.3L462.5 880.0L464.0 880.1L465.5 879.9L467.0 879.6L468.5 880.0L470.0 880.0L471.5 879.9L473.0 880.2L474.5 880.3L476.0 880.0L477.5 879.8L479.0 879.9L480.5 880.2L482.0 878.7L483.5 879.2L485.0 880.3L486.5 880.0L488.0 880.0L489.5 880.0L491.0 879.6L492.5 880.0L494.0 880.0L495.5 880.2L497.0 879.8L498.5 880.3L500.0 880.2L501.5 880.0L503.0 880.0L504.5 880.1L506.0 880.0L507.5 880.1L509.0 880.1L510.5 879.8L512.0 880.2L513.5 880.1L515.0 880.3L516.5 879.7L518.0 880.2L519.5 880.3L521.0 880.2L522.5 879.7L524.0 880.1L525.5 880.0L527.0 880.0L528.5 880.3L530.0 880.1L531.5 880.3L533.0 880.0L534.5 880.1L536.0 880.3L537.5 880.2L539.0 880.2L540.5 880.2L542.0 879.9L543.5 880.2L545.0 880.3L546.5 880.3L548.0 880.2L549.5 880.3L551.0 879.6L552.5 880.0L554.0 880.3L555.5 877.7L557.0 880.0L558.5 880.3L560.0 880.1L561.5 880.2L563.0 879.8L564.5 880.2L566.0 880.2L567.5 879.9L569.0 880.1L570.5 879.7L572.0 878.7L573.5 880.2L575.0 879.7L576.5 878.6L578.0 880.2L579.5 879.9L581.0 880.1L582.5 880.3L584.0 880.1L585.5 879.8L587.0 880.3L588.5 880.3L590.0 880.2L591.5 880.1L593.0 879.9L594.5 880.3L596.0 880.2L597.5 880.1L599.0 877.4L600.5 880.1L602.0 880.3L603.5 880.2L605.0 880.3L606.5 879.9L608.0 880.1L609.5 880.4L611.0 879.8L612.5 880.1L614.0 880.0L615.5 880.0L617.0 879.8L618.5 879.8L620.0 880.0L621.5 880.1L623.0 880.3L624.5 880.3L626.0 880.3L627.5 880.2L629.0 879.9L630.5 880.3L632.0 880.1L633.5 880.0L635.0 880.0L636.5 879.8L638.0 880.1L639.5 879.7L641.0 880.1L642.5 880.4L644.0 880.2L645.5 879.8L647.0 880.0L648.5 880.2L650.0 880.3L651.5 880.4L653.0 880.2L654.5 879.3L656.0 879.7L657.5 880.0L659.0 880.2L660.5 880.3L662.0 880.0L663.5 880.1L665.0 879.9L666.5 880.3L668.0 880.3L669.5 880.3L671.0 880.3L672.5 880.1L674.0 880.1L675.5 880.2L677.0 880.0L678.5 879.7L680.0 880.3L681.5 880.2L683.0 880.1L684.5 880.3L686.0 880.1L687.5 880.3L689.0 880.3L690.5 880.2L692.0 880.2L693.5 879.9L695.0 879.9L696.5 880.4L698.0 880.3L699.5 879.9L701.0 880.0L702.5 880.1L704.0 880.2L705.5 880.3L707.0 879.8L708.5 880.0L710.0 879.9L711.5 880.2L713.0 880.4L714.5 880.3L716.0 880.3L717.5 878.6L719.0 880.3L720.5 880.4L722.0 880.0L723.5 879.8L725.0 879.8L726.5 880.1L728.0 880.0L729.5 880.3L731.0 880.0L732.5 879.9L734.0 880.2L735.5 879.8L737.0 880.1L738.5 880.3L740.0 880.1L741.5 880.3L743.0 878.7L744.5 880.2L746.0 880.2L747.5 880.2L749.0 880.1L750.5 879.7L752.0 880.3L753.5 880.2L755.0 879.7L756.5 880.4L758.0 880.1L759.5 880.3L761.0 880.3L762.5 880.2L764.0 880.2L765.5 880.1L767.0 880.4L768.5 879.7L770.0 880.3L771.5 880.3L773.0 880.4L774.5 880.2L776.0 880.3L777.5 880.1L779.0 880.1L780.5 880.0L782.0 880.2L783.5 880.3L785.0 880.3L786.5 880.1L788.0 880.2L789.5 880.2L791.0 880.0L792.5 880.3L794.0 879.3L795.5 880.0L797.0 880.0L798.5 879.7L800.0 880.3L801.5 880.4L803.0 880.1L804.5 880.3L806.0 880.3L807.5 880.1L809.0 880.2L810.5 880.4L812.0 880.1L813.5 880.3L815.0 880.2L816.5 880.0L818.0 880.4L819.5 880.4L821.0 880.2L822.5 879.9L824.0 880.2L825.5 879.0L827.0 880.2L828.5 878.8L830.0 880.2L831.5 879.8L833.0 880.0L834.5 880.1L836.0 879.9L837.5 879.9L839.0 880.1L840.5 880.3L842.0 880.2L843.5 880.2L845.0 880.0L846.5 880.3L848.0 879.8L849.5 880.4L851.0 880.1L852.5 880.3L854.0 880.2L855.5 879.6L857.0 880.2L858.5 880.4L860.0 880.2L861.5 880.1L863.0 880.0L864.5 880.0L866.0 880.4L867.5 880.3L867.5 883.4L866.0 884.4L864.5 883.8L863.0 883.7L861.5 883.8L860.0 883.2L858.5 883.7L857.0 883.2L855.5 883.7L854.0 883.5L852.5 883.4L851.0 883.4L849.5 883.9L848.0 883.4L846.5 883.2L845.0 883.2L843.5 883.4L842.0 883.4L840.5 884.3L839.0 883.4L837.5 883.4L836.0 883.5L834.5 883.8L833.0 883.4L831.5 883.5L830.0 883.3L828.5 883.7L827.0 883.2L825.5 883.3L824.0 883.3L822.5 883.3L821.0 883.5L819.5 883.4L818.0 883.2L816.5 883.7L815.0 883.7L813.5 883.3L812.0 883.5L810.5 883.9L809.0 883.8L807.5 883.3L806.0 883.4L804.5 883.8L803.0 883.5L801.5 883.7L800.0 883.3L798.5 883.3L797.0 883.3L795.5 883.4L794.0 883.6L792.5 884.0L791.0 885.4L789.5 883.6L788.0 883.5L786.5 883.5L785.0 883.4L783.5 883.8L782.0 883.6L780.5 883.4L779.0 883.4L777.5 883.5L776.0 884.7L774.5 883.8L773.0 883.9L771.5 883.6L770.0 883.2L768.5 883.9L767.0 883.2L765.5 883.7L764.0 883.7L762.5 883.9L761.0 883.5L759.5 883.4L758.0 883.5L756.5 883.5L755.0 883.3L753.5 883.5L752.0 883.2L750.5 883.5L749.0 883.3L747.5 883.4L746.0 884.5L744.5 884.8L743.0 883.2L741.5 883.8L740.0 883.3L738.5 883.3L737.0 883.5L735.5 883.6L734.0 883.3L732.5 884.3L731.0 883.7L729.5 883.5L728.0 883.4L726.5 883.5L725.0 883.4L723.5 883.3L722.0 883.7L720.5 883.3L719.0 883.6L717.5 883.5L716.0 883.5L714.5 883.5L713.0 883.3L711.5 883.3L710.0 883.3L708.5 883.5L707.0 883.6L705.5 883.4L704.0 883.4L702.5 883.6L701.0 883.5L699.5 883.7L698.0 883.3L696.5 883.2L695.0 883.5L693.5 883.3L692.0 883.5L690.5 883.4L689.0 883.3L687.5 883.5L686.0 883.4L684.5 883.4L683.0 883.2L681.5 883.3L680.0 883.4L678.5 883.2L677.0 883.3L675.5 883.4L674.0 883.9L672.5 883.5L671.0 883.5L669.5 883.9L668.0 883.6L666.5 883.8L665.0 883.6L663.5 883.3L662.0 883.2L660.5 883.3L659.0 883.6L657.5 883.3L656.0 883.7L654.5 883.6L653.0 883.3L651.5 883.5L650.0 883.3L648.5 883.8L647.0 883.4L645.5 883.4L644.0 883.6L642.5 883.4L641.0 883.6L639.5 883.3L638.0 883.5L636.5 883.4L635.0 883.4L633.5 883.8L632.0 883.5L630.5 883.4L629.0 883.7L627.5 884.5L626.0 883.6L624.5 883.5L623.0 883.2L621.5 883.3L620.0 883.7L618.5 883.5L617.0 883.5L615.5 883.4L614.0 884.2L612.5 883.4L611.0 883.6L609.5 883.3L608.0 883.5L606.5 883.4L605.0 883.5L603.5 883.4L602.0 883.9L600.5 883.3L599.0 883.6L597.5 883.5L596.0 883.6L594.5 883.5L593.0 883.7L591.5 883.5L590.0 883.5L588.5 883.6L587.0 883.3L585.5 883.7L584.0 883.3L582.5 883.6L581.0 883.4L579.5 883.3L578.0 883.3L576.5 883.3L575.0 883.8L573.5 883.3L572.0 883.7L570.5 883.7L569.0 883.6L567.5 883.3L566.0 883.6L564.5 883.6L563.0 883.3L561.5 883.6L560.0 883.3L558.5 883.3L557.0 883.3L555.5 883.4L554.0 883.6L552.5 883.7L551.0 883.4L549.5 883.2L548.0 883.5L546.5 883.7L545.0 883.4L543.5 883.4L542.0 883.6L540.5 883.5L539.0 883.5L537.5 883.5L536.0 883.5L534.5 883.8L533.0 883.4L531.5 883.9L530.0 883.6L528.5 883.3L527.0 885.4L525.5 883.6L524.0 883.4L522.5 883.5L521.0 883.7L519.5 883.3L518.0 883.3L516.5 883.6L515.0 883.9L513.5 883.5L512.0 883.6L510.5 883.4L509.0 883.8L507.5 883.4L506.0 883.6L504.5 883.3L503.0 883.3L501.5 883.4L500.0 883.3L498.5 883.6L497.0 883.5L495.5 883.6L494.0 883.6L492.5 883.3L491.0 883.4L489.5 883.4L488.0 883.3L486.5 883.6L485.0 883.6L483.5 884.3L482.0 883.6L480.5 883.3L479.0 883.7L477.5 883.5L476.0 883.5L474.5 883.5L473.0 883.4L471.5 883.3L470.0 883.4L468.5 883.6L467.0 883.4L465.5 883.7L464.0 883.3L462.5 883.4L461.0 883.5L459.5 883.3L458.0 883.3L456.5 883.3L455.0 883.5L453.5 883.6L452.0 884.0L450.5 884.0L449.0 885.0L447.5 883.5L446.0 883.4L444.5 883.6L443.0 883.3L441.5 883.6L440.0 883.3L438.5 883.4L437.0 883.3L435.5 883.3L434.0 883.7L432.5 883.4L431.0 883.4L429.5 883.4L428.0 883.9L426.5 883.3L425.0 883.4L423.5 883.3L422.0 883.4L420.5 883.4L419.0 883.3L417.5 884.2L416.0 884.0L414.5 884.1L413.0 883.3L411.5 883.5L410.0 883.8L408.5 883.6L407.0 883.6L405.5 883.4L404.0 883.5L402.5 883.4L401.0 883.3L399.5 883.5L398.0 883.6L396.5 883.3L395.0 883.4L393.5 883.3L392.0 883.4L390.5 883.3L389.0 883.6L387.5 883.4L386.0 883.4L384.5 883.4L383.0 883.7L381.5 883.3L380.0 883.7L378.5 883.6L377.0 883.6L375.5 883.7L374.0 883.4L372.5 883.5L371.0 883.5L369.5 883.3L368.0 883.5L366.5 883.3L365.0 883.4L363.5 883.3L362.0 884.0L360.5 883.8L359.0 883.6L357.5 883.5L356.0 883.5L354.5 883.5L353.0 884.5L351.5 883.8L350.0 883.6L348.5 883.4L347.0 883.5L345.5 883.6L344.0 883.6L342.5 883.4L341.0 883.8L339.5 883.3L338.0 883.6L336.5 883.7L335.0 883.4L333.5 883.7L332.0 883.5L330.5 883.4L329.0 883.7L327.5 883.4L326.0 883.4L324.5 883.8L323.0 883.7L321.5 883.8L320.0 883.4L318.5 883.6L317.0 883.5L315.5 884.6L314.0 883.4L312.5 883.7L311.0 884.0L309.5 883.9L308.0 883.5L306.5 884.1L305.0 883.9L303.5 883.8L302.0 883.6L300.5 883.4L299.0 883.3L297.5 883.5L296.0 883.5L294.5 885.2L293.0 883.5L291.5 883.3L290.0 883.6L288.5 883.3L287.0 883.5L285.5 883.6L284.0 883.3L282.5 883.8L281.0 884.0L279.5 883.6L278.0 883.5L276.5 883.9L275.0 883.5L273.5 883.4L272.0 883.3L270.5 883.4L269.0 883.6L267.5 883.4L266.0 883.8L264.5 883.9L263.0 883.4L261.5 883.4L260.0 883.8L258.5 883.3L257.0 885.2L255.5 883.4L254.0 883.5L252.5 883.8L251.0 883.9L249.5 883.3L248.0 883.4L246.5 883.7L245.0 883.6L243.5 883.3L242.0 883.9L240.5 883.5L239.0 883.3L237.5 883.6L236.0 883.8L234.5 883.4L233.0 883.8L231.5 883.5L230.0 883.7L228.5 883.4L227.0 884.0L225.5 883.3L224.0 883.7L222.5 883.3L221.0 883.9L219.5 883.8L218.0 883.4L216.5 883.4L215.0 883.3L213.5 883.5L212.0 883.3L210.5 883.4L209.0 883.5L207.5 883.6L206.0 883.9L204.5 883.4L203.0 883.6L201.5 883.4L200.0 883.6L198.5 883.3L197.0 883.4L195.5 883.9L194.0 883.4L192.5 883.5L191.0 883.6L189.5 883.5L188.0 883.6L186.5 883.5L185.0 883.6L183.5 883.7L182.0 883.6L180.5 883.4L179.0 883.9L177.5 883.4L176.0 883.6L174.5 883.8L173.0 883.4L171.5 883.4L170.0 883.4L168.5 883.7L167.0 883.4L165.5 883.6L164.0 883.6L162.5 883.6L161.0 884.4L159.5 884.1L158.0 884.5L156.5 884.9L155.0 884.9L153.5 884.9L152.0 885.0L150.5 885.2L149.0 885.4L147.5 885.2L146.0 885.1L144.5 885.0L143.0 885.2L141.5 885.2L140.0 885.4L138.5 885.0L137.0 885.1L135.5 885.5L134.0 885.7L132.5 885.1L131.0 885.1L129.5 885.2L128.0 885.3L126.5 885.6L125.0 885.4L123.5 885.6L122.0 885.6L120.5 885.3L119.0 885.5L117.5 885.4L116.0 885.8Z" fill="#a8146e" stroke="#8a0c58" stroke-width="0.6"/>
<path d="M522.0 878.2V885.3M522.8 878.9V886.7M523.5 878.7V887.3M524.2 878.2V886.3M525.0 878.4V887.1M525.8 878.2V885.6M526.5 878.2V887.1M527.2 879.0V885.5M528.0 879.1V887.5M528.8 878.2V887.0M529.5 878.9V886.5M530.2 878.0V885.0M531.0 879.2V885.8M531.8 879.1V887.1M532.5 879.2V886.8M533.2 879.0V887.1M534.0 879.4V887.3M534.8 879.3V885.8M535.5 879.3V885.2M536.2 877.9V887.2M537.0 878.6V887.4M537.8 878.2V885.2M538.5 877.8V887.2M539.2 879.1V886.1M540.0 878.8V885.1M540.8 879.4V885.7M541.5 877.9V886.2M542.2 878.5V886.2M543.0 878.9V885.5M543.8 879.1V885.8M544.5 878.3V887.2M545.2 879.0V886.8M546.0 879.1V886.1M546.8 878.2V886.3M547.5 879.2V885.4M548.2 878.9V886.2M180.6 882.0V886.6M180.0 882.0V885.7M168.0 882.0V885.2M161.4 882.0V885.4M161.6 882.0V886.4M170.8 882.0V886.7M175.5 882.0V887.4M169.7 882.0V886.3M169.8 882.0V885.9M164.9 882.0V885.4M164.6 882.0V886.0M167.6 882.0V886.1M173.4 882.0V887.5M171.2 882.0V887.5M164.2 882.0V886.3M171.1 882.0V885.9M167.9 882.0V885.2M181.5 882.0V884.7M177.0 882.0V885.9M165.0 882.0V885.4M180.6 882.0V885.5M171.0 882.0V885.7M173.2 882.0V886.2M169.8 882.0V884.8M156.7 882.0V886.5M156.1 882.0V886.1M163.3 882.0V886.7M164.4 882.0V884.6M160.1 882.0V885.5M172.8 882.0V886.6" stroke="#a8146e" stroke-width="0.9"/>
<rect x="125" y="76.4" width="4" height="6" fill="#e8a030"/>
<rect x="1006.8" y="81.3" width="4" height="6" fill="#e8a030"/>
<rect x="114.1" y="754.9" width="4" height="6" fill="#e8a030"/>
<rect x="125.5" y="76.4" width="748.9" height="465.3" fill="none" stroke="#707070" stroke-width="2"/>
<rect x="1007.3" y="81.3" width="746.9" height="465" fill="none" stroke="#707070" stroke-width="2"/>
<rect x="114.6" y="754.9" width="754.2" height="468.2" fill="none" stroke="#707070" stroke-width="2"/>
<path d="M724.72 76.4V541.7" stroke="#2a2a2a" stroke-width="2.2" stroke-dasharray="15 8.45" fill="none"/>
<path d="M1605.1 81.3V546.3" stroke="#2a2a2a" stroke-width="2.2" stroke-dasharray="15 8.85" fill="none"/>
<path d="M221 119.4L185.45 144.51" stroke="#000" stroke-width="1.45" fill="none"/>
<path d="M175.4 151.6L183.85 137.56L185.45 144.51L191.46 148.34Z" fill="#000"/>
<path d="M317.4 164.5L261.34 204.19" stroke="#000" stroke-width="1.45" fill="none"/>
<path d="M251.3 211.3L259.73 197.25L261.34 204.19L267.36 208.02Z" fill="#000"/>
<path d="M240.1 280.8L188.38 230.02" stroke="#000" stroke-width="1.45" fill="none"/>
<path d="M179.6 221.4L194.93 227.2L188.38 230.02L185.68 236.62Z" fill="#000"/>
<path d="M364.4 317.4L323.09 277" stroke="#000" stroke-width="1.45" fill="none"/>
<path d="M314.3 268.4L329.64 274.17L323.09 277L320.41 283.61Z" fill="#000"/>
<path d="M766.8 224.8L740.19 203.06" stroke="#000" stroke-width="1.45" fill="none"/>
<path d="M731.3 195.8L745.94 200.01L740.19 203.06L738.35 209.3Z" fill="#000"/>
<path d="M1109.1 215.4L1059.18 263.19" stroke="#000" stroke-width="1.45" fill="none"/>
<path d="M1050.3 271.7L1056.57 256.56L1059.18 263.19L1065.7 266.09Z" fill="#000"/>
<path d="M1166.8 253L1068.15 328.81" stroke="#000" stroke-width="1.45" fill="none"/>
<path d="M1058.4 336.3L1066.27 321.93L1068.15 328.81L1074.32 332.39Z" fill="#000"/>
<path d="M1112.7 458.4L1063.87 362.17" stroke="#000" stroke-width="1.45" fill="none"/>
<path d="M1058.3 351.2L1070.97 361.59L1063.87 362.17L1059.2 367.56Z" fill="#000"/>
<path d="M1186.1 426.3L1135.89 374.81" stroke="#000" stroke-width="1.45" fill="none"/>
<path d="M1127.3 366L1142.5 372.13L1135.89 374.81L1133.05 381.35Z" fill="#000"/>
<path d="M1646.3 229.5L1619.42 207.73" stroke="#000" stroke-width="1.45" fill="none"/>
<path d="M1610.5 200.5L1625.16 204.65L1619.42 207.73L1617.6 213.97Z" fill="#000"/>
<path d="M230.4 821.2L275.02 865.99" stroke="#000" stroke-width="1.45" fill="none"/>
<path d="M283.7 874.7L268.44 868.73L275.02 865.99L277.79 859.42Z" fill="#000"/>
<path d="M1007.6 233V424" stroke="#1c2410" stroke-width="2.6"/><path d="M1005.4 341V406" stroke="#a01868" stroke-width="2"/>
<path d="M116 830V1223" stroke="#2c1226" stroke-width="3.2"/>
<text transform="translate(170.94,68.8) scale(0.9000,1.0000)" font-family="'Liberation Sans', sans-serif" font-size="16" fill="#ecec9a">1</text>
<text transform="translate(212.35,68.8) scale(1.0117,1.0000)" font-family="'Liberation Sans', sans-serif" font-size="16" fill="#464646">4.0V/</text>
<text transform="translate(281.71,68.8) scale(1.1200,1.0000)" font-family="'Liberation Sans', sans-serif" font-size="16" fill="#5cc45c">2</text>
<text transform="translate(325.15,68.8) scale(0.9848,1.0000)" font-family="'Liberation Sans', sans-serif" font-size="16" fill="#464646">4.0V/</text>
<text transform="translate(394.1,68.8) scale(1.1200,1.0000)" font-family="'Liberation Sans', sans-serif" font-size="16" fill="#7088d4">3</text>
<text transform="translate(436.75,68.8) scale(1.0117,1.0000)" font-family="'Liberation Sans', sans-serif" font-size="16" fill="#464646">4.0V/</text>
<text transform="translate(507.76,68.8) scale(0.9697,1.0000)" font-family="'Liberation Sans', sans-serif" font-size="16" fill="#e040b8">4</text>
<text transform="translate(549.05,68.8) scale(0.9821,1.0000)" font-family="'Liberation Sans', sans-serif" font-size="16" fill="#464646">4.0V/</text>
<text transform="translate(626.62,68.8) scale(0.9779,1.0000)" font-family="'Liberation Sans', sans-serif" font-size="16" fill="#464646">1.000s/</text>
<text transform="translate(710.71,68.8) scale(0.9800,1.0000)" font-family="'Liberation Sans', sans-serif" font-size="16" fill="#464646">5.000s</text>
<text transform="translate(802.17,68.2) scale(1.0420,1.0000)" font-family="'Liberation Sans', 'Noto Sans CJK SC', sans-serif" font-size="14.2" font-weight="bold" fill="#3a3a3a">停止</text>
<text transform="translate(78.11,80.25) scale(1.0028,1.0151)" font-family="'Liberation Serif', serif" font-size="31.5" font-weight="bold" fill="#000">94</text>
<text transform="translate(78.1,137.25) scale(1.0192,1.0336)" font-family="'Liberation Serif', serif" font-size="31.5" font-weight="bold" fill="#000">90</text>
<text transform="translate(77.6,195.25) scale(1.0192,1.0244)" font-family="'Liberation Serif', serif" font-size="31.5" font-weight="bold" fill="#000">86</text>
<text transform="translate(77.58,252.55) scale(1.0362,1.0244)" font-family="'Liberation Serif', serif" font-size="31.5" font-weight="bold" fill="#000">82</text>
<text transform="translate(77.04,315.45) scale(1.0538,1.0382)" font-family="'Liberation Serif', serif" font-size="31.5" font-weight="bold" fill="#000">78</text>
<text transform="translate(77.07,369.75) scale(1.0362,0.9921)" font-family="'Liberation Serif', serif" font-size="31.5" font-weight="bold" fill="#000">74</text>
<text transform="translate(77.04,428.15) scale(1.0538,0.9921)" font-family="'Liberation Serif', serif" font-size="31.5" font-weight="bold" fill="#000">70</text>
<text transform="translate(77.6,485.45) scale(1.0192,0.9921)" font-family="'Liberation Serif', serif" font-size="31.5" font-weight="bold" fill="#000">66</text>
<text transform="translate(77.58,541.75) scale(1.0362,0.9921)" font-family="'Liberation Serif', serif" font-size="31.5" font-weight="bold" fill="#000">62</text>
<text transform="translate(122.5,571.5) scale(1,1.0000)" text-anchor="middle" font-family="'Liberation Serif', serif" font-size="31" font-weight="bold" fill="#000">0</text>
<text transform="translate(190,571.5) scale(1,1.0000)" text-anchor="middle" font-family="'Liberation Serif', serif" font-size="31" font-weight="bold" fill="#000">1</text>
<text transform="translate(271,571.5) scale(1,1.0000)" text-anchor="middle" font-family="'Liberation Serif', serif" font-size="31" font-weight="bold" fill="#000">2</text>
<text transform="translate(347.7,571.5) scale(1,1.0000)" text-anchor="middle" font-family="'Liberation Serif', serif" font-size="31" font-weight="bold" fill="#000">3</text>
<text transform="translate(424,571.5) scale(1,1.0000)" text-anchor="middle" font-family="'Liberation Serif', serif" font-size="31" font-weight="bold" fill="#000">4</text>
<text transform="translate(493.6,571.5) scale(1,1.0000)" text-anchor="middle" font-family="'Liberation Serif', serif" font-size="31" font-weight="bold" fill="#000">5</text>
<text transform="translate(570,571.5) scale(1,1.0000)" text-anchor="middle" font-family="'Liberation Serif', serif" font-size="31" font-weight="bold" fill="#000">6</text>
<text transform="translate(646.8,571.5) scale(1,1.0000)" text-anchor="middle" font-family="'Liberation Serif', serif" font-size="31" font-weight="bold" fill="#000">7</text>
<text transform="translate(723,571.5) scale(1,1.0000)" text-anchor="middle" font-family="'Liberation Serif', serif" font-size="31" font-weight="bold" fill="#000">8</text>
<text transform="translate(796.7,571.5) scale(1,1.0000)" text-anchor="middle" font-family="'Liberation Serif', serif" font-size="31" font-weight="bold" fill="#000">9</text>
<text transform="translate(871.6,571.5) scale(1,1.0000)" text-anchor="middle" font-family="'Liberation Serif', serif" font-size="31" font-weight="bold" fill="#000">10</text>
<text transform="translate(445.5,599.7) scale(0.9948,1.0000)" font-family="'Liberation Serif', serif" font-size="32" fill="#000">Time(s)</text>
<text transform="translate(473.96,634) scale(1.0706,1.0000)" font-family="'Liberation Serif', serif" font-size="31" fill="#000">(a)</text>
<text transform="translate(57.8,365.89) rotate(-90) scale(1.0119,1.0600)" font-family="'Liberation Serif', serif" font-size="31.5" font-weight="bold" fill="#000">SOC(%)</text>
<text transform="translate(770.92,248.8) scale(1.0131,1.0400)" font-family="'Liberation Serif', serif" font-size="31" font-weight="bold" fill="#000">8s</text>
<text transform="translate(1.87,30.3) scale(1.0215,1.0000)" font-family="'Liberation Sans', sans-serif" font-size="39.3" font-weight="bold" fill="#000">A</text>
<text transform="translate(1051.94,73.8) scale(0.9000,1.0000)" font-family="'Liberation Sans', sans-serif" font-size="16" fill="#ecec9a">1</text>
<text transform="translate(1092.93,73.8) scale(1.0255,1.0000)" font-family="'Liberation Sans', sans-serif" font-size="16" fill="#464646">6.0V/</text>
<text transform="translate(1163.26,73.8) scale(1.1200,1.0000)" font-family="'Liberation Sans', sans-serif" font-size="16" fill="#5cc45c">2</text>
<text transform="translate(1205.65,73.8) scale(0.9983,1.0000)" font-family="'Liberation Sans', sans-serif" font-size="16" fill="#464646">6.0V/</text>
<text transform="translate(1275.86,73.8) scale(1.0710,1.0000)" font-family="'Liberation Sans', sans-serif" font-size="16" fill="#7088d4">3</text>
<text transform="translate(1317.45,73.8) scale(0.9955,1.0000)" font-family="'Liberation Sans', sans-serif" font-size="16" fill="#464646">6.0V/</text>
<text transform="translate(1388.46,73.8) scale(0.9000,1.0000)" font-family="'Liberation Sans', sans-serif" font-size="16" fill="#e040b8">4</text>
<text transform="translate(1429.03,73.8) scale(1.0255,1.0000)" font-family="'Liberation Sans', sans-serif" font-size="16" fill="#464646">6.0V/</text>
<text transform="translate(1507.34,73.8) scale(0.9643,1.0000)" font-family="'Liberation Sans', sans-serif" font-size="16" fill="#464646">1.000s/</text>
<text transform="translate(1591.92,73.8) scale(0.9630,1.0000)" font-family="'Liberation Sans', sans-serif" font-size="16" fill="#464646">5.000s</text>
<text transform="translate(1681.76,73.2) scale(1.0781,1.0000)" font-family="'Liberation Sans', 'Noto Sans CJK SC', sans-serif" font-size="14.2" font-weight="bold" fill="#3a3a3a">停止</text>
<text transform="translate(964.4,91.45) scale(1.0193,0.9967)" font-family="'Liberation Serif', serif" font-size="31.5" font-weight="bold" fill="#000">32</text>
<text transform="translate(964.41,145.35) scale(1.0026,0.9782)" font-family="'Liberation Serif', serif" font-size="31.5" font-weight="bold" fill="#000">26</text>
<text transform="translate(964.4,204.15) scale(1.0193,0.9921)" font-family="'Liberation Serif', serif" font-size="31.5" font-weight="bold" fill="#000">20</text>
<text transform="translate(963.89,262.55) scale(1.0194,1.0428)" font-family="'Liberation Serif', serif" font-size="31.5" font-weight="bold" fill="#000">14</text>
<text transform="translate(973.5,322.15) scale(1.1175,1.0151)" font-family="'Liberation Serif', serif" font-size="31.5" font-weight="bold" fill="#000">8</text>
<text transform="translate(974.41,380.65) scale(1.0014,0.9921)" font-family="'Liberation Serif', serif" font-size="31.5" font-weight="bold" fill="#000">2</text>
<text transform="translate(966.99,438.15) scale(1.0298,0.9921)" font-family="'Liberation Serif', serif" font-size="31.5" font-weight="bold" fill="#000">-4</text>
<text transform="translate(953.21,497.45) scale(1.0070,0.9828)" font-family="'Liberation Serif', serif" font-size="31.5" font-weight="bold" fill="#000">-10</text>
<text transform="translate(956.42,551.65) scale(0.9947,0.9828)" font-family="'Liberation Serif', serif" font-size="31.5" font-weight="bold" fill="#000">-16</text>
<text transform="translate(1007.3,575.2) scale(1,1.0000)" text-anchor="middle" font-family="'Liberation Serif', serif" font-size="31" font-weight="bold" fill="#000">0</text>
<text transform="translate(1073.9,575.2) scale(1,1.0000)" text-anchor="middle" font-family="'Liberation Serif', serif" font-size="31" font-weight="bold" fill="#000">1</text>
<text transform="translate(1154.9,575.2) scale(1,1.0000)" text-anchor="middle" font-family="'Liberation Serif', serif" font-size="31" font-weight="bold" fill="#000">2</text>
<text transform="translate(1231.2,575.2) scale(1,1.0000)" text-anchor="middle" font-family="'Liberation Serif', serif" font-size="31" font-weight="bold" fill="#000">3</text>
<text transform="translate(1307.5,575.2) scale(1,1.0000)" text-anchor="middle" font-family="'Liberation Serif', serif" font-size="31" font-weight="bold" fill="#000">4</text>
<text transform="translate(1377,575.2) scale(1,1.0000)" text-anchor="middle" font-family="'Liberation Serif', serif" font-size="31" font-weight="bold" fill="#000">5</text>
<text transform="translate(1453.5,575.2) scale(1,1.0000)" text-anchor="middle" font-family="'Liberation Serif', serif" font-size="31" font-weight="bold" fill="#000">6</text>
<text transform="translate(1529.8,575.2) scale(1,1.0000)" text-anchor="middle" font-family="'Liberation Serif', serif" font-size="31" font-weight="bold" fill="#000">7</text>
<text transform="translate(1605.7,575.2) scale(1,1.0000)" text-anchor="middle" font-family="'Liberation Serif', serif" font-size="31" font-weight="bold" fill="#000">8</text>
<text transform="translate(1679,575.2) scale(1,1.0000)" text-anchor="middle" font-family="'Liberation Serif', serif" font-size="31" font-weight="bold" fill="#000">9</text>
<text transform="translate(1753,575.2) scale(1,1.0000)" text-anchor="middle" font-family="'Liberation Serif', serif" font-size="31" font-weight="bold" fill="#000">10</text>
<text transform="translate(1331.02,603.8) scale(0.9582,1.0000)" font-family="'Liberation Serif', serif" font-size="32" fill="#000">Time(s)</text>
<text transform="translate(1358.48,633.5) scale(1.0512,1.0000)" font-family="'Liberation Serif', serif" font-size="31" fill="#000">(b)</text>
<text transform="translate(939.8,427.48) rotate(-90) scale(1.0120,1.0000)" font-family="'Liberation Serif', serif" font-size="31.2" font-weight="bold" fill="#000">Output current (A)</text>
<text transform="translate(1650.81,254.8) scale(1.0170,1.0400)" font-family="'Liberation Serif', serif" font-size="31" font-weight="bold" fill="#000">8s</text>
<text transform="translate(912.73,30.3) scale(0.9649,1.0000)" font-family="'Liberation Sans', sans-serif" font-size="39.3" font-weight="bold" fill="#000">B</text>
<text transform="translate(161.04,747.3) scale(0.9000,1.0000)" font-family="'Liberation Sans', sans-serif" font-size="16" fill="#ecec9a">1</text>
<text transform="translate(272.46,747.3) scale(1.1200,1.0000)" font-family="'Liberation Sans', sans-serif" font-size="16" fill="#5cc45c">2</text>
<text transform="translate(386.05,747.3) scale(1.1097,1.0000)" font-family="'Liberation Sans', sans-serif" font-size="16" fill="#7088d4">3</text>
<text transform="translate(498.96,747.3) scale(0.9576,1.0000)" font-family="'Liberation Sans', sans-serif" font-size="16" fill="#e040b8">4</text>
<text transform="translate(543.51,747.3) scale(0.9886,1.0000)" font-family="'Liberation Sans', sans-serif" font-size="16" fill="#464646">50V/</text>
<text transform="translate(619.12,747.3) scale(0.9779,1.0000)" font-family="'Liberation Sans', sans-serif" font-size="16" fill="#464646">1.000s/</text>
<text transform="translate(704.31,747.3) scale(0.9800,1.0000)" font-family="'Liberation Sans', sans-serif" font-size="16" fill="#464646">5.000s</text>
<text transform="translate(795.76,746.7) scale(1.0817,1.0000)" font-family="'Liberation Sans', 'Noto Sans CJK SC', sans-serif" font-size="14.2" font-weight="bold" fill="#3a3a3a">停止</text>
<text transform="translate(59.11,761.65) scale(1.0048,0.9690)" font-family="'Liberation Serif', serif" font-size="31.5" font-weight="bold" fill="#000">500</text>
<text transform="translate(58.3,816.25) scale(1.0029,0.9644)" font-family="'Liberation Serif', serif" font-size="31.5" font-weight="bold" fill="#000">450</text>
<text transform="translate(56.2,875.15) scale(1.0029,1.0013)" font-family="'Liberation Serif', serif" font-size="31.5" font-weight="bold" fill="#000">400</text>
<text transform="translate(55.79,933.35) scale(1.0247,0.9551)" font-family="'Liberation Serif', serif" font-size="31.5" font-weight="bold" fill="#000">350</text>
<text transform="translate(55.49,991.55) scale(1.0269,1.0013)" font-family="'Liberation Serif', serif" font-size="31.5" font-weight="bold" fill="#000">300</text>
<text transform="translate(55.79,1052.65) scale(1.0269,1.0013)" font-family="'Liberation Serif', serif" font-size="31.5" font-weight="bold" fill="#000">250</text>
<text transform="translate(55.88,1110.35) scale(1.0357,1.0013)" font-family="'Liberation Serif', serif" font-size="31.5" font-weight="bold" fill="#000">200</text>
<text transform="translate(54.39,1166.35) scale(1.0615,1.0013)" font-family="'Liberation Serif', serif" font-size="31.5" font-weight="bold" fill="#000">150</text>
<text transform="translate(54.39,1223.25) scale(1.0615,1.0428)" font-family="'Liberation Serif', serif" font-size="31.5" font-weight="bold" fill="#000">100</text>
<text transform="translate(117.4,1251.4) scale(1,1.0000)" text-anchor="middle" font-family="'Liberation Serif', serif" font-size="31" font-weight="bold" fill="#000">0</text>
<text transform="translate(183.8,1251.4) scale(1,1.0000)" text-anchor="middle" font-family="'Liberation Serif', serif" font-size="31" font-weight="bold" fill="#000">1</text>
<text transform="translate(265,1251.4) scale(1,1.0000)" text-anchor="middle" font-family="'Liberation Serif', serif" font-size="31" font-weight="bold" fill="#000">2</text>
<text transform="translate(342.8,1251.4) scale(1,1.0000)" text-anchor="middle" font-family="'Liberation Serif', serif" font-size="31" font-weight="bold" fill="#000">3</text>
<text transform="translate(420.3,1251.4) scale(1,1.0000)" text-anchor="middle" font-family="'Liberation Serif', serif" font-size="31" font-weight="bold" fill="#000">4</text>
<text transform="translate(489.5,1251.4) scale(1,1.0000)" text-anchor="middle" font-family="'Liberation Serif', serif" font-size="31" font-weight="bold" fill="#000">5</text>
<text transform="translate(567.1,1251.4) scale(1,1.0000)" text-anchor="middle" font-family="'Liberation Serif', serif" font-size="31" font-weight="bold" fill="#000">6</text>
<text transform="translate(642.8,1251.4) scale(1,1.0000)" text-anchor="middle" font-family="'Liberation Serif', serif" font-size="31" font-weight="bold" fill="#000">7</text>
<text transform="translate(719.2,1251.4) scale(1,1.0000)" text-anchor="middle" font-family="'Liberation Serif', serif" font-size="31" font-weight="bold" fill="#000">8</text>
<text transform="translate(794.2,1251.4) scale(1,1.0000)" text-anchor="middle" font-family="'Liberation Serif', serif" font-size="31" font-weight="bold" fill="#000">9</text>
<text transform="translate(868.6,1251.4) scale(1,1.0000)" text-anchor="middle" font-family="'Liberation Serif', serif" font-size="31" font-weight="bold" fill="#000">10</text>
<text transform="translate(441.3,1281) scale(0.9958,1.0000)" font-family="'Liberation Serif', serif" font-size="32" fill="#000">Time(s)</text>
<text transform="translate(469.91,1306.2) scale(1.1202,1.0000)" font-family="'Liberation Serif', serif" font-size="31" fill="#000">(c)</text>
<text transform="translate(32.2,1079.09) rotate(-90) scale(1.0044,1.0400)" font-family="'Liberation Serif', serif" font-size="31.2" font-weight="bold" fill="#000">Bus voltage (V)</text>
<text transform="translate(1.37,704.6) scale(0.9241,1.0000)" font-family="'Liberation Sans', sans-serif" font-size="39.3" font-weight="bold" fill="#000">C</text>
<text transform="translate(227.1,123.7) scale(1.0549,1.0700)" font-family="'Liberation Serif', serif" font-size="34.5" font-style="italic" fill="#000">SOC</text>
<text transform="translate(296.19,128.3) scale(0.9000,1.0000)" font-family="'Liberation Serif', serif" font-size="22" fill="#000">1</text>
<text transform="translate(307.3,162.5) scale(1.0579,1.0700)" font-family="'Liberation Serif', serif" font-size="34.5" font-style="italic" fill="#000">SOC</text>
<text transform="translate(377.03,166.3) scale(1.1200,1.0000)" font-family="'Liberation Serif', serif" font-size="22" fill="#000">2</text>
<text transform="translate(199.3,319.9) scale(1.0427,1.0300)" font-family="'Liberation Serif', serif" font-size="34.5" font-style="italic" fill="#000">SOC</text>
<text transform="translate(267.55,325.3) scale(1.1200,1.0000)" font-family="'Liberation Serif', serif" font-size="22" fill="#000">3</text>
<text transform="translate(334.1,348.3) scale(1.0534,1.0300)" font-family="'Liberation Serif', serif" font-size="34.5" font-style="italic" fill="#000">SOC</text>
<text transform="translate(403.79,353.2) scale(1.1200,1.0000)" font-family="'Liberation Serif', serif" font-size="22" fill="#000">4</text>
<text transform="translate(1116.16,214.1) scale(1.1200,1.1300)" font-family="'Liberation Serif', serif" font-size="33.5" font-style="italic" fill="#000">I</text>
<text transform="translate(1127.75,219.1) scale(1.1200,1.0000)" font-family="'Liberation Serif', serif" font-size="20.5" fill="#000">1</text>
<text transform="translate(1178.76,246.3) scale(1.1200,1.1400)" font-family="'Liberation Serif', serif" font-size="33.5" font-style="italic" fill="#000">I</text>
<text transform="translate(1193.34,250.4) scale(1.1200,1.0000)" font-family="'Liberation Serif', serif" font-size="20.5" fill="#000">2</text>
<text transform="translate(1105.94,495.5) scale(1.0316,1.0000)" font-family="'Liberation Serif', serif" font-size="33.5" font-style="italic" fill="#000">I</text>
<text transform="translate(1118.23,500.2) scale(1.1200,1.0000)" font-family="'Liberation Serif', serif" font-size="20.5" fill="#000">3</text>
<text transform="translate(1195.71,463.4) scale(1.1200,1.0200)" font-family="'Liberation Serif', serif" font-size="33.5" font-style="italic" fill="#000">I</text>
<text transform="translate(1209.87,468.6) scale(1.0198,1.0000)" font-family="'Liberation Serif', serif" font-size="20.5" fill="#000">4</text>
<text transform="translate(182.53,814) scale(0.9767,1.0500)" font-family="'Liberation Serif', serif" font-size="32" font-style="italic" fill="#000">V</text>
<text transform="translate(204.5,818.5) scale(1.1112,1.0000)" font-family="'Liberation Serif', serif" font-size="19" fill="#000">bus</text>
<text x="127.89 135.89 145.44 151.89 159.26" y="86.9" font-family="'Liberation Sans', sans-serif" font-weight="bold" font-size="11.2" fill="#7b4853">94.0V</text>
<text x="127.79 135.79 145.34 151.79" y="131.7" font-family="'Liberation Sans', sans-serif" font-weight="bold" font-size="11.2" fill="#7b4853">90.0</text>
<text x="127.79 135.79 145.34 151.79" y="190" font-family="'Liberation Sans', sans-serif" font-weight="bold" font-size="11.2" fill="#7b4853">86.0</text>
<text x="127.79 135.79 145.34 151.79" y="248.3" font-family="'Liberation Sans', sans-serif" font-weight="bold" font-size="11.2" fill="#7b4853">82.0</text>
<text x="127.79 135.79 145.34 151.79" y="306.6" font-family="'Liberation Sans', sans-serif" font-weight="bold" font-size="11.2" fill="#7b4853">78.0</text>
<text x="127.79 135.79 145.34 151.79" y="364.9" font-family="'Liberation Sans', sans-serif" font-weight="bold" font-size="11.2" fill="#7b4853">74.0</text>
<text x="127.79 135.79 145.34 151.79" y="423.2" font-family="'Liberation Sans', sans-serif" font-weight="bold" font-size="11.2" fill="#7b4853">70.0</text>
<text x="127.79 135.79 145.34 151.79" y="481.5" font-family="'Liberation Sans', sans-serif" font-weight="bold" font-size="11.2" fill="#7b4853">66.0</text>
<text x="184.03 193.58 200.03 208.03" y="539" font-family="'Liberation Sans', sans-serif" font-weight="bold" font-size="11.2" fill="#7b4853">1.00</text>
<text x="333.71 343.26 349.71 357.71" y="539" font-family="'Liberation Sans', sans-serif" font-weight="bold" font-size="11.2" fill="#7b4853">3.00</text>
<text x="483.39 492.94 499.39 507.39" y="539" font-family="'Liberation Sans', sans-serif" font-weight="bold" font-size="11.2" fill="#7b4853">5.00</text>
<text x="633.07 642.62 649.07 657.07" y="539" font-family="'Liberation Sans', sans-serif" font-weight="bold" font-size="11.2" fill="#7b4853">7.00</text>
<text x="778.75 788.3 794.75 802.75 810.75" y="539" font-family="'Liberation Sans', sans-serif" font-weight="bold" font-size="11.2" fill="#7b4853">9.00s</text>
<text x="1009.59 1017.59 1027.14 1033.59 1040.96" y="93.2" font-family="'Liberation Sans', sans-serif" font-weight="bold" font-size="11.2" fill="#7b4853">32.0V</text>
<text x="1009.29 1017.29 1026.84 1033.29" y="136" font-family="'Liberation Sans', sans-serif" font-weight="bold" font-size="11.2" fill="#7b4853">26.0</text>
<text x="1009.29 1017.29 1026.84 1033.29" y="194.3" font-family="'Liberation Sans', sans-serif" font-weight="bold" font-size="11.2" fill="#7b4853">20.0</text>
<text x="1009.29 1017.29 1026.84 1033.29" y="252.6" font-family="'Liberation Sans', sans-serif" font-weight="bold" font-size="11.2" fill="#7b4853">14.0</text>
<text x="1009.29 1018.84 1025.29 1033.29" y="310.9" font-family="'Liberation Sans', sans-serif" font-weight="bold" font-size="11.2" fill="#7b4853">8.00</text>
<text x="1009.29 1018.84 1025.29 1033.29" y="369.2" font-family="'Liberation Sans', sans-serif" font-weight="bold" font-size="11.2" fill="#7b4853">2.00</text>
<text x="1010.54 1017.29 1026.84 1033.29 1041.29" y="427.5" font-family="'Liberation Sans', sans-serif" font-weight="bold" font-size="11.2" fill="#7b4853">-4.00</text>
<text x="1010.54 1017.29 1025.29 1034.84 1041.29" y="485.8" font-family="'Liberation Sans', sans-serif" font-weight="bold" font-size="11.2" fill="#7b4853">-10.0</text>
<text x="1065.39 1074.94 1081.39 1089.39" y="544.3" font-family="'Liberation Sans', sans-serif" font-weight="bold" font-size="11.2" fill="#7b4853">1.00</text>
<text x="1214.79 1224.34 1230.79 1238.79" y="544.3" font-family="'Liberation Sans', sans-serif" font-weight="bold" font-size="11.2" fill="#7b4853">3.00</text>
<text x="1364.19 1373.74 1380.19 1388.19" y="544.3" font-family="'Liberation Sans', sans-serif" font-weight="bold" font-size="11.2" fill="#7b4853">5.00</text>
<text x="1513.59 1523.14 1529.59 1537.59" y="544.3" font-family="'Liberation Sans', sans-serif" font-weight="bold" font-size="11.2" fill="#7b4853">7.00</text>
<text x="1658.99 1668.54 1674.99 1682.99 1690.99" y="544.3" font-family="'Liberation Sans', sans-serif" font-weight="bold" font-size="11.2" fill="#7b4853">9.00s</text>
<text x="116.09 124.09 132.09 139.46" y="766.3" font-family="'Liberation Sans', sans-serif" font-weight="bold" font-size="11.2" fill="#7b4853">500V</text>
<text x="116.89 124.89 132.89" y="810.4" font-family="'Liberation Sans', sans-serif" font-weight="bold" font-size="11.2" fill="#7b4853">450</text>
<text x="116.89 124.89 132.89" y="869.1" font-family="'Liberation Sans', sans-serif" font-weight="bold" font-size="11.2" fill="#7b4853">400</text>
<text x="116.89 124.89 132.89" y="927.8" font-family="'Liberation Sans', sans-serif" font-weight="bold" font-size="11.2" fill="#7b4853">350</text>
<text x="116.89 124.89 132.89" y="986.5" font-family="'Liberation Sans', sans-serif" font-weight="bold" font-size="11.2" fill="#7b4853">300</text>
<text x="116.89 124.89 132.89" y="1045.2" font-family="'Liberation Sans', sans-serif" font-weight="bold" font-size="11.2" fill="#7b4853">250</text>
<text x="116.89 124.89 132.89" y="1103.9" font-family="'Liberation Sans', sans-serif" font-weight="bold" font-size="11.2" fill="#7b4853">200</text>
<text x="116.89 124.89 132.89" y="1162.6" font-family="'Liberation Sans', sans-serif" font-weight="bold" font-size="11.2" fill="#7b4853">150</text>
<text x="173.03 182.58 189.03 197.03" y="1220.6" font-family="'Liberation Sans', sans-serif" font-weight="bold" font-size="11.2" fill="#7b4853">1.00</text>
<text x="323.91 333.46 339.91 347.91" y="1220.6" font-family="'Liberation Sans', sans-serif" font-weight="bold" font-size="11.2" fill="#7b4853">3.00</text>
<text x="474.79 484.34 490.79 498.79" y="1220.6" font-family="'Liberation Sans', sans-serif" font-weight="bold" font-size="11.2" fill="#7b4853">5.00</text>
<text x="625.67 635.22 641.67 649.67" y="1220.6" font-family="'Liberation Sans', sans-serif" font-weight="bold" font-size="11.2" fill="#7b4853">7.00</text>
<text x="772.55 782.1 788.55 796.55 804.55" y="1220.6" font-family="'Liberation Sans', sans-serif" font-weight="bold" font-size="11.2" fill="#7b4853">9.00s</text>
</svg>
</body></html>
